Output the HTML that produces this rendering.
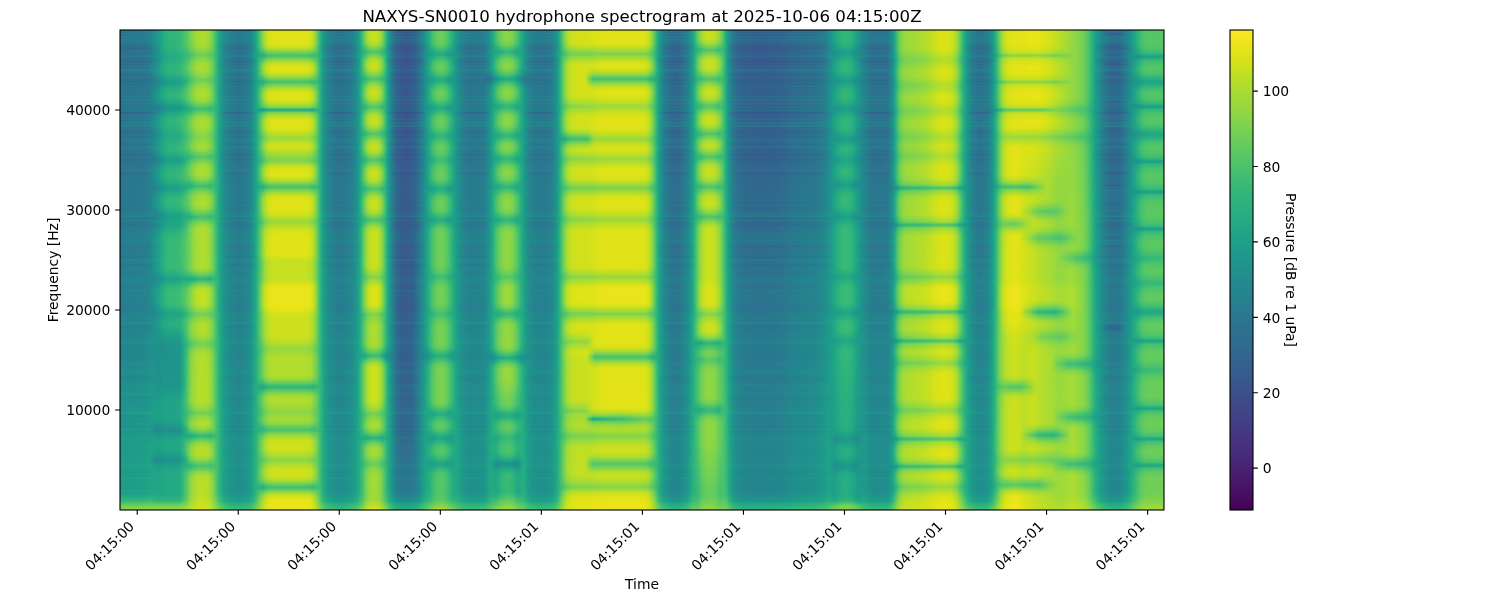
<!DOCTYPE html>
<html><head><meta charset="utf-8"><title>NAXYS-SN0010 hydrophone spectrogram</title>
<style>html,body{margin:0;padding:0;background:#fff}svg{display:block}text{font-family:"DejaVu Sans","Liberation Sans",sans-serif;font-size:13.889px;fill:#000}</style></head>
<body><svg width="1500" height="600" viewBox="0 0 1500 600">
<defs>
<filter id="vir" x="0" y="0" width="100%" height="100%" color-interpolation-filters="sRGB"><feComponentTransfer><feFuncR type="table" tableValues=".267 .269 .270 .271 .273 .274 .275 .276 .277 .278 .279 .280 .280 .281 .281 .282 .282 .283 .283 .283 .283 .283 .283 .283 .283 .283 .282 .282 .281 .281 .280 .280 .279 .278 .277 .276 .275 .274 .273 .272 .271 .269 .268 .267 .265 .264 .262 .261 .259 .257 .256 .254 .252 .250 .249 .247 .245 .243 .241 .239 .237 .236 .234 .232 .230 .228 .226 .224 .222 .220 .218 .216 .214 .212 .211 .209 .207 .205 .203 .201 .199 .198 .196 .194 .192 .191 .189 .187 .186 .184 .182 .181 .179 .177 .176 .174 .173 .171 .170 .168 .167 .165 .164 .162 .161 .159 .158 .156 .155 .153 .152 .150 .149 .148 .146 .145 .143 .142 .141 .139 .138 .136 .135 .134 .132 .131 .130 .129 .128 .126 .125 .124 .123 .123 .122 .121 .121 .120 .120 .120 .119 .119 .120 .120 .121 .121 .122 .123 .125 .126 .128 .130 .132 .135 .137 .140 .143 .147 .150 .154 .158 .162 .166 .171 .176 .181 .186 .191 .197 .202 .208 .214 .220 .226 .233 .239 .246 .253 .260 .267 .274 .281 .289 .296 .304 .312 .320 .328 .336 .344 .352 .361 .369 .378 .386 .395 .404 .413 .422 .431 .440 .449 .459 .468 .478 .487 .497 .506 .516 .526 .536 .546 .555 .565 .576 .586 .596 .606 .616 .627 .637 .647 .658 .668 .678 .689 .699 .710 .720 .731 .741 .752 .762 .773 .783 .794 .804 .815 .825 .835 .846 .856 .866 .876 .886 .896 .906 .916 .926 .936 .946 .955 .965 .974 .984 .993"/><feFuncG type="table" tableValues=".005 .010 .015 .020 .026 .031 .038 .044 .050 .056 .062 .068 .073 .079 .084 .090 .095 .100 .105 .111 .116 .121 .126 .131 .136 .141 .146 .151 .156 .161 .166 .171 .175 .180 .185 .190 .195 .200 .205 .209 .214 .219 .224 .228 .233 .238 .242 .247 .252 .256 .261 .265 .270 .274 .279 .283 .288 .292 .296 .301 .305 .310 .314 .318 .322 .327 .331 .335 .339 .343 .347 .352 .356 .360 .364 .368 .372 .376 .380 .384 .388 .392 .395 .399 .403 .407 .411 .415 .419 .422 .426 .430 .434 .438 .441 .445 .449 .453 .456 .460 .464 .467 .471 .475 .479 .482 .486 .490 .493 .497 .501 .504 .508 .512 .515 .519 .523 .526 .530 .534 .537 .541 .545 .549 .552 .556 .560 .563 .567 .571 .574 .578 .582 .585 .589 .593 .596 .600 .604 .607 .611 .615 .618 .622 .626 .629 .633 .637 .640 .644 .648 .651 .655 .659 .662 .666 .669 .673 .677 .680 .684 .687 .691 .694 .698 .701 .705 .708 .712 .715 .719 .722 .726 .729 .732 .736 .739 .742 .745 .749 .752 .755 .758 .762 .765 .768 .771 .774 .777 .780 .783 .786 .789 .792 .795 .797 .800 .803 .806 .808 .811 .814 .816 .819 .821 .824 .826 .829 .831 .833 .836 .838 .840 .842 .845 .847 .849 .851 .853 .855 .857 .858 .860 .862 .864 .865 .867 .869 .870 .872 .873 .875 .876 .878 .879 .881 .882 .883 .885 .886 .887 .889 .890 .891 .892 .894 .895 .896 .897 .899 .900 .901 .902 .904 .905 .906"/><feFuncB type="table" tableValues=".329 .335 .341 .347 .353 .359 .365 .370 .376 .381 .387 .392 .397 .402 .407 .412 .417 .422 .427 .432 .436 .441 .445 .449 .453 .458 .462 .465 .469 .473 .476 .480 .483 .487 .490 .493 .496 .499 .502 .504 .507 .510 .512 .514 .517 .519 .521 .523 .525 .527 .528 .530 .532 .533 .535 .536 .537 .539 .540 .541 .542 .543 .544 .545 .546 .547 .547 .548 .549 .549 .550 .551 .551 .552 .552 .553 .553 .554 .554 .554 .555 .555 .555 .556 .556 .556 .556 .557 .557 .557 .557 .557 .557 .558 .558 .558 .558 .558 .558 .558 .558 .558 .558 .558 .558 .558 .558 .558 .558 .558 .558 .557 .557 .557 .557 .557 .556 .556 .556 .555 .555 .554 .554 .554 .553 .552 .552 .551 .551 .550 .549 .548 .547 .547 .546 .545 .544 .543 .541 .540 .539 .538 .536 .535 .533 .532 .530 .529 .527 .525 .523 .522 .520 .518 .516 .513 .511 .509 .507 .504 .502 .499 .497 .494 .491 .488 .485 .482 .479 .476 .473 .470 .466 .463 .459 .456 .452 .448 .444 .441 .437 .433 .428 .424 .420 .416 .411 .407 .402 .397 .393 .388 .383 .378 .373 .368 .363 .357 .352 .346 .341 .335 .330 .324 .318 .312 .306 .300 .294 .288 .282 .276 .269 .263 .256 .250 .243 .237 .230 .223 .217 .210 .203 .196 .190 .183 .176 .169 .163 .156 .150 .143 .137 .131 .125 .120 .115 .110 .106 .103 .100 .097 .096 .095 .095 .096 .098 .101 .104 .108 .113 .118 .124 .130 .137 .144"/></feComponentTransfer></filter>
<filter id="vb" x="-5%" y="-5%" width="110%" height="110%" color-interpolation-filters="sRGB"><feGaussianBlur stdDeviation="0 0.9"/></filter>
<filter id="vw" x="-5%" y="-5%" width="110%" height="110%" color-interpolation-filters="sRGB"><feGaussianBlur stdDeviation="0 4"/></filter>
<clipPath id="cp"><rect x="120" y="30" width="1044" height="480"/></clipPath>
<linearGradient id="b" gradientUnits="userSpaceOnUse" x1="120" x2="1164" y1="0" y2="0"><stop offset="0" stop-color="#626262"/><stop offset="0.0029" stop-color="#636363"/><stop offset="0.0057" stop-color="#636363"/><stop offset="0.0086" stop-color="#646464"/><stop offset="0.0115" stop-color="#646464"/><stop offset="0.0144" stop-color="#656565"/><stop offset="0.0172" stop-color="#656565"/><stop offset="0.0201" stop-color="#666666"/><stop offset="0.023" stop-color="#676767"/><stop offset="0.0259" stop-color="#696969"/><stop offset="0.0287" stop-color="#6f6f6f"/><stop offset="0.0316" stop-color="#7a7a7a"/><stop offset="0.0345" stop-color="#858585"/><stop offset="0.0374" stop-color="#8f8f8f"/><stop offset="0.0402" stop-color="#999999"/><stop offset="0.0431" stop-color="#a1a1a1"/><stop offset="0.046" stop-color="#a6a6a6"/><stop offset="0.0489" stop-color="#a7a7a7"/><stop offset="0.0517" stop-color="#a7a7a7"/><stop offset="0.0546" stop-color="#a9a9a9"/><stop offset="0.0575" stop-color="#acacac"/><stop offset="0.0603" stop-color="#b2b2b2"/><stop offset="0.0632" stop-color="#bababa"/><stop offset="0.0661" stop-color="#c4c4c4"/><stop offset="0.069" stop-color="#d0d0d0"/><stop offset="0.0718" stop-color="#d8d8d8"/><stop offset="0.0747" stop-color="#dedede"/><stop offset="0.0776" stop-color="#e0e0e0"/><stop offset="0.0805" stop-color="#e0e0e0"/><stop offset="0.0833" stop-color="#dedede"/><stop offset="0.0862" stop-color="#d6d6d6"/><stop offset="0.0891" stop-color="#c6c6c6"/><stop offset="0.092" stop-color="#afafaf"/><stop offset="0.0948" stop-color="#989898"/><stop offset="0.0977" stop-color="#858585"/><stop offset="0.1006" stop-color="#787878"/><stop offset="0.1034" stop-color="#707070"/><stop offset="0.1063" stop-color="#6b6b6b"/><stop offset="0.1092" stop-color="#676767"/><stop offset="0.1121" stop-color="#646464"/><stop offset="0.1149" stop-color="#646464"/><stop offset="0.1178" stop-color="#676767"/><stop offset="0.1207" stop-color="#6a6a6a"/><stop offset="0.1236" stop-color="#707070"/><stop offset="0.1264" stop-color="#7b7b7b"/><stop offset="0.1293" stop-color="#8f8f8f"/><stop offset="0.1322" stop-color="#a9a9a9"/><stop offset="0.1351" stop-color="#c5c5c5"/><stop offset="0.1379" stop-color="#dcdcdc"/><stop offset="0.1408" stop-color="#ebebeb"/><stop offset="0.1437" stop-color="#f1f1f1"/><stop offset="0.1466" stop-color="#f3f3f3"/><stop offset="0.1494" stop-color="#f3f3f3"/><stop offset="0.1523" stop-color="#f4f4f4"/><stop offset="0.1552" stop-color="#f4f4f4"/><stop offset="0.158" stop-color="#f4f4f4"/><stop offset="0.1609" stop-color="#f4f4f4"/><stop offset="0.1638" stop-color="#f4f4f4"/><stop offset="0.1667" stop-color="#f4f4f4"/><stop offset="0.1695" stop-color="#f4f4f4"/><stop offset="0.1724" stop-color="#f4f4f4"/><stop offset="0.1753" stop-color="#f4f4f4"/><stop offset="0.1782" stop-color="#f3f3f3"/><stop offset="0.181" stop-color="#f1f1f1"/><stop offset="0.1839" stop-color="#ebebeb"/><stop offset="0.1868" stop-color="#d9d9d9"/><stop offset="0.1897" stop-color="#bdbdbd"/><stop offset="0.1925" stop-color="#9d9d9d"/><stop offset="0.1954" stop-color="#848484"/><stop offset="0.1983" stop-color="#767676"/><stop offset="0.2011" stop-color="#6e6e6e"/><stop offset="0.204" stop-color="#696969"/><stop offset="0.2069" stop-color="#646464"/><stop offset="0.2098" stop-color="#616161"/><stop offset="0.2126" stop-color="#616161"/><stop offset="0.2155" stop-color="#656565"/><stop offset="0.2184" stop-color="#696969"/><stop offset="0.2213" stop-color="#6d6d6d"/><stop offset="0.2241" stop-color="#747474"/><stop offset="0.227" stop-color="#818181"/><stop offset="0.2299" stop-color="#9a9a9a"/><stop offset="0.2328" stop-color="#b9b9b9"/><stop offset="0.2356" stop-color="#d4d4d4"/><stop offset="0.2385" stop-color="#e4e4e4"/><stop offset="0.2414" stop-color="#eaeaea"/><stop offset="0.2443" stop-color="#ebebeb"/><stop offset="0.2471" stop-color="#e7e7e7"/><stop offset="0.25" stop-color="#dadada"/><stop offset="0.2529" stop-color="#c1c1c1"/><stop offset="0.2557" stop-color="#9e9e9e"/><stop offset="0.2586" stop-color="#7c7c7c"/><stop offset="0.2615" stop-color="#646464"/><stop offset="0.2644" stop-color="#555555"/><stop offset="0.2672" stop-color="#4e4e4e"/><stop offset="0.2701" stop-color="#494949"/><stop offset="0.273" stop-color="#474747"/><stop offset="0.2759" stop-color="#484848"/><stop offset="0.2787" stop-color="#4b4b4b"/><stop offset="0.2816" stop-color="#4f4f4f"/><stop offset="0.2845" stop-color="#585858"/><stop offset="0.2874" stop-color="#646464"/><stop offset="0.2902" stop-color="#747474"/><stop offset="0.2931" stop-color="#898989"/><stop offset="0.296" stop-color="#9e9e9e"/><stop offset="0.2989" stop-color="#b0b0b0"/><stop offset="0.3017" stop-color="#bdbdbd"/><stop offset="0.3046" stop-color="#c4c4c4"/><stop offset="0.3075" stop-color="#c7c7c7"/><stop offset="0.3103" stop-color="#c3c3c3"/><stop offset="0.3132" stop-color="#bbbbbb"/><stop offset="0.3161" stop-color="#adadad"/><stop offset="0.319" stop-color="#9c9c9c"/><stop offset="0.3218" stop-color="#8a8a8a"/><stop offset="0.3247" stop-color="#7c7c7c"/><stop offset="0.3276" stop-color="#727272"/><stop offset="0.3305" stop-color="#6b6b6b"/><stop offset="0.3333" stop-color="#686868"/><stop offset="0.3362" stop-color="#666666"/><stop offset="0.3391" stop-color="#666666"/><stop offset="0.342" stop-color="#676767"/><stop offset="0.3448" stop-color="#686868"/><stop offset="0.3477" stop-color="#6a6a6a"/><stop offset="0.3506" stop-color="#707070"/><stop offset="0.3534" stop-color="#808080"/><stop offset="0.3563" stop-color="#959595"/><stop offset="0.3592" stop-color="#acacac"/><stop offset="0.3621" stop-color="#bebebe"/><stop offset="0.3649" stop-color="#cacaca"/><stop offset="0.3678" stop-color="#d1d1d1"/><stop offset="0.3707" stop-color="#d4d4d4"/><stop offset="0.3736" stop-color="#d2d2d2"/><stop offset="0.3764" stop-color="#cccccc"/><stop offset="0.3793" stop-color="#bfbfbf"/><stop offset="0.3822" stop-color="#aeaeae"/><stop offset="0.3851" stop-color="#9a9a9a"/><stop offset="0.3879" stop-color="#868686"/><stop offset="0.3908" stop-color="#787878"/><stop offset="0.3937" stop-color="#6f6f6f"/><stop offset="0.3966" stop-color="#6a6a6a"/><stop offset="0.3994" stop-color="#686868"/><stop offset="0.4023" stop-color="#666666"/><stop offset="0.4052" stop-color="#666666"/><stop offset="0.408" stop-color="#676767"/><stop offset="0.4109" stop-color="#6a6a6a"/><stop offset="0.4138" stop-color="#6f6f6f"/><stop offset="0.4167" stop-color="#7b7b7b"/><stop offset="0.4195" stop-color="#919191"/><stop offset="0.4224" stop-color="#b1b1b1"/><stop offset="0.4253" stop-color="#cfcfcf"/><stop offset="0.4282" stop-color="#e4e4e4"/><stop offset="0.431" stop-color="#eeeeee"/><stop offset="0.4339" stop-color="#f1f1f1"/><stop offset="0.4368" stop-color="#f3f3f3"/><stop offset="0.4397" stop-color="#f4f4f4"/><stop offset="0.4425" stop-color="#f4f4f4"/><stop offset="0.4454" stop-color="#f4f4f4"/><stop offset="0.4483" stop-color="#f4f4f4"/><stop offset="0.4511" stop-color="#f4f4f4"/><stop offset="0.454" stop-color="#f4f4f4"/><stop offset="0.4569" stop-color="#f4f4f4"/><stop offset="0.4598" stop-color="#f4f4f4"/><stop offset="0.4626" stop-color="#f4f4f4"/><stop offset="0.4655" stop-color="#f4f4f4"/><stop offset="0.4684" stop-color="#f4f4f4"/><stop offset="0.4713" stop-color="#f4f4f4"/><stop offset="0.4741" stop-color="#f4f4f4"/><stop offset="0.477" stop-color="#f4f4f4"/><stop offset="0.4799" stop-color="#f4f4f4"/><stop offset="0.4828" stop-color="#f4f4f4"/><stop offset="0.4856" stop-color="#f4f4f4"/><stop offset="0.4885" stop-color="#f4f4f4"/><stop offset="0.4914" stop-color="#f4f4f4"/><stop offset="0.4943" stop-color="#f4f4f4"/><stop offset="0.4971" stop-color="#f4f4f4"/><stop offset="0.5" stop-color="#f3f3f3"/><stop offset="0.5029" stop-color="#f2f2f2"/><stop offset="0.5057" stop-color="#ececec"/><stop offset="0.5086" stop-color="#dddddd"/><stop offset="0.5115" stop-color="#c4c4c4"/><stop offset="0.5144" stop-color="#a4a4a4"/><stop offset="0.5172" stop-color="#878787"/><stop offset="0.5201" stop-color="#747474"/><stop offset="0.523" stop-color="#686868"/><stop offset="0.5259" stop-color="#606060"/><stop offset="0.5287" stop-color="#5a5a5a"/><stop offset="0.5316" stop-color="#585858"/><stop offset="0.5345" stop-color="#5a5a5a"/><stop offset="0.5374" stop-color="#5e5e5e"/><stop offset="0.5402" stop-color="#656565"/><stop offset="0.5431" stop-color="#6e6e6e"/><stop offset="0.546" stop-color="#7d7d7d"/><stop offset="0.5489" stop-color="#949494"/><stop offset="0.5517" stop-color="#b2b2b2"/><stop offset="0.5546" stop-color="#cecece"/><stop offset="0.5575" stop-color="#dedede"/><stop offset="0.5603" stop-color="#e7e7e7"/><stop offset="0.5632" stop-color="#ebebeb"/><stop offset="0.5661" stop-color="#ebebeb"/><stop offset="0.569" stop-color="#e8e8e8"/><stop offset="0.5718" stop-color="#e0e0e0"/><stop offset="0.5747" stop-color="#d2d2d2"/><stop offset="0.5776" stop-color="#bcbcbc"/><stop offset="0.5805" stop-color="#a0a0a0"/><stop offset="0.5833" stop-color="#878787"/><stop offset="0.5862" stop-color="#747474"/><stop offset="0.5891" stop-color="#676767"/><stop offset="0.592" stop-color="#606060"/><stop offset="0.5948" stop-color="#5b5b5b"/><stop offset="0.5977" stop-color="#595959"/><stop offset="0.6006" stop-color="#585858"/><stop offset="0.6034" stop-color="#585858"/><stop offset="0.6063" stop-color="#575757"/><stop offset="0.6092" stop-color="#565656"/><stop offset="0.6121" stop-color="#565656"/><stop offset="0.6149" stop-color="#565656"/><stop offset="0.6178" stop-color="#565656"/><stop offset="0.6207" stop-color="#575757"/><stop offset="0.6236" stop-color="#575757"/><stop offset="0.6264" stop-color="#575757"/><stop offset="0.6293" stop-color="#585858"/><stop offset="0.6322" stop-color="#595959"/><stop offset="0.6351" stop-color="#5b5b5b"/><stop offset="0.6379" stop-color="#5d5d5d"/><stop offset="0.6408" stop-color="#5f5f5f"/><stop offset="0.6437" stop-color="#616161"/><stop offset="0.6466" stop-color="#626262"/><stop offset="0.6494" stop-color="#636363"/><stop offset="0.6523" stop-color="#646464"/><stop offset="0.6552" stop-color="#656565"/><stop offset="0.658" stop-color="#666666"/><stop offset="0.6609" stop-color="#676767"/><stop offset="0.6638" stop-color="#686868"/><stop offset="0.6667" stop-color="#6a6a6a"/><stop offset="0.6695" stop-color="#6d6d6d"/><stop offset="0.6724" stop-color="#717171"/><stop offset="0.6753" stop-color="#757575"/><stop offset="0.6782" stop-color="#7d7d7d"/><stop offset="0.681" stop-color="#878787"/><stop offset="0.6839" stop-color="#929292"/><stop offset="0.6868" stop-color="#9c9c9c"/><stop offset="0.6897" stop-color="#a4a4a4"/><stop offset="0.6925" stop-color="#a8a8a8"/><stop offset="0.6954" stop-color="#aaaaaa"/><stop offset="0.6983" stop-color="#a8a8a8"/><stop offset="0.7011" stop-color="#a3a3a3"/><stop offset="0.704" stop-color="#999999"/><stop offset="0.7069" stop-color="#8c8c8c"/><stop offset="0.7098" stop-color="#7e7e7e"/><stop offset="0.7126" stop-color="#737373"/><stop offset="0.7155" stop-color="#6b6b6b"/><stop offset="0.7184" stop-color="#656565"/><stop offset="0.7213" stop-color="#626262"/><stop offset="0.7241" stop-color="#616161"/><stop offset="0.727" stop-color="#616161"/><stop offset="0.7299" stop-color="#616161"/><stop offset="0.7328" stop-color="#616161"/><stop offset="0.7356" stop-color="#666666"/><stop offset="0.7385" stop-color="#757575"/><stop offset="0.7414" stop-color="#919191"/><stop offset="0.7443" stop-color="#b5b5b5"/><stop offset="0.7471" stop-color="#cfcfcf"/><stop offset="0.75" stop-color="#dcdcdc"/><stop offset="0.7529" stop-color="#e1e1e1"/><stop offset="0.7557" stop-color="#e3e3e3"/><stop offset="0.7586" stop-color="#e4e4e4"/><stop offset="0.7615" stop-color="#e5e5e5"/><stop offset="0.7644" stop-color="#e6e6e6"/><stop offset="0.7672" stop-color="#e8e8e8"/><stop offset="0.7701" stop-color="#e9e9e9"/><stop offset="0.773" stop-color="#ebebeb"/><stop offset="0.7759" stop-color="#ececec"/><stop offset="0.7787" stop-color="#eeeeee"/><stop offset="0.7816" stop-color="#f0f0f0"/><stop offset="0.7845" stop-color="#f1f1f1"/><stop offset="0.7874" stop-color="#f2f2f2"/><stop offset="0.7902" stop-color="#f2f2f2"/><stop offset="0.7931" stop-color="#f1f1f1"/><stop offset="0.796" stop-color="#efefef"/><stop offset="0.7989" stop-color="#e8e8e8"/><stop offset="0.8017" stop-color="#dadada"/><stop offset="0.8046" stop-color="#c3c3c3"/><stop offset="0.8075" stop-color="#aaaaaa"/><stop offset="0.8103" stop-color="#919191"/><stop offset="0.8132" stop-color="#7e7e7e"/><stop offset="0.8161" stop-color="#717171"/><stop offset="0.819" stop-color="#696969"/><stop offset="0.8218" stop-color="#646464"/><stop offset="0.8247" stop-color="#626262"/><stop offset="0.8276" stop-color="#656565"/><stop offset="0.8305" stop-color="#6b6b6b"/><stop offset="0.8333" stop-color="#777777"/><stop offset="0.8362" stop-color="#8b8b8b"/><stop offset="0.8391" stop-color="#a5a5a5"/><stop offset="0.842" stop-color="#c3c3c3"/><stop offset="0.8448" stop-color="#dbdbdb"/><stop offset="0.8477" stop-color="#eaeaea"/><stop offset="0.8506" stop-color="#f1f1f1"/><stop offset="0.8534" stop-color="#f4f4f4"/><stop offset="0.8563" stop-color="#f5f5f5"/><stop offset="0.8592" stop-color="#f5f5f5"/><stop offset="0.8621" stop-color="#f5f5f5"/><stop offset="0.8649" stop-color="#f5f5f5"/><stop offset="0.8678" stop-color="#f5f5f5"/><stop offset="0.8707" stop-color="#f6f6f6"/><stop offset="0.8736" stop-color="#f6f6f6"/><stop offset="0.8764" stop-color="#f6f6f6"/><stop offset="0.8793" stop-color="#f6f6f6"/><stop offset="0.8822" stop-color="#f5f5f5"/><stop offset="0.8851" stop-color="#f3f3f3"/><stop offset="0.8879" stop-color="#f1f1f1"/><stop offset="0.8908" stop-color="#efefef"/><stop offset="0.8937" stop-color="#ececec"/><stop offset="0.8966" stop-color="#e9e9e9"/><stop offset="0.8994" stop-color="#e6e6e6"/><stop offset="0.9023" stop-color="#e3e3e3"/><stop offset="0.9052" stop-color="#dfdfdf"/><stop offset="0.908" stop-color="#dcdcdc"/><stop offset="0.9109" stop-color="#d9d9d9"/><stop offset="0.9138" stop-color="#d6d6d6"/><stop offset="0.9167" stop-color="#d2d2d2"/><stop offset="0.9195" stop-color="#cecece"/><stop offset="0.9224" stop-color="#cacaca"/><stop offset="0.9253" stop-color="#c1c1c1"/><stop offset="0.9282" stop-color="#b5b5b5"/><stop offset="0.931" stop-color="#a5a5a5"/><stop offset="0.9339" stop-color="#939393"/><stop offset="0.9368" stop-color="#838383"/><stop offset="0.9397" stop-color="#767676"/><stop offset="0.9425" stop-color="#6b6b6b"/><stop offset="0.9454" stop-color="#636363"/><stop offset="0.9483" stop-color="#5d5d5d"/><stop offset="0.9511" stop-color="#5a5a5a"/><stop offset="0.954" stop-color="#5a5a5a"/><stop offset="0.9569" stop-color="#5c5c5c"/><stop offset="0.9598" stop-color="#616161"/><stop offset="0.9626" stop-color="#6a6a6a"/><stop offset="0.9655" stop-color="#767676"/><stop offset="0.9684" stop-color="#858585"/><stop offset="0.9713" stop-color="#949494"/><stop offset="0.9741" stop-color="#a2a2a2"/><stop offset="0.977" stop-color="#aeaeae"/><stop offset="0.9799" stop-color="#b7b7b7"/><stop offset="0.9828" stop-color="#bbbbbb"/><stop offset="0.9856" stop-color="#bcbcbc"/><stop offset="0.9885" stop-color="#bcbcbc"/><stop offset="0.9914" stop-color="#bcbcbc"/><stop offset="0.9943" stop-color="#bcbcbc"/><stop offset="0.9971" stop-color="#bdbdbd"/><stop offset="1" stop-color="#bdbdbd"/></linearGradient>
<linearGradient id="mx0" gradientUnits="userSpaceOnUse" x1="120" x2="1164" y1="0" y2="0"><stop offset="0.5785" stop-color="#fff" stop-opacity="0"/><stop offset="0.5862" stop-color="#fff" stop-opacity="1"/><stop offset="0.6743" stop-color="#fff" stop-opacity="1"/><stop offset="0.682" stop-color="#fff" stop-opacity="0"/></linearGradient>
<mask id="m0" maskUnits="userSpaceOnUse" x="120" y="30" width="1044" height="480"><rect x="120" y="30" width="1044" height="480" fill="url(#mx0)"/></mask>
<linearGradient id="vy0" gradientUnits="userSpaceOnUse" x1="0" x2="0" y1="30" y2="510"><stop offset="0" stop-color="#000" stop-opacity="0.09"/><stop offset="0.1875" stop-color="#000" stop-opacity="0.06"/><stop offset="0.3542" stop-color="#000" stop-opacity="0.03"/><stop offset="0.5625" stop-color="#000" stop-opacity="0"/></linearGradient>
<linearGradient id="mx1" gradientUnits="userSpaceOnUse" x1="120" x2="1164" y1="0" y2="0"><stop offset="0" stop-color="#fff" stop-opacity="1"/><stop offset="1" stop-color="#fff" stop-opacity="1"/></linearGradient>
<mask id="m1" maskUnits="userSpaceOnUse" x="120" y="30" width="1044" height="480"><rect x="120" y="30" width="1044" height="480" fill="url(#mx1)"/></mask>
<linearGradient id="vy1" gradientUnits="userSpaceOnUse" x1="0" x2="0" y1="30" y2="510"><stop offset="0.25" stop-color="#fff" stop-opacity="0"/><stop offset="0.5" stop-color="#fff" stop-opacity="0.06"/><stop offset="0.6667" stop-color="#fff" stop-opacity="0.11"/><stop offset="0.875" stop-color="#fff" stop-opacity="0.17"/><stop offset="0.9667" stop-color="#fff" stop-opacity="0.19"/><stop offset="0.9812" stop-color="#fff" stop-opacity="0.3"/><stop offset="0.9917" stop-color="#fff" stop-opacity="0.42"/><stop offset="1" stop-color="#fff" stop-opacity="0.5"/></linearGradient>
<linearGradient id="mx2" gradientUnits="userSpaceOnUse" x1="120" x2="1164" y1="0" y2="0"><stop offset="0" stop-color="#fff" stop-opacity="1"/><stop offset="0.0287" stop-color="#fff" stop-opacity="1"/><stop offset="0.0383" stop-color="#fff" stop-opacity="0.5"/><stop offset="0.0498" stop-color="#fff" stop-opacity="0"/></linearGradient>
<mask id="m2" maskUnits="userSpaceOnUse" x="120" y="30" width="1044" height="480"><rect x="120" y="30" width="1044" height="480" fill="url(#mx2)"/></mask>
<linearGradient id="vy2" gradientUnits="userSpaceOnUse" x1="0" x2="0" y1="30" y2="510"><stop offset="0.625" stop-color="#fff" stop-opacity="0"/><stop offset="0.8125" stop-color="#fff" stop-opacity="0.1"/><stop offset="0.9688" stop-color="#fff" stop-opacity="0.14"/><stop offset="0.9854" stop-color="#fff" stop-opacity="0.3"/><stop offset="1" stop-color="#fff" stop-opacity="0.5"/></linearGradient>
<linearGradient id="mx3" gradientUnits="userSpaceOnUse" x1="120" x2="1164" y1="0" y2="0"><stop offset="0.0287" stop-color="#fff" stop-opacity="0"/><stop offset="0.0383" stop-color="#fff" stop-opacity="0.8"/><stop offset="0.046" stop-color="#fff" stop-opacity="1"/><stop offset="0.0575" stop-color="#fff" stop-opacity="1"/><stop offset="0.067" stop-color="#fff" stop-opacity="0"/></linearGradient>
<mask id="m3" maskUnits="userSpaceOnUse" x="120" y="30" width="1044" height="480"><rect x="120" y="30" width="1044" height="480" fill="url(#mx3)"/></mask>
<linearGradient id="vy3" gradientUnits="userSpaceOnUse" x1="0" x2="0" y1="30" y2="510"><stop offset="0.5938" stop-color="#000" stop-opacity="0"/><stop offset="0.6562" stop-color="#000" stop-opacity="0.25"/><stop offset="0.7396" stop-color="#000" stop-opacity="0.25"/><stop offset="0.7708" stop-color="#000" stop-opacity="0.17"/><stop offset="0.9792" stop-color="#000" stop-opacity="0.15"/><stop offset="0.9917" stop-color="#000" stop-opacity="0"/></linearGradient>
<linearGradient id="mx4" gradientUnits="userSpaceOnUse" x1="120" x2="1164" y1="0" y2="0"><stop offset="0" stop-color="#fff" stop-opacity="0"/><stop offset="0.0057" stop-color="#fff" stop-opacity="0"/><stop offset="0.0115" stop-color="#fff" stop-opacity="0"/><stop offset="0.0172" stop-color="#fff" stop-opacity="0"/><stop offset="0.023" stop-color="#fff" stop-opacity="0"/><stop offset="0.0287" stop-color="#fff" stop-opacity="0"/><stop offset="0.0345" stop-color="#fff" stop-opacity="0"/><stop offset="0.0402" stop-color="#fff" stop-opacity="0"/><stop offset="0.046" stop-color="#fff" stop-opacity="0"/><stop offset="0.0517" stop-color="#fff" stop-opacity="0"/><stop offset="0.0575" stop-color="#fff" stop-opacity="0"/><stop offset="0.0632" stop-color="#fff" stop-opacity="0"/><stop offset="0.069" stop-color="#fff" stop-opacity="0.21"/><stop offset="0.0747" stop-color="#fff" stop-opacity="0.57"/><stop offset="0.0805" stop-color="#fff" stop-opacity="0.62"/><stop offset="0.0862" stop-color="#fff" stop-opacity="0.37"/><stop offset="0.092" stop-color="#fff" stop-opacity="0"/><stop offset="0.0977" stop-color="#fff" stop-opacity="0"/><stop offset="0.1034" stop-color="#fff" stop-opacity="0"/><stop offset="0.1092" stop-color="#fff" stop-opacity="0"/><stop offset="0.1149" stop-color="#fff" stop-opacity="0"/><stop offset="0.1207" stop-color="#fff" stop-opacity="0"/><stop offset="0.1264" stop-color="#fff" stop-opacity="0"/><stop offset="0.1322" stop-color="#fff" stop-opacity="0"/><stop offset="0.1379" stop-color="#fff" stop-opacity="0.52"/><stop offset="0.1437" stop-color="#fff" stop-opacity="1"/><stop offset="0.1494" stop-color="#fff" stop-opacity="1"/><stop offset="0.1552" stop-color="#fff" stop-opacity="1"/><stop offset="0.1609" stop-color="#fff" stop-opacity="1"/><stop offset="0.1667" stop-color="#fff" stop-opacity="1"/><stop offset="0.1724" stop-color="#fff" stop-opacity="1"/><stop offset="0.1782" stop-color="#fff" stop-opacity="1"/><stop offset="0.1839" stop-color="#fff" stop-opacity="0.88"/><stop offset="0.1897" stop-color="#fff" stop-opacity="0"/><stop offset="0.1954" stop-color="#fff" stop-opacity="0"/><stop offset="0.2011" stop-color="#fff" stop-opacity="0"/><stop offset="0.2069" stop-color="#fff" stop-opacity="0"/><stop offset="0.2126" stop-color="#fff" stop-opacity="0"/><stop offset="0.2184" stop-color="#fff" stop-opacity="0"/><stop offset="0.2241" stop-color="#fff" stop-opacity="0"/><stop offset="0.2299" stop-color="#fff" stop-opacity="0"/><stop offset="0.2356" stop-color="#fff" stop-opacity="0.32"/><stop offset="0.2414" stop-color="#fff" stop-opacity="0.87"/><stop offset="0.2471" stop-color="#fff" stop-opacity="0.78"/><stop offset="0.2529" stop-color="#fff" stop-opacity="0"/><stop offset="0.2586" stop-color="#fff" stop-opacity="0"/><stop offset="0.2644" stop-color="#fff" stop-opacity="0"/><stop offset="0.2701" stop-color="#fff" stop-opacity="0"/><stop offset="0.2759" stop-color="#fff" stop-opacity="0"/><stop offset="0.2816" stop-color="#fff" stop-opacity="0"/><stop offset="0.2874" stop-color="#fff" stop-opacity="0"/><stop offset="0.2931" stop-color="#fff" stop-opacity="0"/><stop offset="0.2989" stop-color="#fff" stop-opacity="0"/><stop offset="0.3046" stop-color="#fff" stop-opacity="0"/><stop offset="0.3103" stop-color="#fff" stop-opacity="0"/><stop offset="0.3161" stop-color="#fff" stop-opacity="0"/><stop offset="0.3218" stop-color="#fff" stop-opacity="0"/><stop offset="0.3276" stop-color="#fff" stop-opacity="0"/><stop offset="0.3333" stop-color="#fff" stop-opacity="0"/><stop offset="0.3391" stop-color="#fff" stop-opacity="0"/><stop offset="0.3448" stop-color="#fff" stop-opacity="0"/><stop offset="0.3506" stop-color="#fff" stop-opacity="0"/><stop offset="0.3563" stop-color="#fff" stop-opacity="0"/><stop offset="0.3621" stop-color="#fff" stop-opacity="0"/><stop offset="0.3678" stop-color="#fff" stop-opacity="0.25"/><stop offset="0.3736" stop-color="#fff" stop-opacity="0.28"/><stop offset="0.3793" stop-color="#fff" stop-opacity="0"/><stop offset="0.3851" stop-color="#fff" stop-opacity="0"/><stop offset="0.3908" stop-color="#fff" stop-opacity="0"/><stop offset="0.3966" stop-color="#fff" stop-opacity="0"/><stop offset="0.4023" stop-color="#fff" stop-opacity="0"/><stop offset="0.408" stop-color="#fff" stop-opacity="0"/><stop offset="0.4138" stop-color="#fff" stop-opacity="0"/><stop offset="0.4195" stop-color="#fff" stop-opacity="0"/><stop offset="0.4253" stop-color="#fff" stop-opacity="0.21"/><stop offset="0.431" stop-color="#fff" stop-opacity="0.95"/><stop offset="0.4368" stop-color="#fff" stop-opacity="1"/><stop offset="0.4425" stop-color="#fff" stop-opacity="1"/><stop offset="0.4483" stop-color="#fff" stop-opacity="1"/><stop offset="0.454" stop-color="#fff" stop-opacity="1"/><stop offset="0.4598" stop-color="#fff" stop-opacity="1"/><stop offset="0.4655" stop-color="#fff" stop-opacity="1"/><stop offset="0.4713" stop-color="#fff" stop-opacity="1"/><stop offset="0.477" stop-color="#fff" stop-opacity="1"/><stop offset="0.4828" stop-color="#fff" stop-opacity="1"/><stop offset="0.4885" stop-color="#fff" stop-opacity="1"/><stop offset="0.4943" stop-color="#fff" stop-opacity="1"/><stop offset="0.5" stop-color="#fff" stop-opacity="1"/><stop offset="0.5057" stop-color="#fff" stop-opacity="0.9"/><stop offset="0.5115" stop-color="#fff" stop-opacity="0"/><stop offset="0.5172" stop-color="#fff" stop-opacity="0"/><stop offset="0.523" stop-color="#fff" stop-opacity="0"/><stop offset="0.5287" stop-color="#fff" stop-opacity="0"/><stop offset="0.5345" stop-color="#fff" stop-opacity="0"/><stop offset="0.5402" stop-color="#fff" stop-opacity="0"/><stop offset="0.546" stop-color="#fff" stop-opacity="0"/><stop offset="0.5517" stop-color="#fff" stop-opacity="0"/><stop offset="0.5575" stop-color="#fff" stop-opacity="0.58"/><stop offset="0.5632" stop-color="#fff" stop-opacity="0.88"/><stop offset="0.569" stop-color="#fff" stop-opacity="0.8"/><stop offset="0.5747" stop-color="#fff" stop-opacity="0.27"/><stop offset="0.5805" stop-color="#fff" stop-opacity="0"/><stop offset="0.5862" stop-color="#fff" stop-opacity="0"/><stop offset="0.592" stop-color="#fff" stop-opacity="0"/><stop offset="0.5977" stop-color="#fff" stop-opacity="0"/><stop offset="0.6034" stop-color="#fff" stop-opacity="0"/><stop offset="0.6092" stop-color="#fff" stop-opacity="0"/><stop offset="0.6149" stop-color="#fff" stop-opacity="0"/><stop offset="0.6207" stop-color="#fff" stop-opacity="0"/><stop offset="0.6264" stop-color="#fff" stop-opacity="0"/><stop offset="0.6322" stop-color="#fff" stop-opacity="0"/><stop offset="0.6379" stop-color="#fff" stop-opacity="0"/><stop offset="0.6437" stop-color="#fff" stop-opacity="0"/><stop offset="0.6494" stop-color="#fff" stop-opacity="0"/><stop offset="0.6552" stop-color="#fff" stop-opacity="0"/><stop offset="0.6609" stop-color="#fff" stop-opacity="0"/><stop offset="0.6667" stop-color="#fff" stop-opacity="0"/><stop offset="0.6724" stop-color="#fff" stop-opacity="0"/><stop offset="0.6782" stop-color="#fff" stop-opacity="0"/><stop offset="0.6839" stop-color="#fff" stop-opacity="0"/><stop offset="0.6897" stop-color="#fff" stop-opacity="0"/><stop offset="0.6954" stop-color="#fff" stop-opacity="0"/><stop offset="0.7011" stop-color="#fff" stop-opacity="0"/><stop offset="0.7069" stop-color="#fff" stop-opacity="0"/><stop offset="0.7126" stop-color="#fff" stop-opacity="0"/><stop offset="0.7184" stop-color="#fff" stop-opacity="0"/><stop offset="0.7241" stop-color="#fff" stop-opacity="0"/><stop offset="0.7299" stop-color="#fff" stop-opacity="0"/><stop offset="0.7356" stop-color="#fff" stop-opacity="0"/><stop offset="0.7414" stop-color="#fff" stop-opacity="0"/><stop offset="0.7471" stop-color="#fff" stop-opacity="0.19"/><stop offset="0.7529" stop-color="#fff" stop-opacity="0.65"/><stop offset="0.7586" stop-color="#fff" stop-opacity="0.71"/><stop offset="0.7644" stop-color="#fff" stop-opacity="0.77"/><stop offset="0.7701" stop-color="#fff" stop-opacity="0.84"/><stop offset="0.7759" stop-color="#fff" stop-opacity="0.92"/><stop offset="0.7816" stop-color="#fff" stop-opacity="1"/><stop offset="0.7874" stop-color="#fff" stop-opacity="1"/><stop offset="0.7931" stop-color="#fff" stop-opacity="1"/><stop offset="0.7989" stop-color="#fff" stop-opacity="0.82"/><stop offset="0.8046" stop-color="#fff" stop-opacity="0"/><stop offset="0.8103" stop-color="#fff" stop-opacity="0"/><stop offset="0.8161" stop-color="#fff" stop-opacity="0"/><stop offset="0.8218" stop-color="#fff" stop-opacity="0"/><stop offset="0.8276" stop-color="#fff" stop-opacity="0"/><stop offset="0.8333" stop-color="#fff" stop-opacity="0"/><stop offset="0.8391" stop-color="#fff" stop-opacity="0"/><stop offset="0.8448" stop-color="#fff" stop-opacity="0.49"/><stop offset="0.8506" stop-color="#fff" stop-opacity="1"/><stop offset="0.8563" stop-color="#fff" stop-opacity="1"/><stop offset="0.8621" stop-color="#fff" stop-opacity="1"/><stop offset="0.8678" stop-color="#fff" stop-opacity="1"/><stop offset="0.8736" stop-color="#fff" stop-opacity="1"/><stop offset="0.8793" stop-color="#fff" stop-opacity="1"/><stop offset="0.8851" stop-color="#fff" stop-opacity="1"/><stop offset="0.8908" stop-color="#fff" stop-opacity="0.97"/><stop offset="0.8966" stop-color="#fff" stop-opacity="0.83"/><stop offset="0.9023" stop-color="#fff" stop-opacity="0.68"/><stop offset="0.908" stop-color="#fff" stop-opacity="0.52"/><stop offset="0.9138" stop-color="#fff" stop-opacity="0.36"/><stop offset="0.9195" stop-color="#fff" stop-opacity="0.19"/><stop offset="0.9253" stop-color="#fff" stop-opacity="0"/><stop offset="0.931" stop-color="#fff" stop-opacity="0"/><stop offset="0.9368" stop-color="#fff" stop-opacity="0"/><stop offset="0.9425" stop-color="#fff" stop-opacity="0"/><stop offset="0.9483" stop-color="#fff" stop-opacity="0"/><stop offset="0.954" stop-color="#fff" stop-opacity="0"/><stop offset="0.9598" stop-color="#fff" stop-opacity="0"/><stop offset="0.9655" stop-color="#fff" stop-opacity="0"/><stop offset="0.9713" stop-color="#fff" stop-opacity="0"/><stop offset="0.977" stop-color="#fff" stop-opacity="0"/><stop offset="0.9828" stop-color="#fff" stop-opacity="0"/><stop offset="0.9885" stop-color="#fff" stop-opacity="0"/><stop offset="0.9943" stop-color="#fff" stop-opacity="0"/><stop offset="1" stop-color="#fff" stop-opacity="0"/></linearGradient>
<mask id="m4" maskUnits="userSpaceOnUse" x="120" y="30" width="1044" height="480"><rect x="120" y="30" width="1044" height="480" fill="url(#mx4)"/></mask>
<linearGradient id="vy4" gradientUnits="userSpaceOnUse" x1="0" x2="0" y1="30" y2="510"><stop offset="0.5208" stop-color="#fff" stop-opacity="0"/><stop offset="0.5375" stop-color="#fff" stop-opacity="0.4"/><stop offset="0.575" stop-color="#fff" stop-opacity="0.4"/><stop offset="0.5917" stop-color="#fff" stop-opacity="0"/><stop offset="0.425" stop-color="#fff" stop-opacity="0"/><stop offset="0.4375" stop-color="#fff" stop-opacity="0.25"/><stop offset="0.4625" stop-color="#fff" stop-opacity="0.25"/><stop offset="0.475" stop-color="#fff" stop-opacity="0"/></linearGradient>
<linearGradient id="mx5" gradientUnits="userSpaceOnUse" x1="120" x2="1164" y1="0" y2="0"><stop offset="0.1284" stop-color="#fff" stop-opacity="0"/><stop offset="0.136" stop-color="#fff" stop-opacity="1"/><stop offset="0.1858" stop-color="#fff" stop-opacity="1"/><stop offset="0.1935" stop-color="#fff" stop-opacity="0"/></linearGradient>
<mask id="m5" maskUnits="userSpaceOnUse" x="120" y="30" width="1044" height="480"><rect x="120" y="30" width="1044" height="480" fill="url(#mx5)"/></mask>
<linearGradient id="vy5" gradientUnits="userSpaceOnUse" x1="0" x2="0" y1="30" y2="510"><stop offset="0.2417" stop-color="#000" stop-opacity="0"/><stop offset="0.2521" stop-color="#000" stop-opacity="0.05"/><stop offset="0.275" stop-color="#000" stop-opacity="0.05"/><stop offset="0.2854" stop-color="#000" stop-opacity="0"/><stop offset="0.4688" stop-color="#000" stop-opacity="0"/><stop offset="0.4813" stop-color="#000" stop-opacity="0.04"/><stop offset="0.5188" stop-color="#000" stop-opacity="0.04"/><stop offset="0.5333" stop-color="#000" stop-opacity="0"/><stop offset="0.5813" stop-color="#000" stop-opacity="0"/><stop offset="0.5958" stop-color="#000" stop-opacity="0.03"/><stop offset="0.6542" stop-color="#000" stop-opacity="0.03"/><stop offset="0.6687" stop-color="#000" stop-opacity="0.07"/><stop offset="0.8292" stop-color="#000" stop-opacity="0.07"/><stop offset="0.8417" stop-color="#000" stop-opacity="0.03"/><stop offset="0.9479" stop-color="#000" stop-opacity="0.03"/><stop offset="0.9625" stop-color="#000" stop-opacity="0"/></linearGradient>
<linearGradient id="mx6" gradientUnits="userSpaceOnUse" x1="120" x2="1164" y1="0" y2="0"><stop offset="0.7433" stop-color="#fff" stop-opacity="0"/><stop offset="0.749" stop-color="#fff" stop-opacity="1"/><stop offset="0.7711" stop-color="#fff" stop-opacity="1"/><stop offset="0.7854" stop-color="#fff" stop-opacity="0"/></linearGradient>
<mask id="m6" maskUnits="userSpaceOnUse" x="120" y="30" width="1044" height="480"><rect x="120" y="30" width="1044" height="480" fill="url(#mx6)"/></mask>
<linearGradient id="vy6" gradientUnits="userSpaceOnUse" x1="0" x2="0" y1="30" y2="510"><stop offset="0" stop-color="#000" stop-opacity="0.03"/><stop offset="0.25" stop-color="#000" stop-opacity="0.03"/><stop offset="0.5208" stop-color="#000" stop-opacity="0.02"/><stop offset="1" stop-color="#000" stop-opacity="0.01"/></linearGradient>
<linearGradient id="mx7" gradientUnits="userSpaceOnUse" x1="120" x2="1164" y1="0" y2="0"><stop offset="0.8582" stop-color="#fff" stop-opacity="0"/><stop offset="0.8812" stop-color="#fff" stop-opacity="1"/><stop offset="0.8985" stop-color="#fff" stop-opacity="1"/><stop offset="0.9119" stop-color="#fff" stop-opacity="0"/></linearGradient>
<mask id="m7" maskUnits="userSpaceOnUse" x="120" y="30" width="1044" height="480"><rect x="120" y="30" width="1044" height="480" fill="url(#mx7)"/></mask>
<linearGradient id="vy7" gradientUnits="userSpaceOnUse" x1="0" x2="0" y1="30" y2="510"><stop offset="0.1875" stop-color="#000" stop-opacity="0"/><stop offset="0.3229" stop-color="#000" stop-opacity="0.07"/><stop offset="1" stop-color="#000" stop-opacity="0.07"/></linearGradient>
<linearGradient id="mx8" gradientUnits="userSpaceOnUse" x1="120" x2="1164" y1="0" y2="0"><stop offset="0.9004" stop-color="#fff" stop-opacity="0"/><stop offset="0.9119" stop-color="#fff" stop-opacity="1"/><stop offset="0.9272" stop-color="#fff" stop-opacity="1"/><stop offset="0.933" stop-color="#fff" stop-opacity="0"/></linearGradient>
<mask id="m8" maskUnits="userSpaceOnUse" x="120" y="30" width="1044" height="480"><rect x="120" y="30" width="1044" height="480" fill="url(#mx8)"/></mask>
<linearGradient id="vy8" gradientUnits="userSpaceOnUse" x1="0" x2="0" y1="30" y2="510"><stop offset="0.25" stop-color="#fff" stop-opacity="0"/><stop offset="0.4167" stop-color="#fff" stop-opacity="0.07"/><stop offset="1" stop-color="#fff" stop-opacity="0.07"/></linearGradient>
<linearGradient id="mx9" gradientUnits="userSpaceOnUse" x1="120" x2="1164" y1="0" y2="0"><stop offset="0.841" stop-color="#fff" stop-opacity="0"/><stop offset="0.8467" stop-color="#fff" stop-opacity="1"/><stop offset="0.8659" stop-color="#fff" stop-opacity="1"/><stop offset="0.8755" stop-color="#fff" stop-opacity="0"/></linearGradient>
<mask id="m9" maskUnits="userSpaceOnUse" x="120" y="30" width="1044" height="480"><rect x="120" y="30" width="1044" height="480" fill="url(#mx9)"/></mask>
<linearGradient id="vy9" gradientUnits="userSpaceOnUse" x1="0" x2="0" y1="30" y2="510"><stop offset="0.6042" stop-color="#000" stop-opacity="0"/><stop offset="0.6458" stop-color="#000" stop-opacity="0.04"/><stop offset="0.9375" stop-color="#000" stop-opacity="0.04"/><stop offset="0.9625" stop-color="#000" stop-opacity="0"/></linearGradient>
<linearGradient id="mx10" gradientUnits="userSpaceOnUse" x1="120" x2="1164" y1="0" y2="0"><stop offset="0.4176" stop-color="#fff" stop-opacity="0"/><stop offset="0.4243" stop-color="#fff" stop-opacity="1"/><stop offset="0.4483" stop-color="#fff" stop-opacity="1"/><stop offset="0.4636" stop-color="#fff" stop-opacity="0"/></linearGradient>
<mask id="m10" maskUnits="userSpaceOnUse" x="120" y="30" width="1044" height="480"><rect x="120" y="30" width="1044" height="480" fill="url(#mx10)"/></mask>
<linearGradient id="vy10" gradientUnits="userSpaceOnUse" x1="0" x2="0" y1="30" y2="510"><stop offset="0" stop-color="#000" stop-opacity="0.02"/><stop offset="0.6667" stop-color="#000" stop-opacity="0.02"/><stop offset="0.6875" stop-color="#000" stop-opacity="0.04"/><stop offset="0.8125" stop-color="#000" stop-opacity="0.04"/><stop offset="0.8333" stop-color="#000" stop-opacity="0.02"/><stop offset="1" stop-color="#000" stop-opacity="0.01"/></linearGradient>
<linearGradient id="mx11" gradientUnits="userSpaceOnUse" x1="120" x2="1164" y1="0" y2="0"><stop offset="0.4176" stop-color="#fff" stop-opacity="0"/><stop offset="0.4243" stop-color="#fff" stop-opacity="1"/><stop offset="0.5105" stop-color="#fff" stop-opacity="1"/><stop offset="0.5172" stop-color="#fff" stop-opacity="0"/></linearGradient>
<mask id="m11" maskUnits="userSpaceOnUse" x="120" y="30" width="1044" height="480"><rect x="120" y="30" width="1044" height="480" fill="url(#mx11)"/></mask>
<linearGradient id="vy11" gradientUnits="userSpaceOnUse" x1="0" x2="0" y1="30" y2="510"><stop offset="0.8" stop-color="#000" stop-opacity="0"/><stop offset="0.8146" stop-color="#000" stop-opacity="0.04"/><stop offset="0.9521" stop-color="#000" stop-opacity="0.04"/><stop offset="0.9646" stop-color="#000" stop-opacity="0"/></linearGradient>
<linearGradient id="mx12" gradientUnits="userSpaceOnUse" x1="120" x2="1164" y1="0" y2="0"><stop offset="0.5479" stop-color="#fff" stop-opacity="0"/><stop offset="0.5536" stop-color="#fff" stop-opacity="1"/><stop offset="0.5747" stop-color="#fff" stop-opacity="1"/><stop offset="0.5805" stop-color="#fff" stop-opacity="0"/></linearGradient>
<mask id="m12" maskUnits="userSpaceOnUse" x="120" y="30" width="1044" height="480"><rect x="120" y="30" width="1044" height="480" fill="url(#mx12)"/></mask>
<linearGradient id="vy12" gradientUnits="userSpaceOnUse" x1="0" x2="0" y1="30" y2="510"><stop offset="0.6417" stop-color="#000" stop-opacity="0"/><stop offset="0.6625" stop-color="#000" stop-opacity="0.1"/><stop offset="0.8542" stop-color="#000" stop-opacity="0.1"/><stop offset="0.9708" stop-color="#000" stop-opacity="0.18"/><stop offset="1" stop-color="#000" stop-opacity="0.12"/></linearGradient>
<linearGradient id="mx13" gradientUnits="userSpaceOnUse" x1="120" x2="1164" y1="0" y2="0"><stop offset="0.3544" stop-color="#fff" stop-opacity="0"/><stop offset="0.3602" stop-color="#fff" stop-opacity="1"/><stop offset="0.3812" stop-color="#fff" stop-opacity="1"/><stop offset="0.387" stop-color="#fff" stop-opacity="0"/></linearGradient>
<mask id="m13" maskUnits="userSpaceOnUse" x="120" y="30" width="1044" height="480"><rect x="120" y="30" width="1044" height="480" fill="url(#mx13)"/></mask>
<linearGradient id="vy13" gradientUnits="userSpaceOnUse" x1="0" x2="0" y1="30" y2="510"><stop offset="0.7292" stop-color="#000" stop-opacity="0"/><stop offset="0.7708" stop-color="#000" stop-opacity="0.07"/><stop offset="0.8333" stop-color="#000" stop-opacity="0.1"/><stop offset="0.9167" stop-color="#000" stop-opacity="0.2"/><stop offset="0.9625" stop-color="#000" stop-opacity="0.22"/><stop offset="0.9854" stop-color="#000" stop-opacity="0.1"/><stop offset="1" stop-color="#000" stop-opacity="0.05"/></linearGradient>
<linearGradient id="mx14" gradientUnits="userSpaceOnUse" x1="120" x2="1164" y1="0" y2="0"><stop offset="0.2912" stop-color="#fff" stop-opacity="0"/><stop offset="0.2969" stop-color="#fff" stop-opacity="1"/><stop offset="0.318" stop-color="#fff" stop-opacity="1"/><stop offset="0.3238" stop-color="#fff" stop-opacity="0"/></linearGradient>
<mask id="m14" maskUnits="userSpaceOnUse" x="120" y="30" width="1044" height="480"><rect x="120" y="30" width="1044" height="480" fill="url(#mx14)"/></mask>
<linearGradient id="vy14" gradientUnits="userSpaceOnUse" x1="0" x2="0" y1="30" y2="510"><stop offset="0.7708" stop-color="#000" stop-opacity="0"/><stop offset="0.8542" stop-color="#000" stop-opacity="0.08"/><stop offset="0.9792" stop-color="#000" stop-opacity="0.1"/><stop offset="0.9958" stop-color="#000" stop-opacity="0.03"/></linearGradient>
<linearGradient id="mx15" gradientUnits="userSpaceOnUse" x1="120" x2="1164" y1="0" y2="0"><stop offset="0.2605" stop-color="#fff" stop-opacity="0"/><stop offset="0.2672" stop-color="#fff" stop-opacity="1"/><stop offset="0.2807" stop-color="#fff" stop-opacity="1"/><stop offset="0.2874" stop-color="#fff" stop-opacity="0"/></linearGradient>
<mask id="m15" maskUnits="userSpaceOnUse" x="120" y="30" width="1044" height="480"><rect x="120" y="30" width="1044" height="480" fill="url(#mx15)"/></mask>
<linearGradient id="vy15" gradientUnits="userSpaceOnUse" x1="0" x2="0" y1="30" y2="510"><stop offset="0.3125" stop-color="#000" stop-opacity="0"/><stop offset="0.5625" stop-color="#000" stop-opacity="0.12"/><stop offset="0.8542" stop-color="#000" stop-opacity="0.12"/><stop offset="0.9625" stop-color="#000" stop-opacity="0"/></linearGradient>
<linearGradient id="mx16" gradientUnits="userSpaceOnUse" x1="120" x2="1164" y1="0" y2="0"><stop offset="0.9406" stop-color="#fff" stop-opacity="0"/><stop offset="0.9483" stop-color="#fff" stop-opacity="1"/><stop offset="0.9559" stop-color="#fff" stop-opacity="1"/><stop offset="0.9636" stop-color="#fff" stop-opacity="0"/></linearGradient>
<mask id="m16" maskUnits="userSpaceOnUse" x="120" y="30" width="1044" height="480"><rect x="120" y="30" width="1044" height="480" fill="url(#mx16)"/></mask>
<linearGradient id="vy16" gradientUnits="userSpaceOnUse" x1="0" x2="0" y1="30" y2="510"><stop offset="0.0042" stop-color="#000" stop-opacity="0"/><stop offset="0.0083" stop-color="#000" stop-opacity="0.17"/><stop offset="0.0125" stop-color="#000" stop-opacity="0"/><stop offset="0.0292" stop-color="#000" stop-opacity="0"/><stop offset="0.0333" stop-color="#000" stop-opacity="0.09"/><stop offset="0.0375" stop-color="#000" stop-opacity="0"/><stop offset="0.0479" stop-color="#000" stop-opacity="0"/><stop offset="0.0521" stop-color="#000" stop-opacity="0.07"/><stop offset="0.0563" stop-color="#000" stop-opacity="0"/><stop offset="0.0667" stop-color="#000" stop-opacity="0"/><stop offset="0.0708" stop-color="#000" stop-opacity="0.17"/><stop offset="0.075" stop-color="#000" stop-opacity="0"/><stop offset="0.0854" stop-color="#000" stop-opacity="0"/><stop offset="0.0896" stop-color="#000" stop-opacity="0.12"/><stop offset="0.0938" stop-color="#000" stop-opacity="0"/><stop offset="0.1042" stop-color="#000" stop-opacity="0"/><stop offset="0.1083" stop-color="#000" stop-opacity="0.07"/><stop offset="0.1125" stop-color="#000" stop-opacity="0"/><stop offset="0.1458" stop-color="#000" stop-opacity="0"/><stop offset="0.15" stop-color="#000" stop-opacity="0.09"/><stop offset="0.1542" stop-color="#000" stop-opacity="0"/><stop offset="0.1646" stop-color="#000" stop-opacity="0"/><stop offset="0.1688" stop-color="#000" stop-opacity="0.12"/><stop offset="0.1729" stop-color="#000" stop-opacity="0"/><stop offset="0.1833" stop-color="#000" stop-opacity="0"/><stop offset="0.1875" stop-color="#000" stop-opacity="0.09"/><stop offset="0.1917" stop-color="#000" stop-opacity="0"/><stop offset="0.2021" stop-color="#000" stop-opacity="0"/><stop offset="0.2062" stop-color="#000" stop-opacity="0.07"/><stop offset="0.2104" stop-color="#000" stop-opacity="0"/><stop offset="0.2271" stop-color="#000" stop-opacity="0"/><stop offset="0.2313" stop-color="#000" stop-opacity="0.07"/><stop offset="0.2354" stop-color="#000" stop-opacity="0"/><stop offset="0.2687" stop-color="#000" stop-opacity="0"/><stop offset="0.2729" stop-color="#000" stop-opacity="0.07"/><stop offset="0.2771" stop-color="#000" stop-opacity="0"/><stop offset="0.2938" stop-color="#000" stop-opacity="0"/><stop offset="0.2979" stop-color="#000" stop-opacity="0.07"/><stop offset="0.3021" stop-color="#000" stop-opacity="0"/><stop offset="0.3187" stop-color="#000" stop-opacity="0"/><stop offset="0.3229" stop-color="#000" stop-opacity="0.17"/><stop offset="0.3271" stop-color="#000" stop-opacity="0"/><stop offset="0.3604" stop-color="#000" stop-opacity="0"/><stop offset="0.3646" stop-color="#000" stop-opacity="0.12"/><stop offset="0.3688" stop-color="#000" stop-opacity="0"/><stop offset="0.3792" stop-color="#000" stop-opacity="0"/><stop offset="0.3833" stop-color="#000" stop-opacity="0.17"/><stop offset="0.3875" stop-color="#000" stop-opacity="0"/><stop offset="0.4042" stop-color="#000" stop-opacity="0"/><stop offset="0.4083" stop-color="#000" stop-opacity="0.07"/><stop offset="0.4125" stop-color="#000" stop-opacity="0"/><stop offset="0.4292" stop-color="#000" stop-opacity="0"/><stop offset="0.4333" stop-color="#000" stop-opacity="0.17"/><stop offset="0.4375" stop-color="#000" stop-opacity="0"/><stop offset="0.4479" stop-color="#000" stop-opacity="0"/><stop offset="0.4521" stop-color="#000" stop-opacity="0.07"/><stop offset="0.4562" stop-color="#000" stop-opacity="0"/><stop offset="0.6083" stop-color="#000" stop-opacity="0"/><stop offset="0.6208" stop-color="#000" stop-opacity="0.18"/><stop offset="0.6333" stop-color="#000" stop-opacity="0"/></linearGradient>
<linearGradient id="mx17" gradientUnits="userSpaceOnUse" x1="120" x2="1164" y1="0" y2="0"><stop offset="0.2261" stop-color="#fff" stop-opacity="0"/><stop offset="0.2328" stop-color="#fff" stop-opacity="1"/><stop offset="0.2529" stop-color="#fff" stop-opacity="1"/><stop offset="0.2596" stop-color="#fff" stop-opacity="0"/></linearGradient>
<mask id="m17" maskUnits="userSpaceOnUse" x="120" y="30" width="1044" height="480"><rect x="120" y="30" width="1044" height="480" fill="url(#mx17)"/></mask>
<linearGradient id="vy17" gradientUnits="userSpaceOnUse" x1="0" x2="0" y1="30" y2="510"><stop offset="0.5875" stop-color="#000" stop-opacity="0"/><stop offset="0.6042" stop-color="#000" stop-opacity="0.05"/><stop offset="0.6667" stop-color="#000" stop-opacity="0.05"/><stop offset="0.6813" stop-color="#000" stop-opacity="0"/><stop offset="0.7604" stop-color="#000" stop-opacity="0"/><stop offset="0.8125" stop-color="#000" stop-opacity="0.05"/><stop offset="0.9792" stop-color="#000" stop-opacity="0.08"/><stop offset="0.9958" stop-color="#000" stop-opacity="0.03"/></linearGradient>
<linearGradient id="mx18" gradientUnits="userSpaceOnUse" x1="120" x2="1164" y1="0" y2="0"><stop offset="0.6782" stop-color="#fff" stop-opacity="0"/><stop offset="0.6839" stop-color="#fff" stop-opacity="1"/><stop offset="0.7069" stop-color="#fff" stop-opacity="1"/><stop offset="0.7126" stop-color="#fff" stop-opacity="0"/></linearGradient>
<mask id="m18" maskUnits="userSpaceOnUse" x="120" y="30" width="1044" height="480"><rect x="120" y="30" width="1044" height="480" fill="url(#mx18)"/></mask>
<linearGradient id="vy18" gradientUnits="userSpaceOnUse" x1="0" x2="0" y1="30" y2="510"><stop offset="0.6042" stop-color="#000" stop-opacity="0"/><stop offset="0.7708" stop-color="#000" stop-opacity="0.1"/><stop offset="0.9792" stop-color="#000" stop-opacity="0.14"/><stop offset="0.9917" stop-color="#000" stop-opacity="0"/></linearGradient>
<linearGradient id="nx" gradientUnits="userSpaceOnUse" x1="120" x2="1164" y1="0" y2="0"><stop offset="0" stop-color="#fff" stop-opacity="1"/><stop offset="0.0057" stop-color="#fff" stop-opacity="1"/><stop offset="0.0115" stop-color="#fff" stop-opacity="1"/><stop offset="0.0172" stop-color="#fff" stop-opacity="1"/><stop offset="0.023" stop-color="#fff" stop-opacity="1"/><stop offset="0.0287" stop-color="#fff" stop-opacity="0.91"/><stop offset="0.0345" stop-color="#fff" stop-opacity="0.44"/><stop offset="0.0402" stop-color="#fff" stop-opacity="0"/><stop offset="0.046" stop-color="#fff" stop-opacity="0"/><stop offset="0.0517" stop-color="#fff" stop-opacity="0"/><stop offset="0.0575" stop-color="#fff" stop-opacity="0"/><stop offset="0.0632" stop-color="#fff" stop-opacity="0"/><stop offset="0.069" stop-color="#fff" stop-opacity="0"/><stop offset="0.0747" stop-color="#fff" stop-opacity="0"/><stop offset="0.0805" stop-color="#fff" stop-opacity="0"/><stop offset="0.0862" stop-color="#fff" stop-opacity="0"/><stop offset="0.092" stop-color="#fff" stop-opacity="0"/><stop offset="0.0977" stop-color="#fff" stop-opacity="0.43"/><stop offset="0.1034" stop-color="#fff" stop-opacity="0.89"/><stop offset="0.1092" stop-color="#fff" stop-opacity="1"/><stop offset="0.1149" stop-color="#fff" stop-opacity="1"/><stop offset="0.1207" stop-color="#fff" stop-opacity="1"/><stop offset="0.1264" stop-color="#fff" stop-opacity="0.65"/><stop offset="0.1322" stop-color="#fff" stop-opacity="0"/><stop offset="0.1379" stop-color="#fff" stop-opacity="0"/><stop offset="0.1437" stop-color="#fff" stop-opacity="0"/><stop offset="0.1494" stop-color="#fff" stop-opacity="0"/><stop offset="0.1552" stop-color="#fff" stop-opacity="0"/><stop offset="0.1609" stop-color="#fff" stop-opacity="0"/><stop offset="0.1667" stop-color="#fff" stop-opacity="0"/><stop offset="0.1724" stop-color="#fff" stop-opacity="0"/><stop offset="0.1782" stop-color="#fff" stop-opacity="0"/><stop offset="0.1839" stop-color="#fff" stop-opacity="0"/><stop offset="0.1897" stop-color="#fff" stop-opacity="0"/><stop offset="0.1954" stop-color="#fff" stop-opacity="0.46"/><stop offset="0.2011" stop-color="#fff" stop-opacity="0.94"/><stop offset="0.2069" stop-color="#fff" stop-opacity="1"/><stop offset="0.2126" stop-color="#fff" stop-opacity="1"/><stop offset="0.2184" stop-color="#fff" stop-opacity="1"/><stop offset="0.2241" stop-color="#fff" stop-opacity="0.81"/><stop offset="0.2299" stop-color="#fff" stop-opacity="0"/><stop offset="0.2356" stop-color="#fff" stop-opacity="0"/><stop offset="0.2414" stop-color="#fff" stop-opacity="0"/><stop offset="0.2471" stop-color="#fff" stop-opacity="0"/><stop offset="0.2529" stop-color="#fff" stop-opacity="0"/><stop offset="0.2586" stop-color="#fff" stop-opacity="0.64"/><stop offset="0.2644" stop-color="#fff" stop-opacity="1"/><stop offset="0.2701" stop-color="#fff" stop-opacity="1"/><stop offset="0.2759" stop-color="#fff" stop-opacity="1"/><stop offset="0.2816" stop-color="#fff" stop-opacity="1"/><stop offset="0.2874" stop-color="#fff" stop-opacity="1"/><stop offset="0.2931" stop-color="#fff" stop-opacity="0.34"/><stop offset="0.2989" stop-color="#fff" stop-opacity="0"/><stop offset="0.3046" stop-color="#fff" stop-opacity="0"/><stop offset="0.3103" stop-color="#fff" stop-opacity="0"/><stop offset="0.3161" stop-color="#fff" stop-opacity="0"/><stop offset="0.3218" stop-color="#fff" stop-opacity="0.32"/><stop offset="0.3276" stop-color="#fff" stop-opacity="0.86"/><stop offset="0.3333" stop-color="#fff" stop-opacity="1"/><stop offset="0.3391" stop-color="#fff" stop-opacity="1"/><stop offset="0.3448" stop-color="#fff" stop-opacity="1"/><stop offset="0.3506" stop-color="#fff" stop-opacity="0.88"/><stop offset="0.3563" stop-color="#fff" stop-opacity="0.09"/><stop offset="0.3621" stop-color="#fff" stop-opacity="0"/><stop offset="0.3678" stop-color="#fff" stop-opacity="0"/><stop offset="0.3736" stop-color="#fff" stop-opacity="0"/><stop offset="0.3793" stop-color="#fff" stop-opacity="0"/><stop offset="0.3851" stop-color="#fff" stop-opacity="0"/><stop offset="0.3908" stop-color="#fff" stop-opacity="0.72"/><stop offset="0.3966" stop-color="#fff" stop-opacity="1"/><stop offset="0.4023" stop-color="#fff" stop-opacity="1"/><stop offset="0.408" stop-color="#fff" stop-opacity="1"/><stop offset="0.4138" stop-color="#fff" stop-opacity="0.92"/><stop offset="0.4195" stop-color="#fff" stop-opacity="0.18"/><stop offset="0.4253" stop-color="#fff" stop-opacity="0"/><stop offset="0.431" stop-color="#fff" stop-opacity="0"/><stop offset="0.4368" stop-color="#fff" stop-opacity="0"/><stop offset="0.4425" stop-color="#fff" stop-opacity="0"/><stop offset="0.4483" stop-color="#fff" stop-opacity="0"/><stop offset="0.454" stop-color="#fff" stop-opacity="0"/><stop offset="0.4598" stop-color="#fff" stop-opacity="0"/><stop offset="0.4655" stop-color="#fff" stop-opacity="0"/><stop offset="0.4713" stop-color="#fff" stop-opacity="0"/><stop offset="0.477" stop-color="#fff" stop-opacity="0"/><stop offset="0.4828" stop-color="#fff" stop-opacity="0"/><stop offset="0.4885" stop-color="#fff" stop-opacity="0"/><stop offset="0.4943" stop-color="#fff" stop-opacity="0"/><stop offset="0.5" stop-color="#fff" stop-opacity="0"/><stop offset="0.5057" stop-color="#fff" stop-opacity="0"/><stop offset="0.5115" stop-color="#fff" stop-opacity="0"/><stop offset="0.5172" stop-color="#fff" stop-opacity="0.38"/><stop offset="0.523" stop-color="#fff" stop-opacity="1"/><stop offset="0.5287" stop-color="#fff" stop-opacity="1"/><stop offset="0.5345" stop-color="#fff" stop-opacity="1"/><stop offset="0.5402" stop-color="#fff" stop-opacity="1"/><stop offset="0.546" stop-color="#fff" stop-opacity="0.62"/><stop offset="0.5517" stop-color="#fff" stop-opacity="0"/><stop offset="0.5575" stop-color="#fff" stop-opacity="0"/><stop offset="0.5632" stop-color="#fff" stop-opacity="0"/><stop offset="0.569" stop-color="#fff" stop-opacity="0"/><stop offset="0.5747" stop-color="#fff" stop-opacity="0"/><stop offset="0.5805" stop-color="#fff" stop-opacity="0"/><stop offset="0.5862" stop-color="#fff" stop-opacity="0.82"/><stop offset="0.592" stop-color="#fff" stop-opacity="1"/><stop offset="0.5977" stop-color="#fff" stop-opacity="1"/><stop offset="0.6034" stop-color="#fff" stop-opacity="1"/><stop offset="0.6092" stop-color="#fff" stop-opacity="1"/><stop offset="0.6149" stop-color="#fff" stop-opacity="1"/><stop offset="0.6207" stop-color="#fff" stop-opacity="1"/><stop offset="0.6264" stop-color="#fff" stop-opacity="1"/><stop offset="0.6322" stop-color="#fff" stop-opacity="1"/><stop offset="0.6379" stop-color="#fff" stop-opacity="1"/><stop offset="0.6437" stop-color="#fff" stop-opacity="1"/><stop offset="0.6494" stop-color="#fff" stop-opacity="1"/><stop offset="0.6552" stop-color="#fff" stop-opacity="1"/><stop offset="0.6609" stop-color="#fff" stop-opacity="1"/><stop offset="0.6667" stop-color="#fff" stop-opacity="1"/><stop offset="0.6724" stop-color="#fff" stop-opacity="0.88"/><stop offset="0.6782" stop-color="#fff" stop-opacity="0.61"/><stop offset="0.6839" stop-color="#fff" stop-opacity="0.15"/><stop offset="0.6897" stop-color="#fff" stop-opacity="0"/><stop offset="0.6954" stop-color="#fff" stop-opacity="0"/><stop offset="0.7011" stop-color="#fff" stop-opacity="0"/><stop offset="0.7069" stop-color="#fff" stop-opacity="0.29"/><stop offset="0.7126" stop-color="#fff" stop-opacity="0.84"/><stop offset="0.7184" stop-color="#fff" stop-opacity="1"/><stop offset="0.7241" stop-color="#fff" stop-opacity="1"/><stop offset="0.7299" stop-color="#fff" stop-opacity="1"/><stop offset="0.7356" stop-color="#fff" stop-opacity="1"/><stop offset="0.7414" stop-color="#fff" stop-opacity="0.17"/><stop offset="0.7471" stop-color="#fff" stop-opacity="0"/><stop offset="0.7529" stop-color="#fff" stop-opacity="0"/><stop offset="0.7586" stop-color="#fff" stop-opacity="0"/><stop offset="0.7644" stop-color="#fff" stop-opacity="0"/><stop offset="0.7701" stop-color="#fff" stop-opacity="0"/><stop offset="0.7759" stop-color="#fff" stop-opacity="0"/><stop offset="0.7816" stop-color="#fff" stop-opacity="0"/><stop offset="0.7874" stop-color="#fff" stop-opacity="0"/><stop offset="0.7931" stop-color="#fff" stop-opacity="0"/><stop offset="0.7989" stop-color="#fff" stop-opacity="0"/><stop offset="0.8046" stop-color="#fff" stop-opacity="0"/><stop offset="0.8103" stop-color="#fff" stop-opacity="0.16"/><stop offset="0.8161" stop-color="#fff" stop-opacity="0.88"/><stop offset="0.8218" stop-color="#fff" stop-opacity="1"/><stop offset="0.8276" stop-color="#fff" stop-opacity="1"/><stop offset="0.8333" stop-color="#fff" stop-opacity="0.73"/><stop offset="0.8391" stop-color="#fff" stop-opacity="0"/><stop offset="0.8448" stop-color="#fff" stop-opacity="0"/><stop offset="0.8506" stop-color="#fff" stop-opacity="0"/><stop offset="0.8563" stop-color="#fff" stop-opacity="0"/><stop offset="0.8621" stop-color="#fff" stop-opacity="0"/><stop offset="0.8678" stop-color="#fff" stop-opacity="0"/><stop offset="0.8736" stop-color="#fff" stop-opacity="0"/><stop offset="0.8793" stop-color="#fff" stop-opacity="0"/><stop offset="0.8851" stop-color="#fff" stop-opacity="0"/><stop offset="0.8908" stop-color="#fff" stop-opacity="0"/><stop offset="0.8966" stop-color="#fff" stop-opacity="0"/><stop offset="0.9023" stop-color="#fff" stop-opacity="0"/><stop offset="0.908" stop-color="#fff" stop-opacity="0"/><stop offset="0.9138" stop-color="#fff" stop-opacity="0"/><stop offset="0.9195" stop-color="#fff" stop-opacity="0"/><stop offset="0.9253" stop-color="#fff" stop-opacity="0"/><stop offset="0.931" stop-color="#fff" stop-opacity="0"/><stop offset="0.9368" stop-color="#fff" stop-opacity="0.47"/><stop offset="0.9425" stop-color="#fff" stop-opacity="1"/><stop offset="0.9483" stop-color="#fff" stop-opacity="1"/><stop offset="0.954" stop-color="#fff" stop-opacity="1"/><stop offset="0.9598" stop-color="#fff" stop-opacity="1"/><stop offset="0.9655" stop-color="#fff" stop-opacity="0.77"/><stop offset="0.9713" stop-color="#fff" stop-opacity="0.11"/><stop offset="0.977" stop-color="#fff" stop-opacity="0"/><stop offset="0.9828" stop-color="#fff" stop-opacity="0"/><stop offset="0.9885" stop-color="#fff" stop-opacity="0"/><stop offset="0.9943" stop-color="#fff" stop-opacity="0"/><stop offset="1" stop-color="#fff" stop-opacity="0"/></linearGradient>
<mask id="nm" maskUnits="userSpaceOnUse" x="120" y="30" width="1044" height="480"><rect x="120" y="30" width="1044" height="480" fill="url(#nx)"/></mask>
<linearGradient id="w0" gradientUnits="userSpaceOnUse" x1="120" x2="1164" y1="0" y2="0"><stop offset="0.0594" stop-color="#000" stop-opacity="0"/><stop offset="0.067" stop-color="#000" stop-opacity="0.19"/><stop offset="0.0862" stop-color="#000" stop-opacity="0.19"/><stop offset="0.0939" stop-color="#000" stop-opacity="0"/></linearGradient>
<linearGradient id="w1" gradientUnits="userSpaceOnUse" x1="120" x2="1164" y1="0" y2="0"><stop offset="0.0594" stop-color="#000" stop-opacity="0"/><stop offset="0.067" stop-color="#000" stop-opacity="0.19"/><stop offset="0.0862" stop-color="#000" stop-opacity="0.19"/><stop offset="0.0939" stop-color="#000" stop-opacity="0"/></linearGradient>
<linearGradient id="w2" gradientUnits="userSpaceOnUse" x1="120" x2="1164" y1="0" y2="0"><stop offset="0.0594" stop-color="#000" stop-opacity="0"/><stop offset="0.067" stop-color="#000" stop-opacity="0.38"/><stop offset="0.0862" stop-color="#000" stop-opacity="0.38"/><stop offset="0.0939" stop-color="#000" stop-opacity="0"/></linearGradient>
<linearGradient id="w3" gradientUnits="userSpaceOnUse" x1="120" x2="1164" y1="0" y2="0"><stop offset="0.0594" stop-color="#000" stop-opacity="0"/><stop offset="0.067" stop-color="#000" stop-opacity="0.13"/><stop offset="0.0862" stop-color="#000" stop-opacity="0.13"/><stop offset="0.0939" stop-color="#000" stop-opacity="0"/></linearGradient>
<linearGradient id="w4" gradientUnits="userSpaceOnUse" x1="120" x2="1164" y1="0" y2="0"><stop offset="0.0594" stop-color="#000" stop-opacity="0"/><stop offset="0.067" stop-color="#000" stop-opacity="0.28"/><stop offset="0.0862" stop-color="#000" stop-opacity="0.28"/><stop offset="0.0939" stop-color="#000" stop-opacity="0"/></linearGradient>
<linearGradient id="w5" gradientUnits="userSpaceOnUse" x1="120" x2="1164" y1="0" y2="0"><stop offset="0.0594" stop-color="#000" stop-opacity="0"/><stop offset="0.067" stop-color="#000" stop-opacity="0.38"/><stop offset="0.0862" stop-color="#000" stop-opacity="0.38"/><stop offset="0.0939" stop-color="#000" stop-opacity="0"/></linearGradient>
<linearGradient id="w6" gradientUnits="userSpaceOnUse" x1="120" x2="1164" y1="0" y2="0"><stop offset="0.0594" stop-color="#000" stop-opacity="0"/><stop offset="0.067" stop-color="#000" stop-opacity="0.38"/><stop offset="0.0862" stop-color="#000" stop-opacity="0.38"/><stop offset="0.0939" stop-color="#000" stop-opacity="0"/></linearGradient>
<linearGradient id="w7" gradientUnits="userSpaceOnUse" x1="120" x2="1164" y1="0" y2="0"><stop offset="0.0594" stop-color="#000" stop-opacity="0"/><stop offset="0.067" stop-color="#000" stop-opacity="0.45"/><stop offset="0.0862" stop-color="#000" stop-opacity="0.45"/><stop offset="0.0939" stop-color="#000" stop-opacity="0"/></linearGradient>
<linearGradient id="w8" gradientUnits="userSpaceOnUse" x1="120" x2="1164" y1="0" y2="0"><stop offset="0.0594" stop-color="#000" stop-opacity="0"/><stop offset="0.067" stop-color="#000" stop-opacity="0.19"/><stop offset="0.0862" stop-color="#000" stop-opacity="0.19"/><stop offset="0.0939" stop-color="#000" stop-opacity="0"/></linearGradient>
<linearGradient id="w9" gradientUnits="userSpaceOnUse" x1="120" x2="1164" y1="0" y2="0"><stop offset="0.0594" stop-color="#000" stop-opacity="0"/><stop offset="0.067" stop-color="#000" stop-opacity="0.19"/><stop offset="0.0862" stop-color="#000" stop-opacity="0.19"/><stop offset="0.0939" stop-color="#000" stop-opacity="0"/></linearGradient>
<linearGradient id="w10" gradientUnits="userSpaceOnUse" x1="120" x2="1164" y1="0" y2="0"><stop offset="0.0594" stop-color="#000" stop-opacity="0"/><stop offset="0.067" stop-color="#000" stop-opacity="0.19"/><stop offset="0.0862" stop-color="#000" stop-opacity="0.19"/><stop offset="0.0939" stop-color="#000" stop-opacity="0"/></linearGradient>
<linearGradient id="w11" gradientUnits="userSpaceOnUse" x1="120" x2="1164" y1="0" y2="0"><stop offset="0.0594" stop-color="#000" stop-opacity="0"/><stop offset="0.067" stop-color="#000" stop-opacity="0.45"/><stop offset="0.0862" stop-color="#000" stop-opacity="0.45"/><stop offset="0.0939" stop-color="#000" stop-opacity="0"/></linearGradient>
<linearGradient id="w12" gradientUnits="userSpaceOnUse" x1="120" x2="1164" y1="0" y2="0"><stop offset="0.0594" stop-color="#000" stop-opacity="0"/><stop offset="0.067" stop-color="#000" stop-opacity="0.38"/><stop offset="0.0862" stop-color="#000" stop-opacity="0.38"/><stop offset="0.0939" stop-color="#000" stop-opacity="0"/></linearGradient>
<linearGradient id="w13" gradientUnits="userSpaceOnUse" x1="120" x2="1164" y1="0" y2="0"><stop offset="0.0268" stop-color="#000" stop-opacity="0"/><stop offset="0.0345" stop-color="#000" stop-opacity="0.13"/><stop offset="0.0594" stop-color="#000" stop-opacity="0.13"/><stop offset="0.067" stop-color="#000" stop-opacity="0"/></linearGradient>
<linearGradient id="w14" gradientUnits="userSpaceOnUse" x1="120" x2="1164" y1="0" y2="0"><stop offset="0.0268" stop-color="#000" stop-opacity="0"/><stop offset="0.0345" stop-color="#000" stop-opacity="0.28"/><stop offset="0.0594" stop-color="#000" stop-opacity="0.28"/><stop offset="0.067" stop-color="#000" stop-opacity="0"/></linearGradient>
<linearGradient id="w15" gradientUnits="userSpaceOnUse" x1="120" x2="1164" y1="0" y2="0"><stop offset="0.0268" stop-color="#000" stop-opacity="0"/><stop offset="0.0345" stop-color="#000" stop-opacity="0.38"/><stop offset="0.0594" stop-color="#000" stop-opacity="0.38"/><stop offset="0.067" stop-color="#000" stop-opacity="0"/></linearGradient>
<linearGradient id="w16" gradientUnits="userSpaceOnUse" x1="120" x2="1164" y1="0" y2="0"><stop offset="0.0268" stop-color="#000" stop-opacity="0"/><stop offset="0.0345" stop-color="#000" stop-opacity="0.13"/><stop offset="0.0594" stop-color="#000" stop-opacity="0.13"/><stop offset="0.067" stop-color="#000" stop-opacity="0"/></linearGradient>
<linearGradient id="w17" gradientUnits="userSpaceOnUse" x1="120" x2="1164" y1="0" y2="0"><stop offset="0.0268" stop-color="#000" stop-opacity="0"/><stop offset="0.0345" stop-color="#000" stop-opacity="0.28"/><stop offset="0.0594" stop-color="#000" stop-opacity="0.28"/><stop offset="0.067" stop-color="#000" stop-opacity="0"/></linearGradient>
<linearGradient id="w18" gradientUnits="userSpaceOnUse" x1="120" x2="1164" y1="0" y2="0"><stop offset="0.0268" stop-color="#000" stop-opacity="0"/><stop offset="0.0345" stop-color="#000" stop-opacity="0.28"/><stop offset="0.0594" stop-color="#000" stop-opacity="0.28"/><stop offset="0.067" stop-color="#000" stop-opacity="0"/></linearGradient>
<linearGradient id="w19" gradientUnits="userSpaceOnUse" x1="120" x2="1164" y1="0" y2="0"><stop offset="0.0268" stop-color="#000" stop-opacity="0"/><stop offset="0.0345" stop-color="#000" stop-opacity="0.28"/><stop offset="0.0594" stop-color="#000" stop-opacity="0.28"/><stop offset="0.067" stop-color="#000" stop-opacity="0"/></linearGradient>
<linearGradient id="w20" gradientUnits="userSpaceOnUse" x1="120" x2="1164" y1="0" y2="0"><stop offset="0.0268" stop-color="#000" stop-opacity="0"/><stop offset="0.0345" stop-color="#000" stop-opacity="0.19"/><stop offset="0.0594" stop-color="#000" stop-opacity="0.19"/><stop offset="0.067" stop-color="#000" stop-opacity="0"/></linearGradient>
<linearGradient id="w21" gradientUnits="userSpaceOnUse" x1="120" x2="1164" y1="0" y2="0"><stop offset="0.0268" stop-color="#000" stop-opacity="0"/><stop offset="0.0345" stop-color="#000" stop-opacity="0.28"/><stop offset="0.0594" stop-color="#000" stop-opacity="0.28"/><stop offset="0.067" stop-color="#000" stop-opacity="0"/></linearGradient>
<linearGradient id="w22" gradientUnits="userSpaceOnUse" x1="120" x2="1164" y1="0" y2="0"><stop offset="0.0268" stop-color="#000" stop-opacity="0"/><stop offset="0.0345" stop-color="#000" stop-opacity="0.28"/><stop offset="0.0594" stop-color="#000" stop-opacity="0.28"/><stop offset="0.067" stop-color="#000" stop-opacity="0"/></linearGradient>
<linearGradient id="w23" gradientUnits="userSpaceOnUse" x1="120" x2="1164" y1="0" y2="0"><stop offset="0.0268" stop-color="#000" stop-opacity="0"/><stop offset="0.0345" stop-color="#000" stop-opacity="0.28"/><stop offset="0.0594" stop-color="#000" stop-opacity="0.28"/><stop offset="0.067" stop-color="#000" stop-opacity="0"/></linearGradient>
<linearGradient id="w24" gradientUnits="userSpaceOnUse" x1="120" x2="1164" y1="0" y2="0"><stop offset="0.0268" stop-color="#000" stop-opacity="0"/><stop offset="0.0345" stop-color="#000" stop-opacity="0.28"/><stop offset="0.0594" stop-color="#000" stop-opacity="0.28"/><stop offset="0.067" stop-color="#000" stop-opacity="0"/></linearGradient>
<linearGradient id="w25" gradientUnits="userSpaceOnUse" x1="120" x2="1164" y1="0" y2="0"><stop offset="0.1293" stop-color="#000" stop-opacity="0"/><stop offset="0.137" stop-color="#000" stop-opacity="0.45"/><stop offset="0.1849" stop-color="#000" stop-opacity="0.45"/><stop offset="0.1925" stop-color="#000" stop-opacity="0"/></linearGradient>
<linearGradient id="w26" gradientUnits="userSpaceOnUse" x1="120" x2="1164" y1="0" y2="0"><stop offset="0.1293" stop-color="#000" stop-opacity="0"/><stop offset="0.137" stop-color="#000" stop-opacity="0.45"/><stop offset="0.1849" stop-color="#000" stop-opacity="0.45"/><stop offset="0.1925" stop-color="#000" stop-opacity="0"/></linearGradient>
<linearGradient id="w27" gradientUnits="userSpaceOnUse" x1="120" x2="1164" y1="0" y2="0"><stop offset="0.1293" stop-color="#000" stop-opacity="0"/><stop offset="0.137" stop-color="#000" stop-opacity="0.36"/><stop offset="0.1849" stop-color="#000" stop-opacity="0.36"/><stop offset="0.1925" stop-color="#000" stop-opacity="0"/></linearGradient>
<linearGradient id="w28" gradientUnits="userSpaceOnUse" x1="120" x2="1164" y1="0" y2="0"><stop offset="0.1293" stop-color="#000" stop-opacity="0"/><stop offset="0.137" stop-color="#000" stop-opacity="0.19"/><stop offset="0.1849" stop-color="#000" stop-opacity="0.19"/><stop offset="0.1925" stop-color="#000" stop-opacity="0"/></linearGradient>
<linearGradient id="w29" gradientUnits="userSpaceOnUse" x1="120" x2="1164" y1="0" y2="0"><stop offset="0.1293" stop-color="#000" stop-opacity="0"/><stop offset="0.137" stop-color="#000" stop-opacity="0.19"/><stop offset="0.1849" stop-color="#000" stop-opacity="0.19"/><stop offset="0.1925" stop-color="#000" stop-opacity="0"/></linearGradient>
<linearGradient id="w30" gradientUnits="userSpaceOnUse" x1="120" x2="1164" y1="0" y2="0"><stop offset="0.1293" stop-color="#000" stop-opacity="0"/><stop offset="0.137" stop-color="#000" stop-opacity="0.45"/><stop offset="0.1849" stop-color="#000" stop-opacity="0.45"/><stop offset="0.1925" stop-color="#000" stop-opacity="0"/></linearGradient>
<linearGradient id="w31" gradientUnits="userSpaceOnUse" x1="120" x2="1164" y1="0" y2="0"><stop offset="0.1293" stop-color="#000" stop-opacity="0"/><stop offset="0.137" stop-color="#000" stop-opacity="0.13"/><stop offset="0.1849" stop-color="#000" stop-opacity="0.13"/><stop offset="0.1925" stop-color="#000" stop-opacity="0"/></linearGradient>
<linearGradient id="w32" gradientUnits="userSpaceOnUse" x1="120" x2="1164" y1="0" y2="0"><stop offset="0.1293" stop-color="#000" stop-opacity="0"/><stop offset="0.137" stop-color="#000" stop-opacity="0.13"/><stop offset="0.1849" stop-color="#000" stop-opacity="0.13"/><stop offset="0.1925" stop-color="#000" stop-opacity="0"/></linearGradient>
<linearGradient id="w33" gradientUnits="userSpaceOnUse" x1="120" x2="1164" y1="0" y2="0"><stop offset="0.1293" stop-color="#000" stop-opacity="0"/><stop offset="0.137" stop-color="#000" stop-opacity="0.45"/><stop offset="0.1849" stop-color="#000" stop-opacity="0.45"/><stop offset="0.1925" stop-color="#000" stop-opacity="0"/></linearGradient>
<linearGradient id="w34" gradientUnits="userSpaceOnUse" x1="120" x2="1164" y1="0" y2="0"><stop offset="0.1293" stop-color="#000" stop-opacity="0"/><stop offset="0.137" stop-color="#000" stop-opacity="0.13"/><stop offset="0.1849" stop-color="#000" stop-opacity="0.13"/><stop offset="0.1925" stop-color="#000" stop-opacity="0"/></linearGradient>
<linearGradient id="w35" gradientUnits="userSpaceOnUse" x1="120" x2="1164" y1="0" y2="0"><stop offset="0.1293" stop-color="#000" stop-opacity="0"/><stop offset="0.137" stop-color="#000" stop-opacity="0.38"/><stop offset="0.1849" stop-color="#000" stop-opacity="0.38"/><stop offset="0.1925" stop-color="#000" stop-opacity="0"/></linearGradient>
<linearGradient id="w36" gradientUnits="userSpaceOnUse" x1="120" x2="1164" y1="0" y2="0"><stop offset="0.1293" stop-color="#000" stop-opacity="0"/><stop offset="0.137" stop-color="#000" stop-opacity="0.19"/><stop offset="0.1849" stop-color="#000" stop-opacity="0.19"/><stop offset="0.1925" stop-color="#000" stop-opacity="0"/></linearGradient>
<linearGradient id="w37" gradientUnits="userSpaceOnUse" x1="120" x2="1164" y1="0" y2="0"><stop offset="0.1293" stop-color="#000" stop-opacity="0"/><stop offset="0.137" stop-color="#000" stop-opacity="0.45"/><stop offset="0.1849" stop-color="#000" stop-opacity="0.45"/><stop offset="0.1925" stop-color="#000" stop-opacity="0"/></linearGradient>
<linearGradient id="w38" gradientUnits="userSpaceOnUse" x1="120" x2="1164" y1="0" y2="0"><stop offset="0.228" stop-color="#000" stop-opacity="0"/><stop offset="0.2356" stop-color="#000" stop-opacity="0.38"/><stop offset="0.25" stop-color="#000" stop-opacity="0.38"/><stop offset="0.2577" stop-color="#000" stop-opacity="0"/></linearGradient>
<linearGradient id="w39" gradientUnits="userSpaceOnUse" x1="120" x2="1164" y1="0" y2="0"><stop offset="0.228" stop-color="#000" stop-opacity="0"/><stop offset="0.2356" stop-color="#000" stop-opacity="0.38"/><stop offset="0.25" stop-color="#000" stop-opacity="0.38"/><stop offset="0.2577" stop-color="#000" stop-opacity="0"/></linearGradient>
<linearGradient id="w40" gradientUnits="userSpaceOnUse" x1="120" x2="1164" y1="0" y2="0"><stop offset="0.228" stop-color="#000" stop-opacity="0"/><stop offset="0.2356" stop-color="#000" stop-opacity="0.38"/><stop offset="0.25" stop-color="#000" stop-opacity="0.38"/><stop offset="0.2577" stop-color="#000" stop-opacity="0"/></linearGradient>
<linearGradient id="w41" gradientUnits="userSpaceOnUse" x1="120" x2="1164" y1="0" y2="0"><stop offset="0.228" stop-color="#000" stop-opacity="0"/><stop offset="0.2356" stop-color="#000" stop-opacity="0.38"/><stop offset="0.25" stop-color="#000" stop-opacity="0.38"/><stop offset="0.2577" stop-color="#000" stop-opacity="0"/></linearGradient>
<linearGradient id="w42" gradientUnits="userSpaceOnUse" x1="120" x2="1164" y1="0" y2="0"><stop offset="0.228" stop-color="#000" stop-opacity="0"/><stop offset="0.2356" stop-color="#000" stop-opacity="0.38"/><stop offset="0.25" stop-color="#000" stop-opacity="0.38"/><stop offset="0.2577" stop-color="#000" stop-opacity="0"/></linearGradient>
<linearGradient id="w43" gradientUnits="userSpaceOnUse" x1="120" x2="1164" y1="0" y2="0"><stop offset="0.228" stop-color="#000" stop-opacity="0"/><stop offset="0.2356" stop-color="#000" stop-opacity="0.38"/><stop offset="0.25" stop-color="#000" stop-opacity="0.38"/><stop offset="0.2577" stop-color="#000" stop-opacity="0"/></linearGradient>
<linearGradient id="w44" gradientUnits="userSpaceOnUse" x1="120" x2="1164" y1="0" y2="0"><stop offset="0.228" stop-color="#000" stop-opacity="0"/><stop offset="0.2356" stop-color="#000" stop-opacity="0.38"/><stop offset="0.25" stop-color="#000" stop-opacity="0.38"/><stop offset="0.2577" stop-color="#000" stop-opacity="0"/></linearGradient>
<linearGradient id="w45" gradientUnits="userSpaceOnUse" x1="120" x2="1164" y1="0" y2="0"><stop offset="0.228" stop-color="#000" stop-opacity="0"/><stop offset="0.2356" stop-color="#000" stop-opacity="0.19"/><stop offset="0.25" stop-color="#000" stop-opacity="0.19"/><stop offset="0.2577" stop-color="#000" stop-opacity="0"/></linearGradient>
<linearGradient id="w46" gradientUnits="userSpaceOnUse" x1="120" x2="1164" y1="0" y2="0"><stop offset="0.228" stop-color="#000" stop-opacity="0"/><stop offset="0.2356" stop-color="#000" stop-opacity="0.19"/><stop offset="0.25" stop-color="#000" stop-opacity="0.19"/><stop offset="0.2577" stop-color="#000" stop-opacity="0"/></linearGradient>
<linearGradient id="w47" gradientUnits="userSpaceOnUse" x1="120" x2="1164" y1="0" y2="0"><stop offset="0.228" stop-color="#000" stop-opacity="0"/><stop offset="0.2356" stop-color="#000" stop-opacity="0.19"/><stop offset="0.25" stop-color="#000" stop-opacity="0.19"/><stop offset="0.2577" stop-color="#000" stop-opacity="0"/></linearGradient>
<linearGradient id="w48" gradientUnits="userSpaceOnUse" x1="120" x2="1164" y1="0" y2="0"><stop offset="0.228" stop-color="#000" stop-opacity="0"/><stop offset="0.2356" stop-color="#000" stop-opacity="0.45"/><stop offset="0.25" stop-color="#000" stop-opacity="0.45"/><stop offset="0.2577" stop-color="#000" stop-opacity="0"/></linearGradient>
<linearGradient id="w49" gradientUnits="userSpaceOnUse" x1="120" x2="1164" y1="0" y2="0"><stop offset="0.228" stop-color="#000" stop-opacity="0"/><stop offset="0.2356" stop-color="#000" stop-opacity="0.19"/><stop offset="0.25" stop-color="#000" stop-opacity="0.19"/><stop offset="0.2577" stop-color="#000" stop-opacity="0"/></linearGradient>
<linearGradient id="w50" gradientUnits="userSpaceOnUse" x1="120" x2="1164" y1="0" y2="0"><stop offset="0.227" stop-color="#000" stop-opacity="0"/><stop offset="0.2347" stop-color="#000" stop-opacity="0.45"/><stop offset="0.2548" stop-color="#000" stop-opacity="0.45"/><stop offset="0.2625" stop-color="#000" stop-opacity="0"/></linearGradient>
<linearGradient id="w51" gradientUnits="userSpaceOnUse" x1="120" x2="1164" y1="0" y2="0"><stop offset="0.2874" stop-color="#000" stop-opacity="0"/><stop offset="0.295" stop-color="#000" stop-opacity="0.38"/><stop offset="0.317" stop-color="#000" stop-opacity="0.38"/><stop offset="0.3247" stop-color="#000" stop-opacity="0"/></linearGradient>
<linearGradient id="w52" gradientUnits="userSpaceOnUse" x1="120" x2="1164" y1="0" y2="0"><stop offset="0.2921" stop-color="#000" stop-opacity="0"/><stop offset="0.2998" stop-color="#000" stop-opacity="0.38"/><stop offset="0.3151" stop-color="#000" stop-opacity="0.38"/><stop offset="0.3228" stop-color="#000" stop-opacity="0"/></linearGradient>
<linearGradient id="w53" gradientUnits="userSpaceOnUse" x1="120" x2="1164" y1="0" y2="0"><stop offset="0.2921" stop-color="#000" stop-opacity="0"/><stop offset="0.2998" stop-color="#000" stop-opacity="0.38"/><stop offset="0.3151" stop-color="#000" stop-opacity="0.38"/><stop offset="0.3228" stop-color="#000" stop-opacity="0"/></linearGradient>
<linearGradient id="w54" gradientUnits="userSpaceOnUse" x1="120" x2="1164" y1="0" y2="0"><stop offset="0.2921" stop-color="#000" stop-opacity="0"/><stop offset="0.2998" stop-color="#000" stop-opacity="0.38"/><stop offset="0.3151" stop-color="#000" stop-opacity="0.38"/><stop offset="0.3228" stop-color="#000" stop-opacity="0"/></linearGradient>
<linearGradient id="w55" gradientUnits="userSpaceOnUse" x1="120" x2="1164" y1="0" y2="0"><stop offset="0.2921" stop-color="#000" stop-opacity="0"/><stop offset="0.2998" stop-color="#000" stop-opacity="0.28"/><stop offset="0.3151" stop-color="#000" stop-opacity="0.28"/><stop offset="0.3228" stop-color="#000" stop-opacity="0"/></linearGradient>
<linearGradient id="w56" gradientUnits="userSpaceOnUse" x1="120" x2="1164" y1="0" y2="0"><stop offset="0.2921" stop-color="#000" stop-opacity="0"/><stop offset="0.2998" stop-color="#000" stop-opacity="0.19"/><stop offset="0.3151" stop-color="#000" stop-opacity="0.19"/><stop offset="0.3228" stop-color="#000" stop-opacity="0"/></linearGradient>
<linearGradient id="w57" gradientUnits="userSpaceOnUse" x1="120" x2="1164" y1="0" y2="0"><stop offset="0.2921" stop-color="#000" stop-opacity="0"/><stop offset="0.2998" stop-color="#000" stop-opacity="0.38"/><stop offset="0.3151" stop-color="#000" stop-opacity="0.38"/><stop offset="0.3228" stop-color="#000" stop-opacity="0"/></linearGradient>
<linearGradient id="w58" gradientUnits="userSpaceOnUse" x1="120" x2="1164" y1="0" y2="0"><stop offset="0.2921" stop-color="#000" stop-opacity="0"/><stop offset="0.2998" stop-color="#000" stop-opacity="0.38"/><stop offset="0.3151" stop-color="#000" stop-opacity="0.38"/><stop offset="0.3228" stop-color="#000" stop-opacity="0"/></linearGradient>
<linearGradient id="w59" gradientUnits="userSpaceOnUse" x1="120" x2="1164" y1="0" y2="0"><stop offset="0.2921" stop-color="#000" stop-opacity="0"/><stop offset="0.2998" stop-color="#000" stop-opacity="0.19"/><stop offset="0.3151" stop-color="#000" stop-opacity="0.19"/><stop offset="0.3228" stop-color="#000" stop-opacity="0"/></linearGradient>
<linearGradient id="w60" gradientUnits="userSpaceOnUse" x1="120" x2="1164" y1="0" y2="0"><stop offset="0.2921" stop-color="#000" stop-opacity="0"/><stop offset="0.2998" stop-color="#000" stop-opacity="0.19"/><stop offset="0.3151" stop-color="#000" stop-opacity="0.19"/><stop offset="0.3228" stop-color="#000" stop-opacity="0"/></linearGradient>
<linearGradient id="w61" gradientUnits="userSpaceOnUse" x1="120" x2="1164" y1="0" y2="0"><stop offset="0.2921" stop-color="#000" stop-opacity="0"/><stop offset="0.2998" stop-color="#000" stop-opacity="0.38"/><stop offset="0.3151" stop-color="#000" stop-opacity="0.38"/><stop offset="0.3228" stop-color="#000" stop-opacity="0"/></linearGradient>
<linearGradient id="w62" gradientUnits="userSpaceOnUse" x1="120" x2="1164" y1="0" y2="0"><stop offset="0.2921" stop-color="#000" stop-opacity="0"/><stop offset="0.2998" stop-color="#000" stop-opacity="0.38"/><stop offset="0.3151" stop-color="#000" stop-opacity="0.38"/><stop offset="0.3228" stop-color="#000" stop-opacity="0"/></linearGradient>
<linearGradient id="w63" gradientUnits="userSpaceOnUse" x1="120" x2="1164" y1="0" y2="0"><stop offset="0.2921" stop-color="#000" stop-opacity="0"/><stop offset="0.2998" stop-color="#000" stop-opacity="0.38"/><stop offset="0.3151" stop-color="#000" stop-opacity="0.38"/><stop offset="0.3228" stop-color="#000" stop-opacity="0"/></linearGradient>
<linearGradient id="w64" gradientUnits="userSpaceOnUse" x1="120" x2="1164" y1="0" y2="0"><stop offset="0.3544" stop-color="#000" stop-opacity="0"/><stop offset="0.3621" stop-color="#000" stop-opacity="0.38"/><stop offset="0.3793" stop-color="#000" stop-opacity="0.38"/><stop offset="0.387" stop-color="#000" stop-opacity="0"/></linearGradient>
<linearGradient id="w65" gradientUnits="userSpaceOnUse" x1="120" x2="1164" y1="0" y2="0"><stop offset="0.3544" stop-color="#000" stop-opacity="0"/><stop offset="0.3621" stop-color="#000" stop-opacity="0.38"/><stop offset="0.3793" stop-color="#000" stop-opacity="0.38"/><stop offset="0.387" stop-color="#000" stop-opacity="0"/></linearGradient>
<linearGradient id="w66" gradientUnits="userSpaceOnUse" x1="120" x2="1164" y1="0" y2="0"><stop offset="0.3544" stop-color="#000" stop-opacity="0"/><stop offset="0.3621" stop-color="#000" stop-opacity="0.38"/><stop offset="0.3793" stop-color="#000" stop-opacity="0.38"/><stop offset="0.387" stop-color="#000" stop-opacity="0"/></linearGradient>
<linearGradient id="w67" gradientUnits="userSpaceOnUse" x1="120" x2="1164" y1="0" y2="0"><stop offset="0.3544" stop-color="#000" stop-opacity="0"/><stop offset="0.3621" stop-color="#000" stop-opacity="0.38"/><stop offset="0.3793" stop-color="#000" stop-opacity="0.38"/><stop offset="0.387" stop-color="#000" stop-opacity="0"/></linearGradient>
<linearGradient id="w68" gradientUnits="userSpaceOnUse" x1="120" x2="1164" y1="0" y2="0"><stop offset="0.3544" stop-color="#000" stop-opacity="0"/><stop offset="0.3621" stop-color="#000" stop-opacity="0.38"/><stop offset="0.3793" stop-color="#000" stop-opacity="0.38"/><stop offset="0.387" stop-color="#000" stop-opacity="0"/></linearGradient>
<linearGradient id="w69" gradientUnits="userSpaceOnUse" x1="120" x2="1164" y1="0" y2="0"><stop offset="0.3544" stop-color="#000" stop-opacity="0"/><stop offset="0.3621" stop-color="#000" stop-opacity="0.38"/><stop offset="0.3793" stop-color="#000" stop-opacity="0.38"/><stop offset="0.387" stop-color="#000" stop-opacity="0"/></linearGradient>
<linearGradient id="w70" gradientUnits="userSpaceOnUse" x1="120" x2="1164" y1="0" y2="0"><stop offset="0.3544" stop-color="#000" stop-opacity="0"/><stop offset="0.3621" stop-color="#000" stop-opacity="0.19"/><stop offset="0.3793" stop-color="#000" stop-opacity="0.19"/><stop offset="0.387" stop-color="#000" stop-opacity="0"/></linearGradient>
<linearGradient id="w71" gradientUnits="userSpaceOnUse" x1="120" x2="1164" y1="0" y2="0"><stop offset="0.3544" stop-color="#000" stop-opacity="0"/><stop offset="0.3621" stop-color="#000" stop-opacity="0.38"/><stop offset="0.3793" stop-color="#000" stop-opacity="0.38"/><stop offset="0.387" stop-color="#000" stop-opacity="0"/></linearGradient>
<linearGradient id="w72" gradientUnits="userSpaceOnUse" x1="120" x2="1164" y1="0" y2="0"><stop offset="0.3544" stop-color="#000" stop-opacity="0"/><stop offset="0.3621" stop-color="#000" stop-opacity="0.38"/><stop offset="0.3793" stop-color="#000" stop-opacity="0.38"/><stop offset="0.387" stop-color="#000" stop-opacity="0"/></linearGradient>
<linearGradient id="w73" gradientUnits="userSpaceOnUse" x1="120" x2="1164" y1="0" y2="0"><stop offset="0.3544" stop-color="#000" stop-opacity="0"/><stop offset="0.3621" stop-color="#000" stop-opacity="0.19"/><stop offset="0.3793" stop-color="#000" stop-opacity="0.19"/><stop offset="0.387" stop-color="#000" stop-opacity="0"/></linearGradient>
<linearGradient id="w74" gradientUnits="userSpaceOnUse" x1="120" x2="1164" y1="0" y2="0"><stop offset="0.3544" stop-color="#000" stop-opacity="0"/><stop offset="0.3621" stop-color="#000" stop-opacity="0.45"/><stop offset="0.3793" stop-color="#000" stop-opacity="0.45"/><stop offset="0.387" stop-color="#000" stop-opacity="0"/></linearGradient>
<linearGradient id="w75" gradientUnits="userSpaceOnUse" x1="120" x2="1164" y1="0" y2="0"><stop offset="0.3467" stop-color="#000" stop-opacity="0"/><stop offset="0.3544" stop-color="#000" stop-opacity="0.45"/><stop offset="0.387" stop-color="#000" stop-opacity="0.45"/><stop offset="0.3946" stop-color="#000" stop-opacity="0"/></linearGradient>
<linearGradient id="w76" gradientUnits="userSpaceOnUse" x1="120" x2="1164" y1="0" y2="0"><stop offset="0.3496" stop-color="#000" stop-opacity="0"/><stop offset="0.3573" stop-color="#000" stop-opacity="0.45"/><stop offset="0.3841" stop-color="#000" stop-opacity="0.45"/><stop offset="0.3918" stop-color="#000" stop-opacity="0"/></linearGradient>
<linearGradient id="w77" gradientUnits="userSpaceOnUse" x1="120" x2="1164" y1="0" y2="0"><stop offset="0.4195" stop-color="#000" stop-opacity="0"/><stop offset="0.4272" stop-color="#000" stop-opacity="0.28"/><stop offset="0.5086" stop-color="#000" stop-opacity="0.28"/><stop offset="0.5163" stop-color="#000" stop-opacity="0"/></linearGradient>
<linearGradient id="w78" gradientUnits="userSpaceOnUse" x1="120" x2="1164" y1="0" y2="0"><stop offset="0.4195" stop-color="#000" stop-opacity="0"/><stop offset="0.4272" stop-color="#000" stop-opacity="0.19"/><stop offset="0.5086" stop-color="#000" stop-opacity="0.19"/><stop offset="0.5163" stop-color="#000" stop-opacity="0"/></linearGradient>
<linearGradient id="w79" gradientUnits="userSpaceOnUse" x1="120" x2="1164" y1="0" y2="0"><stop offset="0.4195" stop-color="#000" stop-opacity="0"/><stop offset="0.4272" stop-color="#000" stop-opacity="0.19"/><stop offset="0.5086" stop-color="#000" stop-opacity="0.19"/><stop offset="0.5163" stop-color="#000" stop-opacity="0"/></linearGradient>
<linearGradient id="w80" gradientUnits="userSpaceOnUse" x1="120" x2="1164" y1="0" y2="0"><stop offset="0.4195" stop-color="#000" stop-opacity="0"/><stop offset="0.4272" stop-color="#000" stop-opacity="0.28"/><stop offset="0.5086" stop-color="#000" stop-opacity="0.28"/><stop offset="0.5163" stop-color="#000" stop-opacity="0"/></linearGradient>
<linearGradient id="w81" gradientUnits="userSpaceOnUse" x1="120" x2="1164" y1="0" y2="0"><stop offset="0.4195" stop-color="#000" stop-opacity="0"/><stop offset="0.4272" stop-color="#000" stop-opacity="0.13"/><stop offset="0.5086" stop-color="#000" stop-opacity="0.13"/><stop offset="0.5163" stop-color="#000" stop-opacity="0"/></linearGradient>
<linearGradient id="w82" gradientUnits="userSpaceOnUse" x1="120" x2="1164" y1="0" y2="0"><stop offset="0.4195" stop-color="#000" stop-opacity="0"/><stop offset="0.4272" stop-color="#000" stop-opacity="0.19"/><stop offset="0.5086" stop-color="#000" stop-opacity="0.19"/><stop offset="0.5163" stop-color="#000" stop-opacity="0"/></linearGradient>
<linearGradient id="w83" gradientUnits="userSpaceOnUse" x1="120" x2="1164" y1="0" y2="0"><stop offset="0.4195" stop-color="#000" stop-opacity="0"/><stop offset="0.4272" stop-color="#000" stop-opacity="0.28"/><stop offset="0.5086" stop-color="#000" stop-opacity="0.28"/><stop offset="0.5163" stop-color="#000" stop-opacity="0"/></linearGradient>
<linearGradient id="w84" gradientUnits="userSpaceOnUse" x1="120" x2="1164" y1="0" y2="0"><stop offset="0.4195" stop-color="#000" stop-opacity="0"/><stop offset="0.4272" stop-color="#000" stop-opacity="0.13"/><stop offset="0.5086" stop-color="#000" stop-opacity="0.13"/><stop offset="0.5163" stop-color="#000" stop-opacity="0"/></linearGradient>
<linearGradient id="w85" gradientUnits="userSpaceOnUse" x1="120" x2="1164" y1="0" y2="0"><stop offset="0.4195" stop-color="#000" stop-opacity="0"/><stop offset="0.4272" stop-color="#000" stop-opacity="0.13"/><stop offset="0.5086" stop-color="#000" stop-opacity="0.13"/><stop offset="0.5163" stop-color="#000" stop-opacity="0"/></linearGradient>
<linearGradient id="w86" gradientUnits="userSpaceOnUse" x1="120" x2="1164" y1="0" y2="0"><stop offset="0.4454" stop-color="#000" stop-opacity="0"/><stop offset="0.4531" stop-color="#000" stop-opacity="0.45"/><stop offset="0.5086" stop-color="#000" stop-opacity="0.45"/><stop offset="0.5163" stop-color="#000" stop-opacity="0"/></linearGradient>
<linearGradient id="w87" gradientUnits="userSpaceOnUse" x1="120" x2="1164" y1="0" y2="0"><stop offset="0.4186" stop-color="#000" stop-opacity="0"/><stop offset="0.4262" stop-color="#000" stop-opacity="0.45"/><stop offset="0.4473" stop-color="#000" stop-opacity="0.45"/><stop offset="0.455" stop-color="#000" stop-opacity="0"/></linearGradient>
<linearGradient id="w88" gradientUnits="userSpaceOnUse" x1="120" x2="1164" y1="0" y2="0"><stop offset="0.4473" stop-color="#000" stop-opacity="0"/><stop offset="0.455" stop-color="#000" stop-opacity="0.19"/><stop offset="0.5086" stop-color="#000" stop-opacity="0.19"/><stop offset="0.5163" stop-color="#000" stop-opacity="0"/></linearGradient>
<linearGradient id="w89" gradientUnits="userSpaceOnUse" x1="120" x2="1164" y1="0" y2="0"><stop offset="0.4205" stop-color="#000" stop-opacity="0"/><stop offset="0.4282" stop-color="#000" stop-opacity="0.19"/><stop offset="0.4473" stop-color="#000" stop-opacity="0.19"/><stop offset="0.455" stop-color="#000" stop-opacity="0"/></linearGradient>
<linearGradient id="w90" gradientUnits="userSpaceOnUse" x1="120" x2="1164" y1="0" y2="0"><stop offset="0.4473" stop-color="#000" stop-opacity="0"/><stop offset="0.455" stop-color="#000" stop-opacity="0.45"/><stop offset="0.5096" stop-color="#000" stop-opacity="0.45"/><stop offset="0.5172" stop-color="#000" stop-opacity="0"/></linearGradient>
<linearGradient id="w91" gradientUnits="userSpaceOnUse" x1="120" x2="1164" y1="0" y2="0"><stop offset="0.4205" stop-color="#000" stop-opacity="0"/><stop offset="0.4282" stop-color="#000" stop-opacity="0.19"/><stop offset="0.4454" stop-color="#000" stop-opacity="0.19"/><stop offset="0.4531" stop-color="#000" stop-opacity="0"/></linearGradient>
<linearGradient id="w92" gradientUnits="userSpaceOnUse" x1="120" x2="1164" y1="0" y2="0"><stop offset="0.4454" stop-color="#000" stop-opacity="0"/><stop offset="0.4531" stop-color="#000" stop-opacity="0.36"/><stop offset="0.4808" stop-color="#000" stop-opacity="0.45"/><stop offset="0.5077" stop-color="#000" stop-opacity="0.28"/><stop offset="0.5153" stop-color="#000" stop-opacity="0"/></linearGradient>
<linearGradient id="w93" gradientUnits="userSpaceOnUse" x1="120" x2="1164" y1="0" y2="0"><stop offset="0.4454" stop-color="#000" stop-opacity="0"/><stop offset="0.4531" stop-color="#000" stop-opacity="0.38"/><stop offset="0.5086" stop-color="#000" stop-opacity="0.38"/><stop offset="0.5163" stop-color="#000" stop-opacity="0"/></linearGradient>
<linearGradient id="w94" gradientUnits="userSpaceOnUse" x1="120" x2="1164" y1="0" y2="0"><stop offset="0.5479" stop-color="#000" stop-opacity="0"/><stop offset="0.5556" stop-color="#000" stop-opacity="0.38"/><stop offset="0.5728" stop-color="#000" stop-opacity="0.38"/><stop offset="0.5805" stop-color="#000" stop-opacity="0"/></linearGradient>
<linearGradient id="w95" gradientUnits="userSpaceOnUse" x1="120" x2="1164" y1="0" y2="0"><stop offset="0.5479" stop-color="#000" stop-opacity="0"/><stop offset="0.5556" stop-color="#000" stop-opacity="0.38"/><stop offset="0.5728" stop-color="#000" stop-opacity="0.38"/><stop offset="0.5805" stop-color="#000" stop-opacity="0"/></linearGradient>
<linearGradient id="w96" gradientUnits="userSpaceOnUse" x1="120" x2="1164" y1="0" y2="0"><stop offset="0.5479" stop-color="#000" stop-opacity="0"/><stop offset="0.5556" stop-color="#000" stop-opacity="0.38"/><stop offset="0.5728" stop-color="#000" stop-opacity="0.38"/><stop offset="0.5805" stop-color="#000" stop-opacity="0"/></linearGradient>
<linearGradient id="w97" gradientUnits="userSpaceOnUse" x1="120" x2="1164" y1="0" y2="0"><stop offset="0.5479" stop-color="#000" stop-opacity="0"/><stop offset="0.5556" stop-color="#000" stop-opacity="0.38"/><stop offset="0.5728" stop-color="#000" stop-opacity="0.38"/><stop offset="0.5805" stop-color="#000" stop-opacity="0"/></linearGradient>
<linearGradient id="w98" gradientUnits="userSpaceOnUse" x1="120" x2="1164" y1="0" y2="0"><stop offset="0.5479" stop-color="#000" stop-opacity="0"/><stop offset="0.5556" stop-color="#000" stop-opacity="0.38"/><stop offset="0.5728" stop-color="#000" stop-opacity="0.38"/><stop offset="0.5805" stop-color="#000" stop-opacity="0"/></linearGradient>
<linearGradient id="w99" gradientUnits="userSpaceOnUse" x1="120" x2="1164" y1="0" y2="0"><stop offset="0.5479" stop-color="#000" stop-opacity="0"/><stop offset="0.5556" stop-color="#000" stop-opacity="0.38"/><stop offset="0.5728" stop-color="#000" stop-opacity="0.38"/><stop offset="0.5805" stop-color="#000" stop-opacity="0"/></linearGradient>
<linearGradient id="w100" gradientUnits="userSpaceOnUse" x1="120" x2="1164" y1="0" y2="0"><stop offset="0.5479" stop-color="#000" stop-opacity="0"/><stop offset="0.5556" stop-color="#000" stop-opacity="0.38"/><stop offset="0.5728" stop-color="#000" stop-opacity="0.38"/><stop offset="0.5805" stop-color="#000" stop-opacity="0"/></linearGradient>
<linearGradient id="w101" gradientUnits="userSpaceOnUse" x1="120" x2="1164" y1="0" y2="0"><stop offset="0.5479" stop-color="#000" stop-opacity="0"/><stop offset="0.5556" stop-color="#000" stop-opacity="0.19"/><stop offset="0.5728" stop-color="#000" stop-opacity="0.19"/><stop offset="0.5805" stop-color="#000" stop-opacity="0"/></linearGradient>
<linearGradient id="w102" gradientUnits="userSpaceOnUse" x1="120" x2="1164" y1="0" y2="0"><stop offset="0.5479" stop-color="#000" stop-opacity="0"/><stop offset="0.5556" stop-color="#000" stop-opacity="0.45"/><stop offset="0.5728" stop-color="#000" stop-opacity="0.45"/><stop offset="0.5805" stop-color="#000" stop-opacity="0"/></linearGradient>
<linearGradient id="w103" gradientUnits="userSpaceOnUse" x1="120" x2="1164" y1="0" y2="0"><stop offset="0.5479" stop-color="#000" stop-opacity="0"/><stop offset="0.5556" stop-color="#000" stop-opacity="0.19"/><stop offset="0.5728" stop-color="#000" stop-opacity="0.19"/><stop offset="0.5805" stop-color="#000" stop-opacity="0"/></linearGradient>
<linearGradient id="w104" gradientUnits="userSpaceOnUse" x1="120" x2="1164" y1="0" y2="0"><stop offset="0.5479" stop-color="#000" stop-opacity="0"/><stop offset="0.5556" stop-color="#000" stop-opacity="0.38"/><stop offset="0.5728" stop-color="#000" stop-opacity="0.38"/><stop offset="0.5805" stop-color="#000" stop-opacity="0"/></linearGradient>
<linearGradient id="w105" gradientUnits="userSpaceOnUse" x1="120" x2="1164" y1="0" y2="0"><stop offset="0.6791" stop-color="#000" stop-opacity="0"/><stop offset="0.6868" stop-color="#000" stop-opacity="0.28"/><stop offset="0.704" stop-color="#000" stop-opacity="0.28"/><stop offset="0.7117" stop-color="#000" stop-opacity="0"/></linearGradient>
<linearGradient id="w106" gradientUnits="userSpaceOnUse" x1="120" x2="1164" y1="0" y2="0"><stop offset="0.6791" stop-color="#000" stop-opacity="0"/><stop offset="0.6868" stop-color="#000" stop-opacity="0.28"/><stop offset="0.704" stop-color="#000" stop-opacity="0.28"/><stop offset="0.7117" stop-color="#000" stop-opacity="0"/></linearGradient>
<linearGradient id="w107" gradientUnits="userSpaceOnUse" x1="120" x2="1164" y1="0" y2="0"><stop offset="0.6791" stop-color="#000" stop-opacity="0"/><stop offset="0.6868" stop-color="#000" stop-opacity="0.28"/><stop offset="0.704" stop-color="#000" stop-opacity="0.28"/><stop offset="0.7117" stop-color="#000" stop-opacity="0"/></linearGradient>
<linearGradient id="w108" gradientUnits="userSpaceOnUse" x1="120" x2="1164" y1="0" y2="0"><stop offset="0.6791" stop-color="#000" stop-opacity="0"/><stop offset="0.6868" stop-color="#000" stop-opacity="0.28"/><stop offset="0.704" stop-color="#000" stop-opacity="0.28"/><stop offset="0.7117" stop-color="#000" stop-opacity="0"/></linearGradient>
<linearGradient id="w109" gradientUnits="userSpaceOnUse" x1="120" x2="1164" y1="0" y2="0"><stop offset="0.6791" stop-color="#000" stop-opacity="0"/><stop offset="0.6868" stop-color="#000" stop-opacity="0.19"/><stop offset="0.704" stop-color="#000" stop-opacity="0.19"/><stop offset="0.7117" stop-color="#000" stop-opacity="0"/></linearGradient>
<linearGradient id="w110" gradientUnits="userSpaceOnUse" x1="120" x2="1164" y1="0" y2="0"><stop offset="0.6791" stop-color="#000" stop-opacity="0"/><stop offset="0.6868" stop-color="#000" stop-opacity="0.28"/><stop offset="0.704" stop-color="#000" stop-opacity="0.28"/><stop offset="0.7117" stop-color="#000" stop-opacity="0"/></linearGradient>
<linearGradient id="w111" gradientUnits="userSpaceOnUse" x1="120" x2="1164" y1="0" y2="0"><stop offset="0.6791" stop-color="#000" stop-opacity="0"/><stop offset="0.6868" stop-color="#000" stop-opacity="0.28"/><stop offset="0.704" stop-color="#000" stop-opacity="0.28"/><stop offset="0.7117" stop-color="#000" stop-opacity="0"/></linearGradient>
<linearGradient id="w112" gradientUnits="userSpaceOnUse" x1="120" x2="1164" y1="0" y2="0"><stop offset="0.6791" stop-color="#000" stop-opacity="0"/><stop offset="0.6868" stop-color="#000" stop-opacity="0.19"/><stop offset="0.704" stop-color="#000" stop-opacity="0.19"/><stop offset="0.7117" stop-color="#000" stop-opacity="0"/></linearGradient>
<linearGradient id="w113" gradientUnits="userSpaceOnUse" x1="120" x2="1164" y1="0" y2="0"><stop offset="0.6791" stop-color="#000" stop-opacity="0"/><stop offset="0.6868" stop-color="#000" stop-opacity="0.28"/><stop offset="0.704" stop-color="#000" stop-opacity="0.28"/><stop offset="0.7117" stop-color="#000" stop-opacity="0"/></linearGradient>
<linearGradient id="w114" gradientUnits="userSpaceOnUse" x1="120" x2="1164" y1="0" y2="0"><stop offset="0.6791" stop-color="#000" stop-opacity="0"/><stop offset="0.6868" stop-color="#000" stop-opacity="0.19"/><stop offset="0.704" stop-color="#000" stop-opacity="0.19"/><stop offset="0.7117" stop-color="#000" stop-opacity="0"/></linearGradient>
<linearGradient id="w115" gradientUnits="userSpaceOnUse" x1="120" x2="1164" y1="0" y2="0"><stop offset="0.6791" stop-color="#000" stop-opacity="0"/><stop offset="0.6868" stop-color="#000" stop-opacity="0.28"/><stop offset="0.704" stop-color="#000" stop-opacity="0.28"/><stop offset="0.7117" stop-color="#000" stop-opacity="0"/></linearGradient>
<linearGradient id="w116" gradientUnits="userSpaceOnUse" x1="120" x2="1164" y1="0" y2="0"><stop offset="0.6791" stop-color="#000" stop-opacity="0"/><stop offset="0.6868" stop-color="#000" stop-opacity="0.28"/><stop offset="0.704" stop-color="#000" stop-opacity="0.28"/><stop offset="0.7117" stop-color="#000" stop-opacity="0"/></linearGradient>
<linearGradient id="w117" gradientUnits="userSpaceOnUse" x1="120" x2="1164" y1="0" y2="0"><stop offset="0.7356" stop-color="#000" stop-opacity="0"/><stop offset="0.7433" stop-color="#000" stop-opacity="0.09"/><stop offset="0.8046" stop-color="#000" stop-opacity="0.09"/><stop offset="0.8123" stop-color="#000" stop-opacity="0"/></linearGradient>
<linearGradient id="w118" gradientUnits="userSpaceOnUse" x1="120" x2="1164" y1="0" y2="0"><stop offset="0.7356" stop-color="#000" stop-opacity="0"/><stop offset="0.7433" stop-color="#000" stop-opacity="0.09"/><stop offset="0.8046" stop-color="#000" stop-opacity="0.09"/><stop offset="0.8123" stop-color="#000" stop-opacity="0"/></linearGradient>
<linearGradient id="w119" gradientUnits="userSpaceOnUse" x1="120" x2="1164" y1="0" y2="0"><stop offset="0.7356" stop-color="#000" stop-opacity="0"/><stop offset="0.7433" stop-color="#000" stop-opacity="0.09"/><stop offset="0.8046" stop-color="#000" stop-opacity="0.09"/><stop offset="0.8123" stop-color="#000" stop-opacity="0"/></linearGradient>
<linearGradient id="w120" gradientUnits="userSpaceOnUse" x1="120" x2="1164" y1="0" y2="0"><stop offset="0.7356" stop-color="#000" stop-opacity="0"/><stop offset="0.7433" stop-color="#000" stop-opacity="0.09"/><stop offset="0.8046" stop-color="#000" stop-opacity="0.09"/><stop offset="0.8123" stop-color="#000" stop-opacity="0"/></linearGradient>
<linearGradient id="w121" gradientUnits="userSpaceOnUse" x1="120" x2="1164" y1="0" y2="0"><stop offset="0.7356" stop-color="#000" stop-opacity="0"/><stop offset="0.7433" stop-color="#000" stop-opacity="0.13"/><stop offset="0.8046" stop-color="#000" stop-opacity="0.13"/><stop offset="0.8123" stop-color="#000" stop-opacity="0"/></linearGradient>
<linearGradient id="w122" gradientUnits="userSpaceOnUse" x1="120" x2="1164" y1="0" y2="0"><stop offset="0.7356" stop-color="#000" stop-opacity="0"/><stop offset="0.7433" stop-color="#000" stop-opacity="0.26"/><stop offset="0.8046" stop-color="#000" stop-opacity="0.26"/><stop offset="0.8123" stop-color="#000" stop-opacity="0"/></linearGradient>
<linearGradient id="w123" gradientUnits="userSpaceOnUse" x1="120" x2="1164" y1="0" y2="0"><stop offset="0.7356" stop-color="#000" stop-opacity="0"/><stop offset="0.7433" stop-color="#000" stop-opacity="0.26"/><stop offset="0.8046" stop-color="#000" stop-opacity="0.26"/><stop offset="0.8123" stop-color="#000" stop-opacity="0"/></linearGradient>
<linearGradient id="w124" gradientUnits="userSpaceOnUse" x1="120" x2="1164" y1="0" y2="0"><stop offset="0.7356" stop-color="#000" stop-opacity="0"/><stop offset="0.7433" stop-color="#000" stop-opacity="0.19"/><stop offset="0.8046" stop-color="#000" stop-opacity="0.19"/><stop offset="0.8123" stop-color="#000" stop-opacity="0"/></linearGradient>
<linearGradient id="w125" gradientUnits="userSpaceOnUse" x1="120" x2="1164" y1="0" y2="0"><stop offset="0.7356" stop-color="#000" stop-opacity="0"/><stop offset="0.7433" stop-color="#000" stop-opacity="0.26"/><stop offset="0.8046" stop-color="#000" stop-opacity="0.26"/><stop offset="0.8123" stop-color="#000" stop-opacity="0"/></linearGradient>
<linearGradient id="w126" gradientUnits="userSpaceOnUse" x1="120" x2="1164" y1="0" y2="0"><stop offset="0.7356" stop-color="#000" stop-opacity="0"/><stop offset="0.7433" stop-color="#000" stop-opacity="0.26"/><stop offset="0.8046" stop-color="#000" stop-opacity="0.26"/><stop offset="0.8123" stop-color="#000" stop-opacity="0"/></linearGradient>
<linearGradient id="w127" gradientUnits="userSpaceOnUse" x1="120" x2="1164" y1="0" y2="0"><stop offset="0.7356" stop-color="#000" stop-opacity="0"/><stop offset="0.7433" stop-color="#000" stop-opacity="0.19"/><stop offset="0.8046" stop-color="#000" stop-opacity="0.19"/><stop offset="0.8123" stop-color="#000" stop-opacity="0"/></linearGradient>
<linearGradient id="w128" gradientUnits="userSpaceOnUse" x1="120" x2="1164" y1="0" y2="0"><stop offset="0.7356" stop-color="#000" stop-opacity="0"/><stop offset="0.7433" stop-color="#000" stop-opacity="0.19"/><stop offset="0.8046" stop-color="#000" stop-opacity="0.19"/><stop offset="0.8123" stop-color="#000" stop-opacity="0"/></linearGradient>
<linearGradient id="w129" gradientUnits="userSpaceOnUse" x1="120" x2="1164" y1="0" y2="0"><stop offset="0.7356" stop-color="#000" stop-opacity="0"/><stop offset="0.7433" stop-color="#000" stop-opacity="0.26"/><stop offset="0.8046" stop-color="#000" stop-opacity="0.26"/><stop offset="0.8123" stop-color="#000" stop-opacity="0"/></linearGradient>
<linearGradient id="w130" gradientUnits="userSpaceOnUse" x1="120" x2="1164" y1="0" y2="0"><stop offset="0.7356" stop-color="#000" stop-opacity="0"/><stop offset="0.7433" stop-color="#000" stop-opacity="0.26"/><stop offset="0.8046" stop-color="#000" stop-opacity="0.26"/><stop offset="0.8123" stop-color="#000" stop-opacity="0"/></linearGradient>
<linearGradient id="w131" gradientUnits="userSpaceOnUse" x1="120" x2="1164" y1="0" y2="0"><stop offset="0.7356" stop-color="#000" stop-opacity="0"/><stop offset="0.7433" stop-color="#000" stop-opacity="0.13"/><stop offset="0.8046" stop-color="#000" stop-opacity="0.13"/><stop offset="0.8123" stop-color="#000" stop-opacity="0"/></linearGradient>
<linearGradient id="w132" gradientUnits="userSpaceOnUse" x1="120" x2="1164" y1="0" y2="0"><stop offset="0.8295" stop-color="#000" stop-opacity="0"/><stop offset="0.8467" stop-color="#000" stop-opacity="0.11"/><stop offset="0.8975" stop-color="#000" stop-opacity="0.11"/><stop offset="0.9148" stop-color="#000" stop-opacity="0"/></linearGradient>
<linearGradient id="w133" gradientUnits="userSpaceOnUse" x1="120" x2="1164" y1="0" y2="0"><stop offset="0.8295" stop-color="#000" stop-opacity="0"/><stop offset="0.8467" stop-color="#000" stop-opacity="0.11"/><stop offset="0.8956" stop-color="#000" stop-opacity="0.11"/><stop offset="0.9128" stop-color="#000" stop-opacity="0"/></linearGradient>
<linearGradient id="w134" gradientUnits="userSpaceOnUse" x1="120" x2="1164" y1="0" y2="0"><stop offset="0.8266" stop-color="#000" stop-opacity="0"/><stop offset="0.8439" stop-color="#000" stop-opacity="0.13"/><stop offset="0.8822" stop-color="#000" stop-opacity="0.13"/><stop offset="0.8994" stop-color="#000" stop-opacity="0"/></linearGradient>
<linearGradient id="w135" gradientUnits="userSpaceOnUse" x1="120" x2="1164" y1="0" y2="0"><stop offset="0.8822" stop-color="#000" stop-opacity="0"/><stop offset="0.8994" stop-color="#000" stop-opacity="0.19"/><stop offset="0.9205" stop-color="#000" stop-opacity="0.19"/><stop offset="0.9377" stop-color="#000" stop-opacity="0"/></linearGradient>
<linearGradient id="w136" gradientUnits="userSpaceOnUse" x1="120" x2="1164" y1="0" y2="0"><stop offset="0.8352" stop-color="#000" stop-opacity="0"/><stop offset="0.8525" stop-color="#000" stop-opacity="0.19"/><stop offset="0.9205" stop-color="#000" stop-opacity="0.19"/><stop offset="0.9377" stop-color="#000" stop-opacity="0"/></linearGradient>
<linearGradient id="w137" gradientUnits="userSpaceOnUse" x1="120" x2="1164" y1="0" y2="0"><stop offset="0.8314" stop-color="#000" stop-opacity="0"/><stop offset="0.8487" stop-color="#000" stop-opacity="0.38"/><stop offset="0.8697" stop-color="#000" stop-opacity="0.38"/><stop offset="0.887" stop-color="#000" stop-opacity="0"/></linearGradient>
<linearGradient id="w138" gradientUnits="userSpaceOnUse" x1="120" x2="1164" y1="0" y2="0"><stop offset="0.8621" stop-color="#000" stop-opacity="0"/><stop offset="0.8793" stop-color="#000" stop-opacity="0.28"/><stop offset="0.8918" stop-color="#000" stop-opacity="0.28"/><stop offset="0.909" stop-color="#000" stop-opacity="0"/></linearGradient>
<linearGradient id="w139" gradientUnits="userSpaceOnUse" x1="120" x2="1164" y1="0" y2="0"><stop offset="0.8352" stop-color="#000" stop-opacity="0"/><stop offset="0.8525" stop-color="#000" stop-opacity="0.38"/><stop offset="0.8582" stop-color="#000" stop-opacity="0.38"/><stop offset="0.8755" stop-color="#000" stop-opacity="0"/></linearGradient>
<linearGradient id="w140" gradientUnits="userSpaceOnUse" x1="120" x2="1164" y1="0" y2="0"><stop offset="0.8621" stop-color="#000" stop-opacity="0"/><stop offset="0.8793" stop-color="#000" stop-opacity="0.19"/><stop offset="0.9023" stop-color="#000" stop-opacity="0.19"/><stop offset="0.9195" stop-color="#000" stop-opacity="0"/></linearGradient>
<linearGradient id="w141" gradientUnits="userSpaceOnUse" x1="120" x2="1164" y1="0" y2="0"><stop offset="0.8975" stop-color="#000" stop-opacity="0"/><stop offset="0.9148" stop-color="#000" stop-opacity="0.28"/><stop offset="0.9243" stop-color="#000" stop-opacity="0.28"/><stop offset="0.9416" stop-color="#000" stop-opacity="0"/></linearGradient>
<linearGradient id="w142" gradientUnits="userSpaceOnUse" x1="120" x2="1164" y1="0" y2="0"><stop offset="0.8621" stop-color="#000" stop-opacity="0"/><stop offset="0.8793" stop-color="#000" stop-opacity="0.45"/><stop offset="0.8956" stop-color="#000" stop-opacity="0.45"/><stop offset="0.9128" stop-color="#000" stop-opacity="0"/></linearGradient>
<linearGradient id="w143" gradientUnits="userSpaceOnUse" x1="120" x2="1164" y1="0" y2="0"><stop offset="0.8669" stop-color="#000" stop-opacity="0"/><stop offset="0.8841" stop-color="#000" stop-opacity="0.13"/><stop offset="0.9023" stop-color="#000" stop-opacity="0.13"/><stop offset="0.9195" stop-color="#000" stop-opacity="0"/></linearGradient>
<linearGradient id="w144" gradientUnits="userSpaceOnUse" x1="120" x2="1164" y1="0" y2="0"><stop offset="0.8918" stop-color="#000" stop-opacity="0"/><stop offset="0.909" stop-color="#000" stop-opacity="0.38"/><stop offset="0.9243" stop-color="#000" stop-opacity="0.38"/><stop offset="0.9416" stop-color="#000" stop-opacity="0"/></linearGradient>
<linearGradient id="w145" gradientUnits="userSpaceOnUse" x1="120" x2="1164" y1="0" y2="0"><stop offset="0.8352" stop-color="#000" stop-opacity="0"/><stop offset="0.8525" stop-color="#000" stop-opacity="0.38"/><stop offset="0.8621" stop-color="#000" stop-opacity="0.38"/><stop offset="0.8793" stop-color="#000" stop-opacity="0"/></linearGradient>
<linearGradient id="w146" gradientUnits="userSpaceOnUse" x1="120" x2="1164" y1="0" y2="0"><stop offset="0.8937" stop-color="#000" stop-opacity="0"/><stop offset="0.9109" stop-color="#000" stop-opacity="0.38"/><stop offset="0.9243" stop-color="#000" stop-opacity="0.38"/><stop offset="0.9416" stop-color="#000" stop-opacity="0"/></linearGradient>
<linearGradient id="w147" gradientUnits="userSpaceOnUse" x1="120" x2="1164" y1="0" y2="0"><stop offset="0.8621" stop-color="#000" stop-opacity="0"/><stop offset="0.8793" stop-color="#000" stop-opacity="0.45"/><stop offset="0.8937" stop-color="#000" stop-opacity="0.45"/><stop offset="0.9109" stop-color="#000" stop-opacity="0"/></linearGradient>
<linearGradient id="w148" gradientUnits="userSpaceOnUse" x1="120" x2="1164" y1="0" y2="0"><stop offset="0.8352" stop-color="#000" stop-opacity="0"/><stop offset="0.8525" stop-color="#000" stop-opacity="0.19"/><stop offset="0.8918" stop-color="#000" stop-opacity="0.19"/><stop offset="0.909" stop-color="#000" stop-opacity="0"/></linearGradient>
<linearGradient id="w149" gradientUnits="userSpaceOnUse" x1="120" x2="1164" y1="0" y2="0"><stop offset="0.8918" stop-color="#000" stop-opacity="0"/><stop offset="0.909" stop-color="#000" stop-opacity="0.38"/><stop offset="0.9243" stop-color="#000" stop-opacity="0.38"/><stop offset="0.9416" stop-color="#000" stop-opacity="0"/></linearGradient>
<linearGradient id="w150" gradientUnits="userSpaceOnUse" x1="120" x2="1164" y1="0" y2="0"><stop offset="0.8314" stop-color="#000" stop-opacity="0"/><stop offset="0.8487" stop-color="#000" stop-opacity="0.38"/><stop offset="0.8803" stop-color="#000" stop-opacity="0.38"/><stop offset="0.8975" stop-color="#000" stop-opacity="0"/></linearGradient>
<linearGradient id="w151" gradientUnits="userSpaceOnUse" x1="120" x2="1164" y1="0" y2="0"><stop offset="0.9674" stop-color="#000" stop-opacity="0"/><stop offset="0.9751" stop-color="#000" stop-opacity="0.24"/><stop offset="1.0019" stop-color="#000" stop-opacity="0.24"/><stop offset="1.0096" stop-color="#000" stop-opacity="0"/></linearGradient>
<linearGradient id="w152" gradientUnits="userSpaceOnUse" x1="120" x2="1164" y1="0" y2="0"><stop offset="0.9674" stop-color="#000" stop-opacity="0"/><stop offset="0.9751" stop-color="#000" stop-opacity="0.38"/><stop offset="1.0019" stop-color="#000" stop-opacity="0.38"/><stop offset="1.0096" stop-color="#000" stop-opacity="0"/></linearGradient>
<linearGradient id="w153" gradientUnits="userSpaceOnUse" x1="120" x2="1164" y1="0" y2="0"><stop offset="0.9674" stop-color="#000" stop-opacity="0"/><stop offset="0.9751" stop-color="#000" stop-opacity="0.24"/><stop offset="1.0019" stop-color="#000" stop-opacity="0.24"/><stop offset="1.0096" stop-color="#000" stop-opacity="0"/></linearGradient>
<linearGradient id="w154" gradientUnits="userSpaceOnUse" x1="120" x2="1164" y1="0" y2="0"><stop offset="0.9674" stop-color="#000" stop-opacity="0"/><stop offset="0.9751" stop-color="#000" stop-opacity="0.38"/><stop offset="1.0019" stop-color="#000" stop-opacity="0.38"/><stop offset="1.0096" stop-color="#000" stop-opacity="0"/></linearGradient>
<linearGradient id="w155" gradientUnits="userSpaceOnUse" x1="120" x2="1164" y1="0" y2="0"><stop offset="0.9674" stop-color="#000" stop-opacity="0"/><stop offset="0.9751" stop-color="#000" stop-opacity="0.24"/><stop offset="1.0019" stop-color="#000" stop-opacity="0.24"/><stop offset="1.0096" stop-color="#000" stop-opacity="0"/></linearGradient>
<linearGradient id="w156" gradientUnits="userSpaceOnUse" x1="120" x2="1164" y1="0" y2="0"><stop offset="0.9674" stop-color="#000" stop-opacity="0"/><stop offset="0.9751" stop-color="#000" stop-opacity="0.24"/><stop offset="1.0019" stop-color="#000" stop-opacity="0.24"/><stop offset="1.0096" stop-color="#000" stop-opacity="0"/></linearGradient>
<linearGradient id="w157" gradientUnits="userSpaceOnUse" x1="120" x2="1164" y1="0" y2="0"><stop offset="0.9674" stop-color="#000" stop-opacity="0"/><stop offset="0.9751" stop-color="#000" stop-opacity="0.24"/><stop offset="1.0019" stop-color="#000" stop-opacity="0.24"/><stop offset="1.0096" stop-color="#000" stop-opacity="0"/></linearGradient>
<linearGradient id="w158" gradientUnits="userSpaceOnUse" x1="120" x2="1164" y1="0" y2="0"><stop offset="0.9674" stop-color="#000" stop-opacity="0"/><stop offset="0.9751" stop-color="#000" stop-opacity="0.19"/><stop offset="1.0019" stop-color="#000" stop-opacity="0.19"/><stop offset="1.0096" stop-color="#000" stop-opacity="0"/></linearGradient>
<linearGradient id="w159" gradientUnits="userSpaceOnUse" x1="120" x2="1164" y1="0" y2="0"><stop offset="0.9674" stop-color="#000" stop-opacity="0"/><stop offset="0.9751" stop-color="#000" stop-opacity="0.19"/><stop offset="1.0019" stop-color="#000" stop-opacity="0.19"/><stop offset="1.0096" stop-color="#000" stop-opacity="0"/></linearGradient>
<linearGradient id="w160" gradientUnits="userSpaceOnUse" x1="120" x2="1164" y1="0" y2="0"><stop offset="0.9674" stop-color="#000" stop-opacity="0"/><stop offset="0.9751" stop-color="#000" stop-opacity="0.38"/><stop offset="1.0019" stop-color="#000" stop-opacity="0.38"/><stop offset="1.0096" stop-color="#000" stop-opacity="0"/></linearGradient>
<linearGradient id="w161" gradientUnits="userSpaceOnUse" x1="120" x2="1164" y1="0" y2="0"><stop offset="0.9674" stop-color="#000" stop-opacity="0"/><stop offset="0.9751" stop-color="#000" stop-opacity="0.24"/><stop offset="1.0019" stop-color="#000" stop-opacity="0.24"/><stop offset="1.0096" stop-color="#000" stop-opacity="0"/></linearGradient>
<linearGradient id="w162" gradientUnits="userSpaceOnUse" x1="120" x2="1164" y1="0" y2="0"><stop offset="0.9674" stop-color="#000" stop-opacity="0"/><stop offset="0.9751" stop-color="#000" stop-opacity="0.19"/><stop offset="1.0019" stop-color="#000" stop-opacity="0.19"/><stop offset="1.0096" stop-color="#000" stop-opacity="0"/></linearGradient>
<linearGradient id="w163" gradientUnits="userSpaceOnUse" x1="120" x2="1164" y1="0" y2="0"><stop offset="0.9674" stop-color="#000" stop-opacity="0"/><stop offset="0.9751" stop-color="#000" stop-opacity="0.24"/><stop offset="1.0019" stop-color="#000" stop-opacity="0.24"/><stop offset="1.0096" stop-color="#000" stop-opacity="0"/></linearGradient>
<linearGradient id="w164" gradientUnits="userSpaceOnUse" x1="120" x2="1164" y1="0" y2="0"><stop offset="0.9674" stop-color="#000" stop-opacity="0"/><stop offset="0.9751" stop-color="#000" stop-opacity="0.24"/><stop offset="1.0019" stop-color="#000" stop-opacity="0.24"/><stop offset="1.0096" stop-color="#000" stop-opacity="0"/></linearGradient>
<linearGradient id="w165" gradientUnits="userSpaceOnUse" x1="120" x2="1164" y1="0" y2="0"><stop offset="0.9674" stop-color="#000" stop-opacity="0"/><stop offset="0.9751" stop-color="#000" stop-opacity="0.24"/><stop offset="1.0019" stop-color="#000" stop-opacity="0.24"/><stop offset="1.0096" stop-color="#000" stop-opacity="0"/></linearGradient>
<linearGradient id="l0" gradientUnits="userSpaceOnUse" x1="120" x2="1164" y1="0" y2="0"><stop offset="0.0594" stop-color="#000" stop-opacity="0"/><stop offset="0.067" stop-color="#000" stop-opacity="0.03"/><stop offset="0.0862" stop-color="#000" stop-opacity="0.03"/><stop offset="0.0939" stop-color="#000" stop-opacity="0"/></linearGradient>
<linearGradient id="l1" gradientUnits="userSpaceOnUse" x1="120" x2="1164" y1="0" y2="0"><stop offset="0.0594" stop-color="#000" stop-opacity="0"/><stop offset="0.067" stop-color="#000" stop-opacity="0.03"/><stop offset="0.0862" stop-color="#000" stop-opacity="0.03"/><stop offset="0.0939" stop-color="#000" stop-opacity="0"/></linearGradient>
<linearGradient id="l2" gradientUnits="userSpaceOnUse" x1="120" x2="1164" y1="0" y2="0"><stop offset="0.0594" stop-color="#000" stop-opacity="0"/><stop offset="0.067" stop-color="#000" stop-opacity="0.05"/><stop offset="0.0862" stop-color="#000" stop-opacity="0.05"/><stop offset="0.0939" stop-color="#000" stop-opacity="0"/></linearGradient>
<linearGradient id="l3" gradientUnits="userSpaceOnUse" x1="120" x2="1164" y1="0" y2="0"><stop offset="0.0594" stop-color="#000" stop-opacity="0"/><stop offset="0.067" stop-color="#000" stop-opacity="0.04"/><stop offset="0.0862" stop-color="#000" stop-opacity="0.04"/><stop offset="0.0939" stop-color="#000" stop-opacity="0"/></linearGradient>
<linearGradient id="l4" gradientUnits="userSpaceOnUse" x1="120" x2="1164" y1="0" y2="0"><stop offset="0.0594" stop-color="#000" stop-opacity="0"/><stop offset="0.067" stop-color="#000" stop-opacity="0.05"/><stop offset="0.0862" stop-color="#000" stop-opacity="0.05"/><stop offset="0.0939" stop-color="#000" stop-opacity="0"/></linearGradient>
<linearGradient id="l5" gradientUnits="userSpaceOnUse" x1="120" x2="1164" y1="0" y2="0"><stop offset="0.0594" stop-color="#000" stop-opacity="0"/><stop offset="0.067" stop-color="#000" stop-opacity="0.05"/><stop offset="0.0862" stop-color="#000" stop-opacity="0.05"/><stop offset="0.0939" stop-color="#000" stop-opacity="0"/></linearGradient>
<linearGradient id="l6" gradientUnits="userSpaceOnUse" x1="120" x2="1164" y1="0" y2="0"><stop offset="0.0594" stop-color="#000" stop-opacity="0"/><stop offset="0.067" stop-color="#000" stop-opacity="0.13"/><stop offset="0.0862" stop-color="#000" stop-opacity="0.13"/><stop offset="0.0939" stop-color="#000" stop-opacity="0"/></linearGradient>
<linearGradient id="l7" gradientUnits="userSpaceOnUse" x1="120" x2="1164" y1="0" y2="0"><stop offset="0.0594" stop-color="#000" stop-opacity="0"/><stop offset="0.067" stop-color="#000" stop-opacity="0.03"/><stop offset="0.0862" stop-color="#000" stop-opacity="0.03"/><stop offset="0.0939" stop-color="#000" stop-opacity="0"/></linearGradient>
<linearGradient id="l8" gradientUnits="userSpaceOnUse" x1="120" x2="1164" y1="0" y2="0"><stop offset="0.0594" stop-color="#000" stop-opacity="0"/><stop offset="0.067" stop-color="#000" stop-opacity="0.03"/><stop offset="0.0862" stop-color="#000" stop-opacity="0.03"/><stop offset="0.0939" stop-color="#000" stop-opacity="0"/></linearGradient>
<linearGradient id="l9" gradientUnits="userSpaceOnUse" x1="120" x2="1164" y1="0" y2="0"><stop offset="0.0594" stop-color="#000" stop-opacity="0"/><stop offset="0.067" stop-color="#000" stop-opacity="0.03"/><stop offset="0.0862" stop-color="#000" stop-opacity="0.03"/><stop offset="0.0939" stop-color="#000" stop-opacity="0"/></linearGradient>
<linearGradient id="l10" gradientUnits="userSpaceOnUse" x1="120" x2="1164" y1="0" y2="0"><stop offset="0.0594" stop-color="#000" stop-opacity="0"/><stop offset="0.067" stop-color="#000" stop-opacity="0.11"/><stop offset="0.0862" stop-color="#000" stop-opacity="0.11"/><stop offset="0.0939" stop-color="#000" stop-opacity="0"/></linearGradient>
<linearGradient id="l11" gradientUnits="userSpaceOnUse" x1="120" x2="1164" y1="0" y2="0"><stop offset="0.0594" stop-color="#000" stop-opacity="0"/><stop offset="0.067" stop-color="#000" stop-opacity="0.05"/><stop offset="0.0862" stop-color="#000" stop-opacity="0.05"/><stop offset="0.0939" stop-color="#000" stop-opacity="0"/></linearGradient>
<linearGradient id="l12" gradientUnits="userSpaceOnUse" x1="120" x2="1164" y1="0" y2="0"><stop offset="0.0268" stop-color="#000" stop-opacity="0"/><stop offset="0.0345" stop-color="#000" stop-opacity="0.04"/><stop offset="0.0594" stop-color="#000" stop-opacity="0.04"/><stop offset="0.067" stop-color="#000" stop-opacity="0"/></linearGradient>
<linearGradient id="l13" gradientUnits="userSpaceOnUse" x1="120" x2="1164" y1="0" y2="0"><stop offset="0.0268" stop-color="#000" stop-opacity="0"/><stop offset="0.0345" stop-color="#000" stop-opacity="0.05"/><stop offset="0.0594" stop-color="#000" stop-opacity="0.05"/><stop offset="0.067" stop-color="#000" stop-opacity="0"/></linearGradient>
<linearGradient id="l14" gradientUnits="userSpaceOnUse" x1="120" x2="1164" y1="0" y2="0"><stop offset="0.0268" stop-color="#000" stop-opacity="0"/><stop offset="0.0345" stop-color="#000" stop-opacity="0.04"/><stop offset="0.0594" stop-color="#000" stop-opacity="0.04"/><stop offset="0.067" stop-color="#000" stop-opacity="0"/></linearGradient>
<linearGradient id="l15" gradientUnits="userSpaceOnUse" x1="120" x2="1164" y1="0" y2="0"><stop offset="0.0268" stop-color="#000" stop-opacity="0"/><stop offset="0.0345" stop-color="#000" stop-opacity="0.04"/><stop offset="0.0594" stop-color="#000" stop-opacity="0.04"/><stop offset="0.067" stop-color="#000" stop-opacity="0"/></linearGradient>
<linearGradient id="l16" gradientUnits="userSpaceOnUse" x1="120" x2="1164" y1="0" y2="0"><stop offset="0.0268" stop-color="#000" stop-opacity="0"/><stop offset="0.0345" stop-color="#000" stop-opacity="0.04"/><stop offset="0.0594" stop-color="#000" stop-opacity="0.04"/><stop offset="0.067" stop-color="#000" stop-opacity="0"/></linearGradient>
<linearGradient id="l17" gradientUnits="userSpaceOnUse" x1="120" x2="1164" y1="0" y2="0"><stop offset="0.0268" stop-color="#000" stop-opacity="0"/><stop offset="0.0345" stop-color="#000" stop-opacity="0.03"/><stop offset="0.0594" stop-color="#000" stop-opacity="0.03"/><stop offset="0.067" stop-color="#000" stop-opacity="0"/></linearGradient>
<linearGradient id="l18" gradientUnits="userSpaceOnUse" x1="120" x2="1164" y1="0" y2="0"><stop offset="0.0268" stop-color="#000" stop-opacity="0"/><stop offset="0.0345" stop-color="#000" stop-opacity="0.04"/><stop offset="0.0594" stop-color="#000" stop-opacity="0.04"/><stop offset="0.067" stop-color="#000" stop-opacity="0"/></linearGradient>
<linearGradient id="l19" gradientUnits="userSpaceOnUse" x1="120" x2="1164" y1="0" y2="0"><stop offset="0.0268" stop-color="#000" stop-opacity="0"/><stop offset="0.0345" stop-color="#000" stop-opacity="0.04"/><stop offset="0.0594" stop-color="#000" stop-opacity="0.04"/><stop offset="0.067" stop-color="#000" stop-opacity="0"/></linearGradient>
<linearGradient id="l20" gradientUnits="userSpaceOnUse" x1="120" x2="1164" y1="0" y2="0"><stop offset="0.0268" stop-color="#000" stop-opacity="0"/><stop offset="0.0345" stop-color="#000" stop-opacity="0.04"/><stop offset="0.0594" stop-color="#000" stop-opacity="0.04"/><stop offset="0.067" stop-color="#000" stop-opacity="0"/></linearGradient>
<linearGradient id="l21" gradientUnits="userSpaceOnUse" x1="120" x2="1164" y1="0" y2="0"><stop offset="0.0268" stop-color="#000" stop-opacity="0"/><stop offset="0.0345" stop-color="#000" stop-opacity="0.04"/><stop offset="0.0594" stop-color="#000" stop-opacity="0.04"/><stop offset="0.067" stop-color="#000" stop-opacity="0"/></linearGradient>
<linearGradient id="l22" gradientUnits="userSpaceOnUse" x1="120" x2="1164" y1="0" y2="0"><stop offset="0.1293" stop-color="#000" stop-opacity="0"/><stop offset="0.137" stop-color="#000" stop-opacity="0.11"/><stop offset="0.1849" stop-color="#000" stop-opacity="0.11"/><stop offset="0.1925" stop-color="#000" stop-opacity="0"/></linearGradient>
<linearGradient id="l23" gradientUnits="userSpaceOnUse" x1="120" x2="1164" y1="0" y2="0"><stop offset="0.1293" stop-color="#000" stop-opacity="0"/><stop offset="0.137" stop-color="#000" stop-opacity="0.11"/><stop offset="0.1849" stop-color="#000" stop-opacity="0.11"/><stop offset="0.1925" stop-color="#000" stop-opacity="0"/></linearGradient>
<linearGradient id="l24" gradientUnits="userSpaceOnUse" x1="120" x2="1164" y1="0" y2="0"><stop offset="0.1293" stop-color="#000" stop-opacity="0"/><stop offset="0.137" stop-color="#000" stop-opacity="0.42"/><stop offset="0.1849" stop-color="#000" stop-opacity="0.42"/><stop offset="0.1925" stop-color="#000" stop-opacity="0"/></linearGradient>
<linearGradient id="l25" gradientUnits="userSpaceOnUse" x1="120" x2="1164" y1="0" y2="0"><stop offset="0.1293" stop-color="#000" stop-opacity="0"/><stop offset="0.137" stop-color="#000" stop-opacity="0.03"/><stop offset="0.1849" stop-color="#000" stop-opacity="0.03"/><stop offset="0.1925" stop-color="#000" stop-opacity="0"/></linearGradient>
<linearGradient id="l26" gradientUnits="userSpaceOnUse" x1="120" x2="1164" y1="0" y2="0"><stop offset="0.1293" stop-color="#000" stop-opacity="0"/><stop offset="0.137" stop-color="#000" stop-opacity="0.03"/><stop offset="0.1849" stop-color="#000" stop-opacity="0.03"/><stop offset="0.1925" stop-color="#000" stop-opacity="0"/></linearGradient>
<linearGradient id="l27" gradientUnits="userSpaceOnUse" x1="120" x2="1164" y1="0" y2="0"><stop offset="0.1293" stop-color="#000" stop-opacity="0"/><stop offset="0.137" stop-color="#000" stop-opacity="0.11"/><stop offset="0.1849" stop-color="#000" stop-opacity="0.11"/><stop offset="0.1925" stop-color="#000" stop-opacity="0"/></linearGradient>
<linearGradient id="l28" gradientUnits="userSpaceOnUse" x1="120" x2="1164" y1="0" y2="0"><stop offset="0.1293" stop-color="#000" stop-opacity="0"/><stop offset="0.137" stop-color="#000" stop-opacity="0.02"/><stop offset="0.1849" stop-color="#000" stop-opacity="0.02"/><stop offset="0.1925" stop-color="#000" stop-opacity="0"/></linearGradient>
<linearGradient id="l29" gradientUnits="userSpaceOnUse" x1="120" x2="1164" y1="0" y2="0"><stop offset="0.1293" stop-color="#000" stop-opacity="0"/><stop offset="0.137" stop-color="#000" stop-opacity="0.13"/><stop offset="0.1849" stop-color="#000" stop-opacity="0.13"/><stop offset="0.1925" stop-color="#000" stop-opacity="0"/></linearGradient>
<linearGradient id="l30" gradientUnits="userSpaceOnUse" x1="120" x2="1164" y1="0" y2="0"><stop offset="0.1293" stop-color="#000" stop-opacity="0"/><stop offset="0.137" stop-color="#000" stop-opacity="0.05"/><stop offset="0.1849" stop-color="#000" stop-opacity="0.05"/><stop offset="0.1925" stop-color="#000" stop-opacity="0"/></linearGradient>
<linearGradient id="l31" gradientUnits="userSpaceOnUse" x1="120" x2="1164" y1="0" y2="0"><stop offset="0.1293" stop-color="#000" stop-opacity="0"/><stop offset="0.137" stop-color="#000" stop-opacity="0.03"/><stop offset="0.1849" stop-color="#000" stop-opacity="0.03"/><stop offset="0.1925" stop-color="#000" stop-opacity="0"/></linearGradient>
<linearGradient id="l32" gradientUnits="userSpaceOnUse" x1="120" x2="1164" y1="0" y2="0"><stop offset="0.1293" stop-color="#000" stop-opacity="0"/><stop offset="0.137" stop-color="#000" stop-opacity="0.11"/><stop offset="0.1849" stop-color="#000" stop-opacity="0.11"/><stop offset="0.1925" stop-color="#000" stop-opacity="0"/></linearGradient>
<linearGradient id="l33" gradientUnits="userSpaceOnUse" x1="120" x2="1164" y1="0" y2="0"><stop offset="0.228" stop-color="#000" stop-opacity="0"/><stop offset="0.2356" stop-color="#000" stop-opacity="0.05"/><stop offset="0.25" stop-color="#000" stop-opacity="0.05"/><stop offset="0.2577" stop-color="#000" stop-opacity="0"/></linearGradient>
<linearGradient id="l34" gradientUnits="userSpaceOnUse" x1="120" x2="1164" y1="0" y2="0"><stop offset="0.228" stop-color="#000" stop-opacity="0"/><stop offset="0.2356" stop-color="#000" stop-opacity="0.05"/><stop offset="0.25" stop-color="#000" stop-opacity="0.05"/><stop offset="0.2577" stop-color="#000" stop-opacity="0"/></linearGradient>
<linearGradient id="l35" gradientUnits="userSpaceOnUse" x1="120" x2="1164" y1="0" y2="0"><stop offset="0.228" stop-color="#000" stop-opacity="0"/><stop offset="0.2356" stop-color="#000" stop-opacity="0.05"/><stop offset="0.25" stop-color="#000" stop-opacity="0.05"/><stop offset="0.2577" stop-color="#000" stop-opacity="0"/></linearGradient>
<linearGradient id="l36" gradientUnits="userSpaceOnUse" x1="120" x2="1164" y1="0" y2="0"><stop offset="0.228" stop-color="#000" stop-opacity="0"/><stop offset="0.2356" stop-color="#000" stop-opacity="0.05"/><stop offset="0.25" stop-color="#000" stop-opacity="0.05"/><stop offset="0.2577" stop-color="#000" stop-opacity="0"/></linearGradient>
<linearGradient id="l37" gradientUnits="userSpaceOnUse" x1="120" x2="1164" y1="0" y2="0"><stop offset="0.228" stop-color="#000" stop-opacity="0"/><stop offset="0.2356" stop-color="#000" stop-opacity="0.05"/><stop offset="0.25" stop-color="#000" stop-opacity="0.05"/><stop offset="0.2577" stop-color="#000" stop-opacity="0"/></linearGradient>
<linearGradient id="l38" gradientUnits="userSpaceOnUse" x1="120" x2="1164" y1="0" y2="0"><stop offset="0.228" stop-color="#000" stop-opacity="0"/><stop offset="0.2356" stop-color="#000" stop-opacity="0.05"/><stop offset="0.25" stop-color="#000" stop-opacity="0.05"/><stop offset="0.2577" stop-color="#000" stop-opacity="0"/></linearGradient>
<linearGradient id="l39" gradientUnits="userSpaceOnUse" x1="120" x2="1164" y1="0" y2="0"><stop offset="0.228" stop-color="#000" stop-opacity="0"/><stop offset="0.2356" stop-color="#000" stop-opacity="0.05"/><stop offset="0.25" stop-color="#000" stop-opacity="0.05"/><stop offset="0.2577" stop-color="#000" stop-opacity="0"/></linearGradient>
<linearGradient id="l40" gradientUnits="userSpaceOnUse" x1="120" x2="1164" y1="0" y2="0"><stop offset="0.228" stop-color="#000" stop-opacity="0"/><stop offset="0.2356" stop-color="#000" stop-opacity="0.03"/><stop offset="0.25" stop-color="#000" stop-opacity="0.03"/><stop offset="0.2577" stop-color="#000" stop-opacity="0"/></linearGradient>
<linearGradient id="l41" gradientUnits="userSpaceOnUse" x1="120" x2="1164" y1="0" y2="0"><stop offset="0.228" stop-color="#000" stop-opacity="0"/><stop offset="0.2356" stop-color="#000" stop-opacity="0.03"/><stop offset="0.25" stop-color="#000" stop-opacity="0.03"/><stop offset="0.2577" stop-color="#000" stop-opacity="0"/></linearGradient>
<linearGradient id="l42" gradientUnits="userSpaceOnUse" x1="120" x2="1164" y1="0" y2="0"><stop offset="0.228" stop-color="#000" stop-opacity="0"/><stop offset="0.2356" stop-color="#000" stop-opacity="0.03"/><stop offset="0.25" stop-color="#000" stop-opacity="0.03"/><stop offset="0.2577" stop-color="#000" stop-opacity="0"/></linearGradient>
<linearGradient id="l43" gradientUnits="userSpaceOnUse" x1="120" x2="1164" y1="0" y2="0"><stop offset="0.228" stop-color="#000" stop-opacity="0"/><stop offset="0.2356" stop-color="#000" stop-opacity="0.13"/><stop offset="0.25" stop-color="#000" stop-opacity="0.13"/><stop offset="0.2577" stop-color="#000" stop-opacity="0"/></linearGradient>
<linearGradient id="l44" gradientUnits="userSpaceOnUse" x1="120" x2="1164" y1="0" y2="0"><stop offset="0.228" stop-color="#000" stop-opacity="0"/><stop offset="0.2356" stop-color="#000" stop-opacity="0.03"/><stop offset="0.25" stop-color="#000" stop-opacity="0.03"/><stop offset="0.2577" stop-color="#000" stop-opacity="0"/></linearGradient>
<linearGradient id="l45" gradientUnits="userSpaceOnUse" x1="120" x2="1164" y1="0" y2="0"><stop offset="0.227" stop-color="#000" stop-opacity="0"/><stop offset="0.2347" stop-color="#000" stop-opacity="0.13"/><stop offset="0.2548" stop-color="#000" stop-opacity="0.13"/><stop offset="0.2625" stop-color="#000" stop-opacity="0"/></linearGradient>
<linearGradient id="l46" gradientUnits="userSpaceOnUse" x1="120" x2="1164" y1="0" y2="0"><stop offset="0.2874" stop-color="#000" stop-opacity="0"/><stop offset="0.295" stop-color="#000" stop-opacity="0.06"/><stop offset="0.317" stop-color="#000" stop-opacity="0.06"/><stop offset="0.3247" stop-color="#000" stop-opacity="0"/></linearGradient>
<linearGradient id="l47" gradientUnits="userSpaceOnUse" x1="120" x2="1164" y1="0" y2="0"><stop offset="0.2921" stop-color="#000" stop-opacity="0"/><stop offset="0.2998" stop-color="#000" stop-opacity="0.05"/><stop offset="0.3151" stop-color="#000" stop-opacity="0.05"/><stop offset="0.3228" stop-color="#000" stop-opacity="0"/></linearGradient>
<linearGradient id="l48" gradientUnits="userSpaceOnUse" x1="120" x2="1164" y1="0" y2="0"><stop offset="0.2921" stop-color="#000" stop-opacity="0"/><stop offset="0.2998" stop-color="#000" stop-opacity="0.05"/><stop offset="0.3151" stop-color="#000" stop-opacity="0.05"/><stop offset="0.3228" stop-color="#000" stop-opacity="0"/></linearGradient>
<linearGradient id="l49" gradientUnits="userSpaceOnUse" x1="120" x2="1164" y1="0" y2="0"><stop offset="0.2921" stop-color="#000" stop-opacity="0"/><stop offset="0.2998" stop-color="#000" stop-opacity="0.05"/><stop offset="0.3151" stop-color="#000" stop-opacity="0.05"/><stop offset="0.3228" stop-color="#000" stop-opacity="0"/></linearGradient>
<linearGradient id="l50" gradientUnits="userSpaceOnUse" x1="120" x2="1164" y1="0" y2="0"><stop offset="0.2921" stop-color="#000" stop-opacity="0"/><stop offset="0.2998" stop-color="#000" stop-opacity="0.04"/><stop offset="0.3151" stop-color="#000" stop-opacity="0.04"/><stop offset="0.3228" stop-color="#000" stop-opacity="0"/></linearGradient>
<linearGradient id="l51" gradientUnits="userSpaceOnUse" x1="120" x2="1164" y1="0" y2="0"><stop offset="0.2921" stop-color="#000" stop-opacity="0"/><stop offset="0.2998" stop-color="#000" stop-opacity="0.03"/><stop offset="0.3151" stop-color="#000" stop-opacity="0.03"/><stop offset="0.3228" stop-color="#000" stop-opacity="0"/></linearGradient>
<linearGradient id="l52" gradientUnits="userSpaceOnUse" x1="120" x2="1164" y1="0" y2="0"><stop offset="0.2921" stop-color="#000" stop-opacity="0"/><stop offset="0.2998" stop-color="#000" stop-opacity="0.05"/><stop offset="0.3151" stop-color="#000" stop-opacity="0.05"/><stop offset="0.3228" stop-color="#000" stop-opacity="0"/></linearGradient>
<linearGradient id="l53" gradientUnits="userSpaceOnUse" x1="120" x2="1164" y1="0" y2="0"><stop offset="0.2921" stop-color="#000" stop-opacity="0"/><stop offset="0.2998" stop-color="#000" stop-opacity="0.05"/><stop offset="0.3151" stop-color="#000" stop-opacity="0.05"/><stop offset="0.3228" stop-color="#000" stop-opacity="0"/></linearGradient>
<linearGradient id="l54" gradientUnits="userSpaceOnUse" x1="120" x2="1164" y1="0" y2="0"><stop offset="0.2921" stop-color="#000" stop-opacity="0"/><stop offset="0.2998" stop-color="#000" stop-opacity="0.03"/><stop offset="0.3151" stop-color="#000" stop-opacity="0.03"/><stop offset="0.3228" stop-color="#000" stop-opacity="0"/></linearGradient>
<linearGradient id="l55" gradientUnits="userSpaceOnUse" x1="120" x2="1164" y1="0" y2="0"><stop offset="0.2921" stop-color="#000" stop-opacity="0"/><stop offset="0.2998" stop-color="#000" stop-opacity="0.03"/><stop offset="0.3151" stop-color="#000" stop-opacity="0.03"/><stop offset="0.3228" stop-color="#000" stop-opacity="0"/></linearGradient>
<linearGradient id="l56" gradientUnits="userSpaceOnUse" x1="120" x2="1164" y1="0" y2="0"><stop offset="0.2921" stop-color="#000" stop-opacity="0"/><stop offset="0.2998" stop-color="#000" stop-opacity="0.05"/><stop offset="0.3151" stop-color="#000" stop-opacity="0.05"/><stop offset="0.3228" stop-color="#000" stop-opacity="0"/></linearGradient>
<linearGradient id="l57" gradientUnits="userSpaceOnUse" x1="120" x2="1164" y1="0" y2="0"><stop offset="0.2921" stop-color="#000" stop-opacity="0"/><stop offset="0.2998" stop-color="#000" stop-opacity="0.05"/><stop offset="0.3151" stop-color="#000" stop-opacity="0.05"/><stop offset="0.3228" stop-color="#000" stop-opacity="0"/></linearGradient>
<linearGradient id="l58" gradientUnits="userSpaceOnUse" x1="120" x2="1164" y1="0" y2="0"><stop offset="0.2921" stop-color="#000" stop-opacity="0"/><stop offset="0.2998" stop-color="#000" stop-opacity="0.05"/><stop offset="0.3151" stop-color="#000" stop-opacity="0.05"/><stop offset="0.3228" stop-color="#000" stop-opacity="0"/></linearGradient>
<linearGradient id="l59" gradientUnits="userSpaceOnUse" x1="120" x2="1164" y1="0" y2="0"><stop offset="0.3544" stop-color="#000" stop-opacity="0"/><stop offset="0.3621" stop-color="#000" stop-opacity="0.05"/><stop offset="0.3793" stop-color="#000" stop-opacity="0.05"/><stop offset="0.387" stop-color="#000" stop-opacity="0"/></linearGradient>
<linearGradient id="l60" gradientUnits="userSpaceOnUse" x1="120" x2="1164" y1="0" y2="0"><stop offset="0.3544" stop-color="#000" stop-opacity="0"/><stop offset="0.3621" stop-color="#000" stop-opacity="0.05"/><stop offset="0.3793" stop-color="#000" stop-opacity="0.05"/><stop offset="0.387" stop-color="#000" stop-opacity="0"/></linearGradient>
<linearGradient id="l61" gradientUnits="userSpaceOnUse" x1="120" x2="1164" y1="0" y2="0"><stop offset="0.3544" stop-color="#000" stop-opacity="0"/><stop offset="0.3621" stop-color="#000" stop-opacity="0.05"/><stop offset="0.3793" stop-color="#000" stop-opacity="0.05"/><stop offset="0.387" stop-color="#000" stop-opacity="0"/></linearGradient>
<linearGradient id="l62" gradientUnits="userSpaceOnUse" x1="120" x2="1164" y1="0" y2="0"><stop offset="0.3544" stop-color="#000" stop-opacity="0"/><stop offset="0.3621" stop-color="#000" stop-opacity="0.05"/><stop offset="0.3793" stop-color="#000" stop-opacity="0.05"/><stop offset="0.387" stop-color="#000" stop-opacity="0"/></linearGradient>
<linearGradient id="l63" gradientUnits="userSpaceOnUse" x1="120" x2="1164" y1="0" y2="0"><stop offset="0.3544" stop-color="#000" stop-opacity="0"/><stop offset="0.3621" stop-color="#000" stop-opacity="0.05"/><stop offset="0.3793" stop-color="#000" stop-opacity="0.05"/><stop offset="0.387" stop-color="#000" stop-opacity="0"/></linearGradient>
<linearGradient id="l64" gradientUnits="userSpaceOnUse" x1="120" x2="1164" y1="0" y2="0"><stop offset="0.3544" stop-color="#000" stop-opacity="0"/><stop offset="0.3621" stop-color="#000" stop-opacity="0.05"/><stop offset="0.3793" stop-color="#000" stop-opacity="0.05"/><stop offset="0.387" stop-color="#000" stop-opacity="0"/></linearGradient>
<linearGradient id="l65" gradientUnits="userSpaceOnUse" x1="120" x2="1164" y1="0" y2="0"><stop offset="0.3544" stop-color="#000" stop-opacity="0"/><stop offset="0.3621" stop-color="#000" stop-opacity="0.03"/><stop offset="0.3793" stop-color="#000" stop-opacity="0.03"/><stop offset="0.387" stop-color="#000" stop-opacity="0"/></linearGradient>
<linearGradient id="l66" gradientUnits="userSpaceOnUse" x1="120" x2="1164" y1="0" y2="0"><stop offset="0.3544" stop-color="#000" stop-opacity="0"/><stop offset="0.3621" stop-color="#000" stop-opacity="0.05"/><stop offset="0.3793" stop-color="#000" stop-opacity="0.05"/><stop offset="0.387" stop-color="#000" stop-opacity="0"/></linearGradient>
<linearGradient id="l67" gradientUnits="userSpaceOnUse" x1="120" x2="1164" y1="0" y2="0"><stop offset="0.3544" stop-color="#000" stop-opacity="0"/><stop offset="0.3621" stop-color="#000" stop-opacity="0.05"/><stop offset="0.3793" stop-color="#000" stop-opacity="0.05"/><stop offset="0.387" stop-color="#000" stop-opacity="0"/></linearGradient>
<linearGradient id="l68" gradientUnits="userSpaceOnUse" x1="120" x2="1164" y1="0" y2="0"><stop offset="0.3544" stop-color="#000" stop-opacity="0"/><stop offset="0.3621" stop-color="#000" stop-opacity="0.03"/><stop offset="0.3793" stop-color="#000" stop-opacity="0.03"/><stop offset="0.387" stop-color="#000" stop-opacity="0"/></linearGradient>
<linearGradient id="l69" gradientUnits="userSpaceOnUse" x1="120" x2="1164" y1="0" y2="0"><stop offset="0.3544" stop-color="#000" stop-opacity="0"/><stop offset="0.3621" stop-color="#000" stop-opacity="0.11"/><stop offset="0.3793" stop-color="#000" stop-opacity="0.11"/><stop offset="0.387" stop-color="#000" stop-opacity="0"/></linearGradient>
<linearGradient id="l70" gradientUnits="userSpaceOnUse" x1="120" x2="1164" y1="0" y2="0"><stop offset="0.3467" stop-color="#000" stop-opacity="0"/><stop offset="0.3544" stop-color="#000" stop-opacity="0.11"/><stop offset="0.387" stop-color="#000" stop-opacity="0.11"/><stop offset="0.3946" stop-color="#000" stop-opacity="0"/></linearGradient>
<linearGradient id="l71" gradientUnits="userSpaceOnUse" x1="120" x2="1164" y1="0" y2="0"><stop offset="0.3496" stop-color="#000" stop-opacity="0"/><stop offset="0.3573" stop-color="#000" stop-opacity="0.13"/><stop offset="0.3841" stop-color="#000" stop-opacity="0.13"/><stop offset="0.3918" stop-color="#000" stop-opacity="0"/></linearGradient>
<linearGradient id="l72" gradientUnits="userSpaceOnUse" x1="120" x2="1164" y1="0" y2="0"><stop offset="0.4195" stop-color="#000" stop-opacity="0"/><stop offset="0.4272" stop-color="#000" stop-opacity="0.04"/><stop offset="0.5086" stop-color="#000" stop-opacity="0.04"/><stop offset="0.5163" stop-color="#000" stop-opacity="0"/></linearGradient>
<linearGradient id="l73" gradientUnits="userSpaceOnUse" x1="120" x2="1164" y1="0" y2="0"><stop offset="0.4195" stop-color="#000" stop-opacity="0"/><stop offset="0.4272" stop-color="#000" stop-opacity="0.03"/><stop offset="0.5086" stop-color="#000" stop-opacity="0.03"/><stop offset="0.5163" stop-color="#000" stop-opacity="0"/></linearGradient>
<linearGradient id="l74" gradientUnits="userSpaceOnUse" x1="120" x2="1164" y1="0" y2="0"><stop offset="0.4195" stop-color="#000" stop-opacity="0"/><stop offset="0.4272" stop-color="#000" stop-opacity="0.03"/><stop offset="0.5086" stop-color="#000" stop-opacity="0.03"/><stop offset="0.5163" stop-color="#000" stop-opacity="0"/></linearGradient>
<linearGradient id="l75" gradientUnits="userSpaceOnUse" x1="120" x2="1164" y1="0" y2="0"><stop offset="0.4195" stop-color="#000" stop-opacity="0"/><stop offset="0.4272" stop-color="#000" stop-opacity="0.04"/><stop offset="0.5086" stop-color="#000" stop-opacity="0.04"/><stop offset="0.5163" stop-color="#000" stop-opacity="0"/></linearGradient>
<linearGradient id="l76" gradientUnits="userSpaceOnUse" x1="120" x2="1164" y1="0" y2="0"><stop offset="0.4195" stop-color="#000" stop-opacity="0"/><stop offset="0.4272" stop-color="#000" stop-opacity="0.02"/><stop offset="0.5086" stop-color="#000" stop-opacity="0.02"/><stop offset="0.5163" stop-color="#000" stop-opacity="0"/></linearGradient>
<linearGradient id="l77" gradientUnits="userSpaceOnUse" x1="120" x2="1164" y1="0" y2="0"><stop offset="0.4195" stop-color="#000" stop-opacity="0"/><stop offset="0.4272" stop-color="#000" stop-opacity="0.03"/><stop offset="0.5086" stop-color="#000" stop-opacity="0.03"/><stop offset="0.5163" stop-color="#000" stop-opacity="0"/></linearGradient>
<linearGradient id="l78" gradientUnits="userSpaceOnUse" x1="120" x2="1164" y1="0" y2="0"><stop offset="0.4195" stop-color="#000" stop-opacity="0"/><stop offset="0.4272" stop-color="#000" stop-opacity="0.04"/><stop offset="0.5086" stop-color="#000" stop-opacity="0.04"/><stop offset="0.5163" stop-color="#000" stop-opacity="0"/></linearGradient>
<linearGradient id="l79" gradientUnits="userSpaceOnUse" x1="120" x2="1164" y1="0" y2="0"><stop offset="0.4195" stop-color="#000" stop-opacity="0"/><stop offset="0.4272" stop-color="#000" stop-opacity="0.02"/><stop offset="0.5086" stop-color="#000" stop-opacity="0.02"/><stop offset="0.5163" stop-color="#000" stop-opacity="0"/></linearGradient>
<linearGradient id="l80" gradientUnits="userSpaceOnUse" x1="120" x2="1164" y1="0" y2="0"><stop offset="0.4195" stop-color="#000" stop-opacity="0"/><stop offset="0.4272" stop-color="#000" stop-opacity="0.02"/><stop offset="0.5086" stop-color="#000" stop-opacity="0.02"/><stop offset="0.5163" stop-color="#000" stop-opacity="0"/></linearGradient>
<linearGradient id="l81" gradientUnits="userSpaceOnUse" x1="120" x2="1164" y1="0" y2="0"><stop offset="0.4454" stop-color="#000" stop-opacity="0"/><stop offset="0.4531" stop-color="#000" stop-opacity="0.11"/><stop offset="0.5086" stop-color="#000" stop-opacity="0.11"/><stop offset="0.5163" stop-color="#000" stop-opacity="0"/></linearGradient>
<linearGradient id="l82" gradientUnits="userSpaceOnUse" x1="120" x2="1164" y1="0" y2="0"><stop offset="0.4186" stop-color="#000" stop-opacity="0"/><stop offset="0.4262" stop-color="#000" stop-opacity="0.11"/><stop offset="0.4473" stop-color="#000" stop-opacity="0.11"/><stop offset="0.455" stop-color="#000" stop-opacity="0"/></linearGradient>
<linearGradient id="l83" gradientUnits="userSpaceOnUse" x1="120" x2="1164" y1="0" y2="0"><stop offset="0.4473" stop-color="#000" stop-opacity="0"/><stop offset="0.455" stop-color="#000" stop-opacity="0.03"/><stop offset="0.5086" stop-color="#000" stop-opacity="0.03"/><stop offset="0.5163" stop-color="#000" stop-opacity="0"/></linearGradient>
<linearGradient id="l84" gradientUnits="userSpaceOnUse" x1="120" x2="1164" y1="0" y2="0"><stop offset="0.4205" stop-color="#000" stop-opacity="0"/><stop offset="0.4282" stop-color="#000" stop-opacity="0.03"/><stop offset="0.4473" stop-color="#000" stop-opacity="0.03"/><stop offset="0.455" stop-color="#000" stop-opacity="0"/></linearGradient>
<linearGradient id="l85" gradientUnits="userSpaceOnUse" x1="120" x2="1164" y1="0" y2="0"><stop offset="0.4473" stop-color="#000" stop-opacity="0"/><stop offset="0.455" stop-color="#000" stop-opacity="0.13"/><stop offset="0.5096" stop-color="#000" stop-opacity="0.13"/><stop offset="0.5172" stop-color="#000" stop-opacity="0"/></linearGradient>
<linearGradient id="l86" gradientUnits="userSpaceOnUse" x1="120" x2="1164" y1="0" y2="0"><stop offset="0.4205" stop-color="#000" stop-opacity="0"/><stop offset="0.4282" stop-color="#000" stop-opacity="0.03"/><stop offset="0.4454" stop-color="#000" stop-opacity="0.03"/><stop offset="0.4531" stop-color="#000" stop-opacity="0"/></linearGradient>
<linearGradient id="l87" gradientUnits="userSpaceOnUse" x1="120" x2="1164" y1="0" y2="0"><stop offset="0.4454" stop-color="#000" stop-opacity="0"/><stop offset="0.4531" stop-color="#000" stop-opacity="0.42"/><stop offset="0.4808" stop-color="#000" stop-opacity="0.13"/><stop offset="0.5077" stop-color="#000" stop-opacity="0.05"/><stop offset="0.5153" stop-color="#000" stop-opacity="0"/></linearGradient>
<linearGradient id="l88" gradientUnits="userSpaceOnUse" x1="120" x2="1164" y1="0" y2="0"><stop offset="0.4454" stop-color="#000" stop-opacity="0"/><stop offset="0.4531" stop-color="#000" stop-opacity="0.05"/><stop offset="0.5086" stop-color="#000" stop-opacity="0.05"/><stop offset="0.5163" stop-color="#000" stop-opacity="0"/></linearGradient>
<linearGradient id="l89" gradientUnits="userSpaceOnUse" x1="120" x2="1164" y1="0" y2="0"><stop offset="0.5479" stop-color="#000" stop-opacity="0"/><stop offset="0.5556" stop-color="#000" stop-opacity="0.05"/><stop offset="0.5728" stop-color="#000" stop-opacity="0.05"/><stop offset="0.5805" stop-color="#000" stop-opacity="0"/></linearGradient>
<linearGradient id="l90" gradientUnits="userSpaceOnUse" x1="120" x2="1164" y1="0" y2="0"><stop offset="0.5479" stop-color="#000" stop-opacity="0"/><stop offset="0.5556" stop-color="#000" stop-opacity="0.05"/><stop offset="0.5728" stop-color="#000" stop-opacity="0.05"/><stop offset="0.5805" stop-color="#000" stop-opacity="0"/></linearGradient>
<linearGradient id="l91" gradientUnits="userSpaceOnUse" x1="120" x2="1164" y1="0" y2="0"><stop offset="0.5479" stop-color="#000" stop-opacity="0"/><stop offset="0.5556" stop-color="#000" stop-opacity="0.05"/><stop offset="0.5728" stop-color="#000" stop-opacity="0.05"/><stop offset="0.5805" stop-color="#000" stop-opacity="0"/></linearGradient>
<linearGradient id="l92" gradientUnits="userSpaceOnUse" x1="120" x2="1164" y1="0" y2="0"><stop offset="0.5479" stop-color="#000" stop-opacity="0"/><stop offset="0.5556" stop-color="#000" stop-opacity="0.05"/><stop offset="0.5728" stop-color="#000" stop-opacity="0.05"/><stop offset="0.5805" stop-color="#000" stop-opacity="0"/></linearGradient>
<linearGradient id="l93" gradientUnits="userSpaceOnUse" x1="120" x2="1164" y1="0" y2="0"><stop offset="0.5479" stop-color="#000" stop-opacity="0"/><stop offset="0.5556" stop-color="#000" stop-opacity="0.05"/><stop offset="0.5728" stop-color="#000" stop-opacity="0.05"/><stop offset="0.5805" stop-color="#000" stop-opacity="0"/></linearGradient>
<linearGradient id="l94" gradientUnits="userSpaceOnUse" x1="120" x2="1164" y1="0" y2="0"><stop offset="0.5479" stop-color="#000" stop-opacity="0"/><stop offset="0.5556" stop-color="#000" stop-opacity="0.05"/><stop offset="0.5728" stop-color="#000" stop-opacity="0.05"/><stop offset="0.5805" stop-color="#000" stop-opacity="0"/></linearGradient>
<linearGradient id="l95" gradientUnits="userSpaceOnUse" x1="120" x2="1164" y1="0" y2="0"><stop offset="0.5479" stop-color="#000" stop-opacity="0"/><stop offset="0.5556" stop-color="#000" stop-opacity="0.05"/><stop offset="0.5728" stop-color="#000" stop-opacity="0.05"/><stop offset="0.5805" stop-color="#000" stop-opacity="0"/></linearGradient>
<linearGradient id="l96" gradientUnits="userSpaceOnUse" x1="120" x2="1164" y1="0" y2="0"><stop offset="0.5479" stop-color="#000" stop-opacity="0"/><stop offset="0.5556" stop-color="#000" stop-opacity="0.03"/><stop offset="0.5728" stop-color="#000" stop-opacity="0.03"/><stop offset="0.5805" stop-color="#000" stop-opacity="0"/></linearGradient>
<linearGradient id="l97" gradientUnits="userSpaceOnUse" x1="120" x2="1164" y1="0" y2="0"><stop offset="0.5479" stop-color="#000" stop-opacity="0"/><stop offset="0.5556" stop-color="#000" stop-opacity="0.11"/><stop offset="0.5728" stop-color="#000" stop-opacity="0.11"/><stop offset="0.5805" stop-color="#000" stop-opacity="0"/></linearGradient>
<linearGradient id="l98" gradientUnits="userSpaceOnUse" x1="120" x2="1164" y1="0" y2="0"><stop offset="0.5479" stop-color="#000" stop-opacity="0"/><stop offset="0.5556" stop-color="#000" stop-opacity="0.03"/><stop offset="0.5728" stop-color="#000" stop-opacity="0.03"/><stop offset="0.5805" stop-color="#000" stop-opacity="0"/></linearGradient>
<linearGradient id="l99" gradientUnits="userSpaceOnUse" x1="120" x2="1164" y1="0" y2="0"><stop offset="0.5479" stop-color="#000" stop-opacity="0"/><stop offset="0.5556" stop-color="#000" stop-opacity="0.05"/><stop offset="0.5728" stop-color="#000" stop-opacity="0.05"/><stop offset="0.5805" stop-color="#000" stop-opacity="0"/></linearGradient>
<linearGradient id="l100" gradientUnits="userSpaceOnUse" x1="120" x2="1164" y1="0" y2="0"><stop offset="0.6791" stop-color="#000" stop-opacity="0"/><stop offset="0.6868" stop-color="#000" stop-opacity="0.04"/><stop offset="0.704" stop-color="#000" stop-opacity="0.04"/><stop offset="0.7117" stop-color="#000" stop-opacity="0"/></linearGradient>
<linearGradient id="l101" gradientUnits="userSpaceOnUse" x1="120" x2="1164" y1="0" y2="0"><stop offset="0.6791" stop-color="#000" stop-opacity="0"/><stop offset="0.6868" stop-color="#000" stop-opacity="0.04"/><stop offset="0.704" stop-color="#000" stop-opacity="0.04"/><stop offset="0.7117" stop-color="#000" stop-opacity="0"/></linearGradient>
<linearGradient id="l102" gradientUnits="userSpaceOnUse" x1="120" x2="1164" y1="0" y2="0"><stop offset="0.6791" stop-color="#000" stop-opacity="0"/><stop offset="0.6868" stop-color="#000" stop-opacity="0.04"/><stop offset="0.704" stop-color="#000" stop-opacity="0.04"/><stop offset="0.7117" stop-color="#000" stop-opacity="0"/></linearGradient>
<linearGradient id="l103" gradientUnits="userSpaceOnUse" x1="120" x2="1164" y1="0" y2="0"><stop offset="0.6791" stop-color="#000" stop-opacity="0"/><stop offset="0.6868" stop-color="#000" stop-opacity="0.04"/><stop offset="0.704" stop-color="#000" stop-opacity="0.04"/><stop offset="0.7117" stop-color="#000" stop-opacity="0"/></linearGradient>
<linearGradient id="l104" gradientUnits="userSpaceOnUse" x1="120" x2="1164" y1="0" y2="0"><stop offset="0.6791" stop-color="#000" stop-opacity="0"/><stop offset="0.6868" stop-color="#000" stop-opacity="0.03"/><stop offset="0.704" stop-color="#000" stop-opacity="0.03"/><stop offset="0.7117" stop-color="#000" stop-opacity="0"/></linearGradient>
<linearGradient id="l105" gradientUnits="userSpaceOnUse" x1="120" x2="1164" y1="0" y2="0"><stop offset="0.6791" stop-color="#000" stop-opacity="0"/><stop offset="0.6868" stop-color="#000" stop-opacity="0.04"/><stop offset="0.704" stop-color="#000" stop-opacity="0.04"/><stop offset="0.7117" stop-color="#000" stop-opacity="0"/></linearGradient>
<linearGradient id="l106" gradientUnits="userSpaceOnUse" x1="120" x2="1164" y1="0" y2="0"><stop offset="0.6791" stop-color="#000" stop-opacity="0"/><stop offset="0.6868" stop-color="#000" stop-opacity="0.04"/><stop offset="0.704" stop-color="#000" stop-opacity="0.04"/><stop offset="0.7117" stop-color="#000" stop-opacity="0"/></linearGradient>
<linearGradient id="l107" gradientUnits="userSpaceOnUse" x1="120" x2="1164" y1="0" y2="0"><stop offset="0.6791" stop-color="#000" stop-opacity="0"/><stop offset="0.6868" stop-color="#000" stop-opacity="0.03"/><stop offset="0.704" stop-color="#000" stop-opacity="0.03"/><stop offset="0.7117" stop-color="#000" stop-opacity="0"/></linearGradient>
<linearGradient id="l108" gradientUnits="userSpaceOnUse" x1="120" x2="1164" y1="0" y2="0"><stop offset="0.6791" stop-color="#000" stop-opacity="0"/><stop offset="0.6868" stop-color="#000" stop-opacity="0.04"/><stop offset="0.704" stop-color="#000" stop-opacity="0.04"/><stop offset="0.7117" stop-color="#000" stop-opacity="0"/></linearGradient>
<linearGradient id="l109" gradientUnits="userSpaceOnUse" x1="120" x2="1164" y1="0" y2="0"><stop offset="0.6791" stop-color="#000" stop-opacity="0"/><stop offset="0.6868" stop-color="#000" stop-opacity="0.03"/><stop offset="0.704" stop-color="#000" stop-opacity="0.03"/><stop offset="0.7117" stop-color="#000" stop-opacity="0"/></linearGradient>
<linearGradient id="l110" gradientUnits="userSpaceOnUse" x1="120" x2="1164" y1="0" y2="0"><stop offset="0.6791" stop-color="#000" stop-opacity="0"/><stop offset="0.6868" stop-color="#000" stop-opacity="0.04"/><stop offset="0.704" stop-color="#000" stop-opacity="0.04"/><stop offset="0.7117" stop-color="#000" stop-opacity="0"/></linearGradient>
<linearGradient id="l111" gradientUnits="userSpaceOnUse" x1="120" x2="1164" y1="0" y2="0"><stop offset="0.6791" stop-color="#000" stop-opacity="0"/><stop offset="0.6868" stop-color="#000" stop-opacity="0.04"/><stop offset="0.704" stop-color="#000" stop-opacity="0.04"/><stop offset="0.7117" stop-color="#000" stop-opacity="0"/></linearGradient>
<linearGradient id="l112" gradientUnits="userSpaceOnUse" x1="120" x2="1164" y1="0" y2="0"><stop offset="0.7356" stop-color="#000" stop-opacity="0"/><stop offset="0.7433" stop-color="#000" stop-opacity="0.26"/><stop offset="0.8046" stop-color="#000" stop-opacity="0.26"/><stop offset="0.8123" stop-color="#000" stop-opacity="0"/></linearGradient>
<linearGradient id="l113" gradientUnits="userSpaceOnUse" x1="120" x2="1164" y1="0" y2="0"><stop offset="0.7356" stop-color="#000" stop-opacity="0"/><stop offset="0.7433" stop-color="#000" stop-opacity="0.26"/><stop offset="0.8046" stop-color="#000" stop-opacity="0.26"/><stop offset="0.8123" stop-color="#000" stop-opacity="0"/></linearGradient>
<linearGradient id="l114" gradientUnits="userSpaceOnUse" x1="120" x2="1164" y1="0" y2="0"><stop offset="0.7356" stop-color="#000" stop-opacity="0"/><stop offset="0.7433" stop-color="#000" stop-opacity="0.03"/><stop offset="0.8046" stop-color="#000" stop-opacity="0.03"/><stop offset="0.8123" stop-color="#000" stop-opacity="0"/></linearGradient>
<linearGradient id="l115" gradientUnits="userSpaceOnUse" x1="120" x2="1164" y1="0" y2="0"><stop offset="0.7356" stop-color="#000" stop-opacity="0"/><stop offset="0.7433" stop-color="#000" stop-opacity="0.26"/><stop offset="0.8046" stop-color="#000" stop-opacity="0.26"/><stop offset="0.8123" stop-color="#000" stop-opacity="0"/></linearGradient>
<linearGradient id="l116" gradientUnits="userSpaceOnUse" x1="120" x2="1164" y1="0" y2="0"><stop offset="0.7356" stop-color="#000" stop-opacity="0"/><stop offset="0.7433" stop-color="#000" stop-opacity="0.26"/><stop offset="0.8046" stop-color="#000" stop-opacity="0.26"/><stop offset="0.8123" stop-color="#000" stop-opacity="0"/></linearGradient>
<linearGradient id="l117" gradientUnits="userSpaceOnUse" x1="120" x2="1164" y1="0" y2="0"><stop offset="0.7356" stop-color="#000" stop-opacity="0"/><stop offset="0.7433" stop-color="#000" stop-opacity="0.03"/><stop offset="0.8046" stop-color="#000" stop-opacity="0.03"/><stop offset="0.8123" stop-color="#000" stop-opacity="0"/></linearGradient>
<linearGradient id="l118" gradientUnits="userSpaceOnUse" x1="120" x2="1164" y1="0" y2="0"><stop offset="0.7356" stop-color="#000" stop-opacity="0"/><stop offset="0.7433" stop-color="#000" stop-opacity="0.03"/><stop offset="0.8046" stop-color="#000" stop-opacity="0.03"/><stop offset="0.8123" stop-color="#000" stop-opacity="0"/></linearGradient>
<linearGradient id="l119" gradientUnits="userSpaceOnUse" x1="120" x2="1164" y1="0" y2="0"><stop offset="0.7356" stop-color="#000" stop-opacity="0"/><stop offset="0.7433" stop-color="#000" stop-opacity="0.26"/><stop offset="0.8046" stop-color="#000" stop-opacity="0.26"/><stop offset="0.8123" stop-color="#000" stop-opacity="0"/></linearGradient>
<linearGradient id="l120" gradientUnits="userSpaceOnUse" x1="120" x2="1164" y1="0" y2="0"><stop offset="0.7356" stop-color="#000" stop-opacity="0"/><stop offset="0.7433" stop-color="#000" stop-opacity="0.22"/><stop offset="0.8046" stop-color="#000" stop-opacity="0.22"/><stop offset="0.8123" stop-color="#000" stop-opacity="0"/></linearGradient>
<linearGradient id="l121" gradientUnits="userSpaceOnUse" x1="120" x2="1164" y1="0" y2="0"><stop offset="0.7356" stop-color="#000" stop-opacity="0"/><stop offset="0.7433" stop-color="#000" stop-opacity="0.02"/><stop offset="0.8046" stop-color="#000" stop-opacity="0.02"/><stop offset="0.8123" stop-color="#000" stop-opacity="0"/></linearGradient>
<linearGradient id="l122" gradientUnits="userSpaceOnUse" x1="120" x2="1164" y1="0" y2="0"><stop offset="0.8295" stop-color="#000" stop-opacity="0"/><stop offset="0.8467" stop-color="#000" stop-opacity="0.2"/><stop offset="0.8975" stop-color="#000" stop-opacity="0.2"/><stop offset="0.9148" stop-color="#000" stop-opacity="0"/></linearGradient>
<linearGradient id="l123" gradientUnits="userSpaceOnUse" x1="120" x2="1164" y1="0" y2="0"><stop offset="0.8295" stop-color="#000" stop-opacity="0"/><stop offset="0.8467" stop-color="#000" stop-opacity="0.2"/><stop offset="0.8956" stop-color="#000" stop-opacity="0.2"/><stop offset="0.9128" stop-color="#000" stop-opacity="0"/></linearGradient>
<linearGradient id="l124" gradientUnits="userSpaceOnUse" x1="120" x2="1164" y1="0" y2="0"><stop offset="0.8266" stop-color="#000" stop-opacity="0"/><stop offset="0.8439" stop-color="#000" stop-opacity="0.36"/><stop offset="0.8822" stop-color="#000" stop-opacity="0.36"/><stop offset="0.8994" stop-color="#000" stop-opacity="0"/></linearGradient>
<linearGradient id="l125" gradientUnits="userSpaceOnUse" x1="120" x2="1164" y1="0" y2="0"><stop offset="0.8822" stop-color="#000" stop-opacity="0"/><stop offset="0.8994" stop-color="#000" stop-opacity="0.03"/><stop offset="0.9205" stop-color="#000" stop-opacity="0.03"/><stop offset="0.9377" stop-color="#000" stop-opacity="0"/></linearGradient>
<linearGradient id="l126" gradientUnits="userSpaceOnUse" x1="120" x2="1164" y1="0" y2="0"><stop offset="0.8352" stop-color="#000" stop-opacity="0"/><stop offset="0.8525" stop-color="#000" stop-opacity="0.03"/><stop offset="0.9205" stop-color="#000" stop-opacity="0.03"/><stop offset="0.9377" stop-color="#000" stop-opacity="0"/></linearGradient>
<linearGradient id="l127" gradientUnits="userSpaceOnUse" x1="120" x2="1164" y1="0" y2="0"><stop offset="0.8314" stop-color="#000" stop-opacity="0"/><stop offset="0.8487" stop-color="#000" stop-opacity="0.16"/><stop offset="0.8697" stop-color="#000" stop-opacity="0.16"/><stop offset="0.887" stop-color="#000" stop-opacity="0"/></linearGradient>
<linearGradient id="l128" gradientUnits="userSpaceOnUse" x1="120" x2="1164" y1="0" y2="0"><stop offset="0.8621" stop-color="#000" stop-opacity="0"/><stop offset="0.8793" stop-color="#000" stop-opacity="0.04"/><stop offset="0.8918" stop-color="#000" stop-opacity="0.04"/><stop offset="0.909" stop-color="#000" stop-opacity="0"/></linearGradient>
<linearGradient id="l129" gradientUnits="userSpaceOnUse" x1="120" x2="1164" y1="0" y2="0"><stop offset="0.8352" stop-color="#000" stop-opacity="0"/><stop offset="0.8525" stop-color="#000" stop-opacity="0.05"/><stop offset="0.8582" stop-color="#000" stop-opacity="0.05"/><stop offset="0.8755" stop-color="#000" stop-opacity="0"/></linearGradient>
<linearGradient id="l130" gradientUnits="userSpaceOnUse" x1="120" x2="1164" y1="0" y2="0"><stop offset="0.8621" stop-color="#000" stop-opacity="0"/><stop offset="0.8793" stop-color="#000" stop-opacity="0.03"/><stop offset="0.9023" stop-color="#000" stop-opacity="0.03"/><stop offset="0.9195" stop-color="#000" stop-opacity="0"/></linearGradient>
<linearGradient id="l131" gradientUnits="userSpaceOnUse" x1="120" x2="1164" y1="0" y2="0"><stop offset="0.8975" stop-color="#000" stop-opacity="0"/><stop offset="0.9148" stop-color="#000" stop-opacity="0.04"/><stop offset="0.9243" stop-color="#000" stop-opacity="0.04"/><stop offset="0.9416" stop-color="#000" stop-opacity="0"/></linearGradient>
<linearGradient id="l132" gradientUnits="userSpaceOnUse" x1="120" x2="1164" y1="0" y2="0"><stop offset="0.8621" stop-color="#000" stop-opacity="0"/><stop offset="0.8793" stop-color="#000" stop-opacity="0.11"/><stop offset="0.8956" stop-color="#000" stop-opacity="0.11"/><stop offset="0.9128" stop-color="#000" stop-opacity="0"/></linearGradient>
<linearGradient id="l133" gradientUnits="userSpaceOnUse" x1="120" x2="1164" y1="0" y2="0"><stop offset="0.8669" stop-color="#000" stop-opacity="0"/><stop offset="0.8841" stop-color="#000" stop-opacity="0.02"/><stop offset="0.9023" stop-color="#000" stop-opacity="0.02"/><stop offset="0.9195" stop-color="#000" stop-opacity="0"/></linearGradient>
<linearGradient id="l134" gradientUnits="userSpaceOnUse" x1="120" x2="1164" y1="0" y2="0"><stop offset="0.8918" stop-color="#000" stop-opacity="0"/><stop offset="0.909" stop-color="#000" stop-opacity="0.05"/><stop offset="0.9243" stop-color="#000" stop-opacity="0.05"/><stop offset="0.9416" stop-color="#000" stop-opacity="0"/></linearGradient>
<linearGradient id="l135" gradientUnits="userSpaceOnUse" x1="120" x2="1164" y1="0" y2="0"><stop offset="0.8352" stop-color="#000" stop-opacity="0"/><stop offset="0.8525" stop-color="#000" stop-opacity="0.05"/><stop offset="0.8621" stop-color="#000" stop-opacity="0.05"/><stop offset="0.8793" stop-color="#000" stop-opacity="0"/></linearGradient>
<linearGradient id="l136" gradientUnits="userSpaceOnUse" x1="120" x2="1164" y1="0" y2="0"><stop offset="0.8937" stop-color="#000" stop-opacity="0"/><stop offset="0.9109" stop-color="#000" stop-opacity="0.05"/><stop offset="0.9243" stop-color="#000" stop-opacity="0.05"/><stop offset="0.9416" stop-color="#000" stop-opacity="0"/></linearGradient>
<linearGradient id="l137" gradientUnits="userSpaceOnUse" x1="120" x2="1164" y1="0" y2="0"><stop offset="0.8621" stop-color="#000" stop-opacity="0"/><stop offset="0.8793" stop-color="#000" stop-opacity="0.11"/><stop offset="0.8937" stop-color="#000" stop-opacity="0.11"/><stop offset="0.9109" stop-color="#000" stop-opacity="0"/></linearGradient>
<linearGradient id="l138" gradientUnits="userSpaceOnUse" x1="120" x2="1164" y1="0" y2="0"><stop offset="0.8352" stop-color="#000" stop-opacity="0"/><stop offset="0.8525" stop-color="#000" stop-opacity="0.03"/><stop offset="0.8918" stop-color="#000" stop-opacity="0.03"/><stop offset="0.909" stop-color="#000" stop-opacity="0"/></linearGradient>
<linearGradient id="l139" gradientUnits="userSpaceOnUse" x1="120" x2="1164" y1="0" y2="0"><stop offset="0.8918" stop-color="#000" stop-opacity="0"/><stop offset="0.909" stop-color="#000" stop-opacity="0.05"/><stop offset="0.9243" stop-color="#000" stop-opacity="0.05"/><stop offset="0.9416" stop-color="#000" stop-opacity="0"/></linearGradient>
<linearGradient id="l140" gradientUnits="userSpaceOnUse" x1="120" x2="1164" y1="0" y2="0"><stop offset="0.8314" stop-color="#000" stop-opacity="0"/><stop offset="0.8487" stop-color="#000" stop-opacity="0.05"/><stop offset="0.8803" stop-color="#000" stop-opacity="0.05"/><stop offset="0.8975" stop-color="#000" stop-opacity="0"/></linearGradient>
<linearGradient id="l141" gradientUnits="userSpaceOnUse" x1="120" x2="1164" y1="0" y2="0"><stop offset="0.9674" stop-color="#000" stop-opacity="0"/><stop offset="0.9751" stop-color="#000" stop-opacity="0.27"/><stop offset="1.0019" stop-color="#000" stop-opacity="0.27"/><stop offset="1.0096" stop-color="#000" stop-opacity="0"/></linearGradient>
<linearGradient id="l142" gradientUnits="userSpaceOnUse" x1="120" x2="1164" y1="0" y2="0"><stop offset="0.9674" stop-color="#000" stop-opacity="0"/><stop offset="0.9751" stop-color="#000" stop-opacity="0.05"/><stop offset="1.0019" stop-color="#000" stop-opacity="0.05"/><stop offset="1.0096" stop-color="#000" stop-opacity="0"/></linearGradient>
<linearGradient id="l143" gradientUnits="userSpaceOnUse" x1="120" x2="1164" y1="0" y2="0"><stop offset="0.9674" stop-color="#000" stop-opacity="0"/><stop offset="0.9751" stop-color="#000" stop-opacity="0.27"/><stop offset="1.0019" stop-color="#000" stop-opacity="0.27"/><stop offset="1.0096" stop-color="#000" stop-opacity="0"/></linearGradient>
<linearGradient id="l144" gradientUnits="userSpaceOnUse" x1="120" x2="1164" y1="0" y2="0"><stop offset="0.9674" stop-color="#000" stop-opacity="0"/><stop offset="0.9751" stop-color="#000" stop-opacity="0.05"/><stop offset="1.0019" stop-color="#000" stop-opacity="0.05"/><stop offset="1.0096" stop-color="#000" stop-opacity="0"/></linearGradient>
<linearGradient id="l145" gradientUnits="userSpaceOnUse" x1="120" x2="1164" y1="0" y2="0"><stop offset="0.9674" stop-color="#000" stop-opacity="0"/><stop offset="0.9751" stop-color="#000" stop-opacity="0.27"/><stop offset="1.0019" stop-color="#000" stop-opacity="0.27"/><stop offset="1.0096" stop-color="#000" stop-opacity="0"/></linearGradient>
<linearGradient id="l146" gradientUnits="userSpaceOnUse" x1="120" x2="1164" y1="0" y2="0"><stop offset="0.9674" stop-color="#000" stop-opacity="0"/><stop offset="0.9751" stop-color="#000" stop-opacity="0.27"/><stop offset="1.0019" stop-color="#000" stop-opacity="0.27"/><stop offset="1.0096" stop-color="#000" stop-opacity="0"/></linearGradient>
<linearGradient id="l147" gradientUnits="userSpaceOnUse" x1="120" x2="1164" y1="0" y2="0"><stop offset="0.9674" stop-color="#000" stop-opacity="0"/><stop offset="0.9751" stop-color="#000" stop-opacity="0.27"/><stop offset="1.0019" stop-color="#000" stop-opacity="0.27"/><stop offset="1.0096" stop-color="#000" stop-opacity="0"/></linearGradient>
<linearGradient id="l148" gradientUnits="userSpaceOnUse" x1="120" x2="1164" y1="0" y2="0"><stop offset="0.9674" stop-color="#000" stop-opacity="0"/><stop offset="0.9751" stop-color="#000" stop-opacity="0.03"/><stop offset="1.0019" stop-color="#000" stop-opacity="0.03"/><stop offset="1.0096" stop-color="#000" stop-opacity="0"/></linearGradient>
<linearGradient id="l149" gradientUnits="userSpaceOnUse" x1="120" x2="1164" y1="0" y2="0"><stop offset="0.9674" stop-color="#000" stop-opacity="0"/><stop offset="0.9751" stop-color="#000" stop-opacity="0.03"/><stop offset="1.0019" stop-color="#000" stop-opacity="0.03"/><stop offset="1.0096" stop-color="#000" stop-opacity="0"/></linearGradient>
<linearGradient id="l150" gradientUnits="userSpaceOnUse" x1="120" x2="1164" y1="0" y2="0"><stop offset="0.9674" stop-color="#000" stop-opacity="0"/><stop offset="0.9751" stop-color="#000" stop-opacity="0.05"/><stop offset="1.0019" stop-color="#000" stop-opacity="0.05"/><stop offset="1.0096" stop-color="#000" stop-opacity="0"/></linearGradient>
<linearGradient id="l151" gradientUnits="userSpaceOnUse" x1="120" x2="1164" y1="0" y2="0"><stop offset="0.9674" stop-color="#000" stop-opacity="0"/><stop offset="0.9751" stop-color="#000" stop-opacity="0.27"/><stop offset="1.0019" stop-color="#000" stop-opacity="0.27"/><stop offset="1.0096" stop-color="#000" stop-opacity="0"/></linearGradient>
<linearGradient id="l152" gradientUnits="userSpaceOnUse" x1="120" x2="1164" y1="0" y2="0"><stop offset="0.9674" stop-color="#000" stop-opacity="0"/><stop offset="0.9751" stop-color="#000" stop-opacity="0.03"/><stop offset="1.0019" stop-color="#000" stop-opacity="0.03"/><stop offset="1.0096" stop-color="#000" stop-opacity="0"/></linearGradient>
<linearGradient id="l153" gradientUnits="userSpaceOnUse" x1="120" x2="1164" y1="0" y2="0"><stop offset="0.9674" stop-color="#000" stop-opacity="0"/><stop offset="0.9751" stop-color="#000" stop-opacity="0.27"/><stop offset="1.0019" stop-color="#000" stop-opacity="0.27"/><stop offset="1.0096" stop-color="#000" stop-opacity="0"/></linearGradient>
<linearGradient id="l154" gradientUnits="userSpaceOnUse" x1="120" x2="1164" y1="0" y2="0"><stop offset="0.9674" stop-color="#000" stop-opacity="0"/><stop offset="0.9751" stop-color="#000" stop-opacity="0.27"/><stop offset="1.0019" stop-color="#000" stop-opacity="0.27"/><stop offset="1.0096" stop-color="#000" stop-opacity="0"/></linearGradient>
<linearGradient id="l155" gradientUnits="userSpaceOnUse" x1="120" x2="1164" y1="0" y2="0"><stop offset="0.9674" stop-color="#000" stop-opacity="0"/><stop offset="0.9751" stop-color="#000" stop-opacity="0.27"/><stop offset="1.0019" stop-color="#000" stop-opacity="0.27"/><stop offset="1.0096" stop-color="#000" stop-opacity="0"/></linearGradient>
<linearGradient id="cb" x1="0" x2="0" y1="0" y2="1"><stop offset="0" stop-color="#fde725"/><stop offset="0.03" stop-color="#ece51b"/><stop offset="0.06" stop-color="#d8e219"/><stop offset="0.09" stop-color="#c2df23"/><stop offset="0.12" stop-color="#addc30"/><stop offset="0.16" stop-color="#98d83e"/><stop offset="0.19" stop-color="#84d44b"/><stop offset="0.22" stop-color="#70cf57"/><stop offset="0.25" stop-color="#5ec962"/><stop offset="0.28" stop-color="#4ec36b"/><stop offset="0.31" stop-color="#3fbc73"/><stop offset="0.34" stop-color="#32b67a"/><stop offset="0.38" stop-color="#28ae80"/><stop offset="0.41" stop-color="#22a785"/><stop offset="0.44" stop-color="#1fa088"/><stop offset="0.47" stop-color="#1f988b"/><stop offset="0.5" stop-color="#21918c"/><stop offset="0.53" stop-color="#23898e"/><stop offset="0.56" stop-color="#26828e"/><stop offset="0.59" stop-color="#297a8e"/><stop offset="0.62" stop-color="#2c728e"/><stop offset="0.66" stop-color="#2f6b8e"/><stop offset="0.69" stop-color="#33638d"/><stop offset="0.72" stop-color="#375b8d"/><stop offset="0.75" stop-color="#3b528b"/><stop offset="0.78" stop-color="#3e4989"/><stop offset="0.81" stop-color="#424086"/><stop offset="0.84" stop-color="#453781"/><stop offset="0.88" stop-color="#472d7b"/><stop offset="0.91" stop-color="#482374"/><stop offset="0.94" stop-color="#48186a"/><stop offset="0.97" stop-color="#470d60"/><stop offset="1" stop-color="#440154"/></linearGradient>
</defs>
<rect width="1500" height="600" fill="#fff"/>
<g clip-path="url(#cp)"><g filter="url(#vir)"><rect x="120" y="30" width="1044" height="480" fill="url(#b)"/><rect x="724" y="30" width="108" height="270" fill="url(#vy0)" mask="url(#m0)"/><rect x="120" y="150" width="1044" height="360" fill="url(#vy1)" mask="url(#m1)"/><rect x="120" y="330" width="52" height="180" fill="url(#vy2)" mask="url(#m2)"/><rect x="150" y="315" width="40" height="191" fill="url(#vy3)" mask="url(#m3)"/><rect x="120" y="234" width="1044" height="80" fill="url(#vy4)" mask="url(#m4)"/><rect x="254" y="146" width="68" height="346" fill="url(#vy5)" mask="url(#m5)"/><rect x="896" y="30" width="44" height="480" fill="url(#vy6)" mask="url(#m6)"/><rect x="1016" y="120" width="56" height="390" fill="url(#vy7)" mask="url(#m7)"/><rect x="1060" y="150" width="34" height="360" fill="url(#vy8)" mask="url(#m8)"/><rect x="998" y="320" width="36" height="172" fill="url(#vy9)" mask="url(#m9)"/><rect x="556" y="30" width="48" height="480" fill="url(#vy10)" mask="url(#m10)"/><rect x="556" y="414" width="104" height="79" fill="url(#vy11)" mask="url(#m11)"/><rect x="692" y="338" width="34" height="172" fill="url(#vy12)" mask="url(#m12)"/><rect x="490" y="380" width="34" height="130" fill="url(#vy13)" mask="url(#m13)"/><rect x="424" y="400" width="34" height="108" fill="url(#vy14)" mask="url(#m14)"/><rect x="392" y="180" width="28" height="312" fill="url(#vy15)" mask="url(#m15)"/><rect x="1102" y="32" width="24" height="302" fill="url(#vy16)" mask="url(#m16)"/><rect x="356" y="312" width="35" height="196" fill="url(#vy17)" mask="url(#m17)"/><rect x="828" y="320" width="36" height="186" fill="url(#vy18)" mask="url(#m18)"/><g mask="url(#nm)"><path d="M120 31.5h1044" stroke="#fff" stroke-opacity="0.05"/><path d="M120 33.5h1044" stroke="#fff" stroke-opacity="0.04"/><path d="M120 36.5h1044" stroke="#fff" stroke-opacity="0.08"/><path d="M120 37.5h1044" stroke="#fff" stroke-opacity="0.04"/><path d="M120 38.5h1044" stroke="#fff" stroke-opacity="0.02"/><path d="M120 39.5h1044" stroke="#fff" stroke-opacity="0.04"/><path d="M120 40.5h1044" stroke="#fff" stroke-opacity="0.07"/><path d="M120 41.5h1044" stroke="#fff" stroke-opacity="0.03"/><path d="M120 42.5h1044" stroke="#fff" stroke-opacity="0.04"/><path d="M120 43.5h1044" stroke="#000" stroke-opacity="0.02"/><path d="M120 44.5h1044" stroke="#000" stroke-opacity="0.03"/><path d="M120 45.5h1044" stroke="#000" stroke-opacity="0.03"/><path d="M120 46.5h1044" stroke="#000" stroke-opacity="0.07"/><path d="M120 47.5h1044" stroke="#000" stroke-opacity="0.1"/><path d="M120 48.5h1044" stroke="#000" stroke-opacity="0.12"/><path d="M120 49.5h1044" stroke="#000" stroke-opacity="0.07"/><path d="M120 50.5h1044" stroke="#000" stroke-opacity="0.04"/><path d="M120 51.5h1044" stroke="#000" stroke-opacity="0.03"/><path d="M120 53.5h1044" stroke="#000" stroke-opacity="0.06"/><path d="M120 54.5h1044" stroke="#000" stroke-opacity="0.03"/><path d="M120 56.5h1044" stroke="#fff" stroke-opacity="0.03"/><path d="M120 57.5h1044" stroke="#000" stroke-opacity="0.02"/><path d="M120 58.5h1044" stroke="#000" stroke-opacity="0.03"/><path d="M120 59.5h1044" stroke="#000" stroke-opacity="0.09"/><path d="M120 60.5h1044" stroke="#000" stroke-opacity="0.07"/><path d="M120 61.5h1044" stroke="#000" stroke-opacity="0.12"/><path d="M120 62.5h1044" stroke="#000" stroke-opacity="0.12"/><path d="M120 64.5h1044" stroke="#000" stroke-opacity="0.1"/><path d="M120 65.5h1044" stroke="#000" stroke-opacity="0.02"/><path d="M120 69.5h1044" stroke="#fff" stroke-opacity="0.03"/><path d="M120 70.5h1044" stroke="#fff" stroke-opacity="0.06"/><path d="M120 71.5h1044" stroke="#fff" stroke-opacity="0.02"/><path d="M120 73.5h1044" stroke="#000" stroke-opacity="0.03"/><path d="M120 74.5h1044" stroke="#000" stroke-opacity="0.05"/><path d="M120 75.5h1044" stroke="#000" stroke-opacity="0.03"/><path d="M120 76.5h1044" stroke="#000" stroke-opacity="0.05"/><path d="M120 77.5h1044" stroke="#fff" stroke-opacity="0.02"/><path d="M120 78.5h1044" stroke="#000" stroke-opacity="0.06"/><path d="M120 79.5h1044" stroke="#000" stroke-opacity="0.07"/><path d="M120 80.5h1044" stroke="#000" stroke-opacity="0.07"/><path d="M120 81.5h1044" stroke="#000" stroke-opacity="0.12"/><path d="M120 83.5h1044" stroke="#000" stroke-opacity="0.09"/><path d="M120 84.5h1044" stroke="#000" stroke-opacity="0.05"/><path d="M120 85.5h1044" stroke="#000" stroke-opacity="0.05"/><path d="M120 86.5h1044" stroke="#fff" stroke-opacity="0.04"/><path d="M120 87.5h1044" stroke="#000" stroke-opacity="0.06"/><path d="M120 89.5h1044" stroke="#000" stroke-opacity="0.02"/><path d="M120 90.5h1044" stroke="#000" stroke-opacity="0.02"/><path d="M120 91.5h1044" stroke="#000" stroke-opacity="0.03"/><path d="M120 93.5h1044" stroke="#000" stroke-opacity="0.04"/><path d="M120 94.5h1044" stroke="#000" stroke-opacity="0.02"/><path d="M120 96.5h1044" stroke="#fff" stroke-opacity="0.07"/><path d="M120 97.5h1044" stroke="#000" stroke-opacity="0.06"/><path d="M120 98.5h1044" stroke="#fff" stroke-opacity="0.03"/><path d="M120 99.5h1044" stroke="#fff" stroke-opacity="0.05"/><path d="M120 101.5h1044" stroke="#fff" stroke-opacity="0.02"/><path d="M120 103.5h1044" stroke="#fff" stroke-opacity="0.06"/><path d="M120 104.5h1044" stroke="#fff" stroke-opacity="0.04"/><path d="M120 109.5h1044" stroke="#000" stroke-opacity="0.04"/><path d="M120 110.5h1044" stroke="#fff" stroke-opacity="0.06"/><path d="M120 111.5h1044" stroke="#000" stroke-opacity="0.04"/><path d="M120 112.5h1044" stroke="#000" stroke-opacity="0.16"/><path d="M120 113.5h1044" stroke="#000" stroke-opacity="0.08"/><path d="M120 114.5h1044" stroke="#000" stroke-opacity="0.05"/><path d="M120 119.5h1044" stroke="#fff" stroke-opacity="0.04"/><path d="M120 122.5h1044" stroke="#fff" stroke-opacity="0.07"/><path d="M120 123.5h1044" stroke="#fff" stroke-opacity="0.05"/><path d="M120 125.5h1044" stroke="#fff" stroke-opacity="0.08"/><path d="M120 126.5h1044" stroke="#fff" stroke-opacity="0.07"/><path d="M120 128.5h1044" stroke="#000" stroke-opacity="0.04"/><path d="M120 130.5h1044" stroke="#000" stroke-opacity="0.03"/><path d="M120 131.5h1044" stroke="#000" stroke-opacity="0.06"/><path d="M120 132.5h1044" stroke="#000" stroke-opacity="0.07"/><path d="M120 133.5h1044" stroke="#000" stroke-opacity="0.06"/><path d="M120 136.5h1044" stroke="#000" stroke-opacity="0.06"/><path d="M120 139.5h1044" stroke="#fff" stroke-opacity="0.03"/><path d="M120 140.5h1044" stroke="#fff" stroke-opacity="0.06"/><path d="M120 141.5h1044" stroke="#fff" stroke-opacity="0.02"/><path d="M120 144.5h1044" stroke="#000" stroke-opacity="0.04"/><path d="M120 146.5h1044" stroke="#fff" stroke-opacity="0.05"/><path d="M120 147.5h1044" stroke="#fff" stroke-opacity="0.03"/><path d="M120 150.5h1044" stroke="#000" stroke-opacity="0.03"/><path d="M120 151.5h1044" stroke="#000" stroke-opacity="0.04"/><path d="M120 152.5h1044" stroke="#000" stroke-opacity="0.04"/><path d="M120 153.5h1044" stroke="#000" stroke-opacity="0.05"/><path d="M120 154.5h1044" stroke="#000" stroke-opacity="0.04"/><path d="M120 155.5h1044" stroke="#000" stroke-opacity="0.07"/><path d="M120 156.5h1044" stroke="#000" stroke-opacity="0.02"/><path d="M120 158.5h1044" stroke="#000" stroke-opacity="0.05"/><path d="M120 159.5h1044" stroke="#000" stroke-opacity="0.1"/><path d="M120 160.5h1044" stroke="#000" stroke-opacity="0.05"/><path d="M120 162.5h1044" stroke="#000" stroke-opacity="0.02"/><path d="M120 163.5h1044" stroke="#000" stroke-opacity="0.03"/><path d="M120 164.5h1044" stroke="#000" stroke-opacity="0.03"/><path d="M120 166.5h1044" stroke="#000" stroke-opacity="0.03"/><path d="M120 167.5h1044" stroke="#fff" stroke-opacity="0.02"/><path d="M120 169.5h1044" stroke="#fff" stroke-opacity="0.03"/><path d="M120 170.5h1044" stroke="#fff" stroke-opacity="0.02"/><path d="M120 172.5h1044" stroke="#000" stroke-opacity="0.05"/><path d="M120 173.5h1044" stroke="#000" stroke-opacity="0.05"/><path d="M120 174.5h1044" stroke="#000" stroke-opacity="0.03"/><path d="M120 177.5h1044" stroke="#000" stroke-opacity="0.02"/><path d="M120 179.5h1044" stroke="#fff" stroke-opacity="0.04"/><path d="M120 182.5h1044" stroke="#000" stroke-opacity="0.02"/><path d="M120 183.5h1044" stroke="#fff" stroke-opacity="0.02"/><path d="M120 184.5h1044" stroke="#fff" stroke-opacity="0.03"/><path d="M120 185.5h1044" stroke="#000" stroke-opacity="0.02"/><path d="M120 188.5h1044" stroke="#000" stroke-opacity="0.03"/><path d="M120 189.5h1044" stroke="#fff" stroke-opacity="0.02"/><path d="M120 190.5h1044" stroke="#fff" stroke-opacity="0.04"/><path d="M120 193.5h1044" stroke="#fff" stroke-opacity="0.02"/><path d="M120 196.5h1044" stroke="#fff" stroke-opacity="0.02"/><path d="M120 197.5h1044" stroke="#000" stroke-opacity="0.05"/><path d="M120 199.5h1044" stroke="#fff" stroke-opacity="0.02"/><path d="M120 200.5h1044" stroke="#fff" stroke-opacity="0.02"/><path d="M120 201.5h1044" stroke="#000" stroke-opacity="0.03"/><path d="M120 203.5h1044" stroke="#000" stroke-opacity="0.03"/><path d="M120 205.5h1044" stroke="#fff" stroke-opacity="0.02"/><path d="M120 206.5h1044" stroke="#fff" stroke-opacity="0.02"/><path d="M120 207.5h1044" stroke="#000" stroke-opacity="0.02"/><path d="M120 208.5h1044" stroke="#000" stroke-opacity="0.03"/><path d="M120 210.5h1044" stroke="#000" stroke-opacity="0.02"/><path d="M120 212.5h1044" stroke="#fff" stroke-opacity="0.02"/><path d="M120 214.5h1044" stroke="#fff" stroke-opacity="0.08"/><path d="M120 215.5h1044" stroke="#fff" stroke-opacity="0.04"/><path d="M120 216.5h1044" stroke="#fff" stroke-opacity="0.09"/><path d="M120 217.5h1044" stroke="#000" stroke-opacity="0.02"/><path d="M120 218.5h1044" stroke="#000" stroke-opacity="0.08"/><path d="M120 220.5h1044" stroke="#fff" stroke-opacity="0.02"/><path d="M120 223.5h1044" stroke="#000" stroke-opacity="0.06"/><path d="M120 224.5h1044" stroke="#000" stroke-opacity="0.05"/><path d="M120 225.5h1044" stroke="#000" stroke-opacity="0.06"/><path d="M120 226.5h1044" stroke="#000" stroke-opacity="0.04"/><path d="M120 231.5h1044" stroke="#000" stroke-opacity="0.02"/><path d="M120 234.5h1044" stroke="#fff" stroke-opacity="0.03"/><path d="M120 236.5h1044" stroke="#fff" stroke-opacity="0.05"/><path d="M120 238.5h1044" stroke="#fff" stroke-opacity="0.03"/><path d="M120 240.5h1044" stroke="#fff" stroke-opacity="0.05"/><path d="M120 241.5h1044" stroke="#fff" stroke-opacity="0.03"/><path d="M120 242.5h1044" stroke="#fff" stroke-opacity="0.03"/><path d="M120 243.5h1044" stroke="#fff" stroke-opacity="0.03"/><path d="M120 245.5h1044" stroke="#000" stroke-opacity="0.03"/><path d="M120 246.5h1044" stroke="#000" stroke-opacity="0.08"/><path d="M120 248.5h1044" stroke="#000" stroke-opacity="0.02"/><path d="M120 249.5h1044" stroke="#000" stroke-opacity="0.03"/><path d="M120 251.5h1044" stroke="#fff" stroke-opacity="0.05"/><path d="M120 252.5h1044" stroke="#000" stroke-opacity="0.03"/><path d="M120 256.5h1044" stroke="#000" stroke-opacity="0.05"/><path d="M120 257.5h1044" stroke="#000" stroke-opacity="0.04"/><path d="M120 259.5h1044" stroke="#fff" stroke-opacity="0.05"/><path d="M120 260.5h1044" stroke="#fff" stroke-opacity="0.07"/><path d="M120 264.5h1044" stroke="#000" stroke-opacity="0.04"/><path d="M120 265.5h1044" stroke="#000" stroke-opacity="0.06"/><path d="M120 269.5h1044" stroke="#fff" stroke-opacity="0.03"/><path d="M120 278.5h1044" stroke="#fff" stroke-opacity="0.06"/><path d="M120 279.5h1044" stroke="#fff" stroke-opacity="0.02"/><path d="M120 280.5h1044" stroke="#fff" stroke-opacity="0.04"/><path d="M120 281.5h1044" stroke="#fff" stroke-opacity="0.04"/><path d="M120 283.5h1044" stroke="#fff" stroke-opacity="0.03"/><path d="M120 285.5h1044" stroke="#fff" stroke-opacity="0.03"/><path d="M120 287.5h1044" stroke="#000" stroke-opacity="0.02"/><path d="M120 289.5h1044" stroke="#fff" stroke-opacity="0.02"/><path d="M120 290.5h1044" stroke="#fff" stroke-opacity="0.04"/><path d="M120 291.5h1044" stroke="#fff" stroke-opacity="0.04"/><path d="M120 292.5h1044" stroke="#fff" stroke-opacity="0.02"/><path d="M120 293.5h1044" stroke="#000" stroke-opacity="0.02"/><path d="M120 296.5h1044" stroke="#000" stroke-opacity="0.02"/><path d="M120 297.5h1044" stroke="#fff" stroke-opacity="0.02"/><path d="M120 299.5h1044" stroke="#000" stroke-opacity="0.02"/><path d="M120 301.5h1044" stroke="#000" stroke-opacity="0.03"/><path d="M120 302.5h1044" stroke="#000" stroke-opacity="0.04"/><path d="M120 304.5h1044" stroke="#000" stroke-opacity="0.05"/><path d="M120 305.5h1044" stroke="#000" stroke-opacity="0.02"/><path d="M120 306.5h1044" stroke="#000" stroke-opacity="0.05"/><path d="M120 308.5h1044" stroke="#000" stroke-opacity="0.02"/><path d="M120 310.5h1044" stroke="#000" stroke-opacity="0.04"/><path d="M120 311.5h1044" stroke="#000" stroke-opacity="0.03"/><path d="M120 313.5h1044" stroke="#fff" stroke-opacity="0.02"/><path d="M120 314.5h1044" stroke="#000" stroke-opacity="0.04"/><path d="M120 316.5h1044" stroke="#fff" stroke-opacity="0.03"/><path d="M120 318.5h1044" stroke="#fff" stroke-opacity="0.04"/><path d="M120 321.5h1044" stroke="#fff" stroke-opacity="0.03"/><path d="M120 322.5h1044" stroke="#fff" stroke-opacity="0.05"/><path d="M120 323.5h1044" stroke="#fff" stroke-opacity="0.06"/><path d="M120 325.5h1044" stroke="#000" stroke-opacity="0.04"/><path d="M120 327.5h1044" stroke="#000" stroke-opacity="0.04"/><path d="M120 328.5h1044" stroke="#000" stroke-opacity="0.02"/><path d="M120 329.5h1044" stroke="#000" stroke-opacity="0.04"/><path d="M120 331.5h1044" stroke="#fff" stroke-opacity="0.02"/><path d="M120 332.5h1044" stroke="#fff" stroke-opacity="0.02"/><path d="M120 338.5h1044" stroke="#fff" stroke-opacity="0.02"/><path d="M120 340.5h1044" stroke="#fff" stroke-opacity="0.05"/><path d="M120 341.5h1044" stroke="#fff" stroke-opacity="0.03"/><path d="M120 342.5h1044" stroke="#fff" stroke-opacity="0.05"/><path d="M120 343.5h1044" stroke="#fff" stroke-opacity="0.06"/><path d="M120 345.5h1044" stroke="#000" stroke-opacity="0.04"/><path d="M120 351.5h1044" stroke="#000" stroke-opacity="0.03"/><path d="M120 352.5h1044" stroke="#000" stroke-opacity="0.02"/><path d="M120 353.5h1044" stroke="#000" stroke-opacity="0.02"/><path d="M120 355.5h1044" stroke="#000" stroke-opacity="0.06"/><path d="M120 358.5h1044" stroke="#000" stroke-opacity="0.04"/><path d="M120 359.5h1044" stroke="#000" stroke-opacity="0.04"/><path d="M120 360.5h1044" stroke="#000" stroke-opacity="0.02"/><path d="M120 363.5h1044" stroke="#fff" stroke-opacity="0.03"/><path d="M120 364.5h1044" stroke="#fff" stroke-opacity="0.02"/><path d="M120 366.5h1044" stroke="#000" stroke-opacity="0.02"/><path d="M120 370.5h1044" stroke="#fff" stroke-opacity="0.03"/><path d="M120 371.5h1044" stroke="#fff" stroke-opacity="0.03"/><path d="M120 372.5h1044" stroke="#fff" stroke-opacity="0.04"/><path d="M120 376.5h1044" stroke="#000" stroke-opacity="0.02"/><path d="M120 377.5h1044" stroke="#000" stroke-opacity="0.04"/><path d="M120 378.5h1044" stroke="#000" stroke-opacity="0.03"/><path d="M120 379.5h1044" stroke="#000" stroke-opacity="0.04"/><path d="M120 380.5h1044" stroke="#000" stroke-opacity="0.05"/><path d="M120 381.5h1044" stroke="#000" stroke-opacity="0.02"/><path d="M120 384.5h1044" stroke="#fff" stroke-opacity="0.03"/><path d="M120 385.5h1044" stroke="#fff" stroke-opacity="0.03"/><path d="M120 386.5h1044" stroke="#fff" stroke-opacity="0.04"/><path d="M120 388.5h1044" stroke="#000" stroke-opacity="0.03"/><path d="M120 391.5h1044" stroke="#fff" stroke-opacity="0.02"/><path d="M120 392.5h1044" stroke="#fff" stroke-opacity="0.02"/><path d="M120 393.5h1044" stroke="#fff" stroke-opacity="0.04"/><path d="M120 395.5h1044" stroke="#fff" stroke-opacity="0.02"/><path d="M120 397.5h1044" stroke="#000" stroke-opacity="0.05"/><path d="M120 398.5h1044" stroke="#000" stroke-opacity="0.04"/><path d="M120 400.5h1044" stroke="#000" stroke-opacity="0.03"/><path d="M120 406.5h1044" stroke="#000" stroke-opacity="0.02"/><path d="M120 409.5h1044" stroke="#fff" stroke-opacity="0.02"/><path d="M120 411.5h1044" stroke="#fff" stroke-opacity="0.03"/><path d="M120 412.5h1044" stroke="#fff" stroke-opacity="0.05"/><path d="M120 413.5h1044" stroke="#fff" stroke-opacity="0.08"/><path d="M120 416.5h1044" stroke="#000" stroke-opacity="0.03"/><path d="M120 419.5h1044" stroke="#000" stroke-opacity="0.02"/><path d="M120 420.5h1044" stroke="#000" stroke-opacity="0.04"/><path d="M120 421.5h1044" stroke="#000" stroke-opacity="0.02"/><path d="M120 425.5h1044" stroke="#000" stroke-opacity="0.06"/><path d="M120 426.5h1044" stroke="#000" stroke-opacity="0.04"/><path d="M120 427.5h1044" stroke="#000" stroke-opacity="0.02"/><path d="M120 429.5h1044" stroke="#fff" stroke-opacity="0.03"/><path d="M120 431.5h1044" stroke="#000" stroke-opacity="0.05"/><path d="M120 433.5h1044" stroke="#000" stroke-opacity="0.02"/><path d="M120 436.5h1044" stroke="#fff" stroke-opacity="0.02"/><path d="M120 437.5h1044" stroke="#fff" stroke-opacity="0.04"/><path d="M120 438.5h1044" stroke="#fff" stroke-opacity="0.04"/><path d="M120 441.5h1044" stroke="#fff" stroke-opacity="0.03"/><path d="M120 443.5h1044" stroke="#fff" stroke-opacity="0.02"/><path d="M120 446.5h1044" stroke="#fff" stroke-opacity="0.03"/><path d="M120 447.5h1044" stroke="#fff" stroke-opacity="0.03"/><path d="M120 449.5h1044" stroke="#fff" stroke-opacity="0.02"/><path d="M120 451.5h1044" stroke="#000" stroke-opacity="0.02"/><path d="M120 454.5h1044" stroke="#000" stroke-opacity="0.02"/><path d="M120 457.5h1044" stroke="#fff" stroke-opacity="0.03"/><path d="M120 458.5h1044" stroke="#fff" stroke-opacity="0.03"/><path d="M120 463.5h1044" stroke="#fff" stroke-opacity="0.02"/><path d="M120 464.5h1044" stroke="#fff" stroke-opacity="0.04"/><path d="M120 465.5h1044" stroke="#fff" stroke-opacity="0.04"/><path d="M120 466.5h1044" stroke="#fff" stroke-opacity="0.03"/><path d="M120 468.5h1044" stroke="#fff" stroke-opacity="0.02"/><path d="M120 471.5h1044" stroke="#000" stroke-opacity="0.03"/><path d="M120 472.5h1044" stroke="#000" stroke-opacity="0.02"/><path d="M120 475.5h1044" stroke="#000" stroke-opacity="0.03"/><path d="M120 476.5h1044" stroke="#000" stroke-opacity="0.02"/><path d="M120 477.5h1044" stroke="#fff" stroke-opacity="0.02"/><path d="M120 478.5h1044" stroke="#fff" stroke-opacity="0.03"/><path d="M120 482.5h1044" stroke="#000" stroke-opacity="0.02"/><path d="M120 485.5h1044" stroke="#000" stroke-opacity="0.03"/><path d="M120 486.5h1044" stroke="#000" stroke-opacity="0.02"/><path d="M120 487.5h1044" stroke="#000" stroke-opacity="0.02"/><path d="M120 488.5h1044" stroke="#000" stroke-opacity="0.02"/><path d="M120 489.5h1044" stroke="#000" stroke-opacity="0.03"/><path d="M120 491.5h1044" stroke="#fff" stroke-opacity="0.03"/><path d="M120 497.5h1044" stroke="#fff" stroke-opacity="0.02"/><path d="M120 499.5h1044" stroke="#000" stroke-opacity="0.02"/><path d="M120 500.5h1044" stroke="#000" stroke-opacity="0.02"/><path d="M120 501.5h1044" stroke="#000" stroke-opacity="0.02"/><path d="M120 504.5h1044" stroke="#fff" stroke-opacity="0.02"/><path d="M120 505.5h1044" stroke="#fff" stroke-opacity="0.02"/><path d="M120 509.5h1044" stroke="#000" stroke-opacity="0.02"/></g><g filter="url(#vw)"><rect x="182" y="52.5" width="36" height="5" fill="url(#w0)"/><rect x="182" y="77.5" width="36" height="5" fill="url(#w1)"/><rect x="182" y="106.5" width="36" height="5" fill="url(#w2)"/><rect x="182" y="134.5" width="36" height="5" fill="url(#w3)"/><rect x="182" y="154.5" width="36" height="5" fill="url(#w4)"/><rect x="182" y="183.5" width="36" height="5" fill="url(#w5)"/><rect x="182" y="214.5" width="36" height="5" fill="url(#w6)"/><rect x="182" y="276.5" width="36" height="5" fill="url(#w7)"/><rect x="182" y="311.5" width="36" height="5" fill="url(#w8)"/><rect x="182" y="341.5" width="36" height="5" fill="url(#w9)"/><rect x="182" y="410.5" width="36" height="5" fill="url(#w10)"/><rect x="182" y="433.5" width="36" height="5" fill="url(#w11)"/><rect x="182" y="463.5" width="36" height="5" fill="url(#w12)"/><rect x="148" y="54.5" width="42" height="5" fill="url(#w13)"/><rect x="148" y="79.5" width="42" height="5" fill="url(#w14)"/><rect x="148" y="105.5" width="42" height="5" fill="url(#w15)"/><rect x="148" y="133.5" width="42" height="5" fill="url(#w16)"/><rect x="148" y="157.5" width="42" height="5" fill="url(#w17)"/><rect x="148" y="185.5" width="42" height="5" fill="url(#w18)"/><rect x="148" y="213.5" width="42" height="5" fill="url(#w19)"/><rect x="148" y="223.5" width="42" height="5" fill="url(#w20)"/><rect x="148" y="276.5" width="42" height="5" fill="url(#w21)"/><rect x="148" y="311.5" width="42" height="5" fill="url(#w22)"/><rect x="148" y="427.5" width="42" height="5" fill="url(#w23)"/><rect x="148" y="457.5" width="42" height="5" fill="url(#w24)"/><rect x="255" y="53" width="66" height="5" fill="url(#w25)"/><rect x="255" y="79.5" width="66" height="5" fill="url(#w26)"/><rect x="255" y="107.5" width="66" height="5" fill="url(#w27)"/><rect x="255" y="135.5" width="66" height="5" fill="url(#w28)"/><rect x="255" y="157.5" width="66" height="5" fill="url(#w29)"/><rect x="255" y="184.5" width="66" height="5" fill="url(#w30)"/><rect x="255" y="218" width="66" height="8" fill="url(#w31)"/><rect x="255" y="344.5" width="66" height="5" fill="url(#w32)"/><rect x="255" y="384.5" width="66" height="5" fill="url(#w33)"/><rect x="255" y="409.5" width="66" height="5" fill="url(#w34)"/><rect x="255" y="427.5" width="66" height="5" fill="url(#w35)"/><rect x="255" y="457.5" width="66" height="5" fill="url(#w36)"/><rect x="255" y="485" width="66" height="5" fill="url(#w37)"/><rect x="358" y="49.5" width="31" height="5" fill="url(#w38)"/><rect x="358" y="76.5" width="31" height="5" fill="url(#w39)"/><rect x="358" y="104.5" width="31" height="5" fill="url(#w40)"/><rect x="358" y="131.5" width="31" height="5" fill="url(#w41)"/><rect x="358" y="157.5" width="31" height="5" fill="url(#w42)"/><rect x="358" y="186.5" width="31" height="5" fill="url(#w43)"/><rect x="358" y="217.5" width="31" height="5" fill="url(#w44)"/><rect x="358" y="274.5" width="31" height="5" fill="url(#w45)"/><rect x="358" y="311.5" width="31" height="5" fill="url(#w46)"/><rect x="358" y="411.5" width="31" height="5" fill="url(#w47)"/><rect x="358" y="435.5" width="31" height="5" fill="url(#w48)"/><rect x="358" y="461.5" width="31" height="5" fill="url(#w49)"/><rect x="357" y="353.5" width="37" height="5" fill="url(#w50)"/><rect x="420" y="353.5" width="39" height="5" fill="url(#w51)"/><rect x="425" y="51.5" width="32" height="5" fill="url(#w52)"/><rect x="425" y="77.5" width="32" height="5" fill="url(#w53)"/><rect x="425" y="105.5" width="32" height="5" fill="url(#w54)"/><rect x="425" y="133.5" width="32" height="5" fill="url(#w55)"/><rect x="425" y="157.5" width="32" height="5" fill="url(#w56)"/><rect x="425" y="186.5" width="32" height="5" fill="url(#w57)"/><rect x="425" y="217.5" width="32" height="5" fill="url(#w58)"/><rect x="425" y="274.5" width="32" height="5" fill="url(#w59)"/><rect x="425" y="311.5" width="32" height="5" fill="url(#w60)"/><rect x="425" y="411.5" width="32" height="5" fill="url(#w61)"/><rect x="425" y="435.5" width="32" height="5" fill="url(#w62)"/><rect x="425" y="461.5" width="32" height="5" fill="url(#w63)"/><rect x="490" y="49.5" width="34" height="5" fill="url(#w64)"/><rect x="490" y="104" width="34" height="5" fill="url(#w65)"/><rect x="490" y="133" width="34" height="5" fill="url(#w66)"/><rect x="490" y="156.5" width="34" height="5" fill="url(#w67)"/><rect x="490" y="184.5" width="34" height="5" fill="url(#w68)"/><rect x="490" y="217.5" width="34" height="5" fill="url(#w69)"/><rect x="490" y="274.5" width="34" height="5" fill="url(#w70)"/><rect x="490" y="311.5" width="34" height="5" fill="url(#w71)"/><rect x="490" y="413" width="34" height="5" fill="url(#w72)"/><rect x="490" y="435" width="34" height="5" fill="url(#w73)"/><rect x="490" y="461.5" width="34" height="5" fill="url(#w74)"/><rect x="482" y="76.5" width="50" height="5" fill="url(#w75)"/><rect x="485" y="355.2" width="44" height="5" fill="url(#w76)"/><rect x="558" y="51.5" width="101" height="5" fill="url(#w77)"/><rect x="558" y="104" width="101" height="5" fill="url(#w78)"/><rect x="558" y="156.5" width="101" height="5" fill="url(#w79)"/><rect x="558" y="185.5" width="101" height="5" fill="url(#w80)"/><rect x="558" y="215.6" width="101" height="8" fill="url(#w81)"/><rect x="558" y="274.5" width="101" height="5" fill="url(#w82)"/><rect x="558" y="311.5" width="101" height="5" fill="url(#w83)"/><rect x="558" y="432" width="101" height="8" fill="url(#w84)"/><rect x="558" y="483" width="101" height="8" fill="url(#w85)"/><rect x="585" y="76.5" width="74" height="5" fill="url(#w86)"/><rect x="557" y="136.5" width="38" height="5" fill="url(#w87)"/><rect x="587" y="136.5" width="72" height="5" fill="url(#w88)"/><rect x="559" y="339.5" width="36" height="5" fill="url(#w89)"/><rect x="587" y="354.5" width="73" height="5" fill="url(#w90)"/><rect x="559" y="408.5" width="34" height="5" fill="url(#w91)"/><rect x="585" y="416.5" width="73" height="5" fill="url(#w92)"/><rect x="585" y="461.5" width="74" height="5" fill="url(#w93)"/><rect x="692" y="47.5" width="34" height="5" fill="url(#w94)"/><rect x="692" y="76.5" width="34" height="5" fill="url(#w95)"/><rect x="692" y="104" width="34" height="5" fill="url(#w96)"/><rect x="692" y="131.5" width="34" height="5" fill="url(#w97)"/><rect x="692" y="154.5" width="34" height="5" fill="url(#w98)"/><rect x="692" y="184.5" width="34" height="5" fill="url(#w99)"/><rect x="692" y="214.5" width="34" height="5" fill="url(#w100)"/><rect x="692" y="311.5" width="34" height="5" fill="url(#w101)"/><rect x="692" y="340.5" width="34" height="5" fill="url(#w102)"/><rect x="692" y="357.5" width="34" height="5" fill="url(#w103)"/><rect x="692" y="407.5" width="34" height="5" fill="url(#w104)"/><rect x="829" y="50.5" width="34" height="5" fill="url(#w105)"/><rect x="829" y="78.5" width="34" height="5" fill="url(#w106)"/><rect x="829" y="106.5" width="34" height="5" fill="url(#w107)"/><rect x="829" y="136.5" width="34" height="5" fill="url(#w108)"/><rect x="829" y="157.5" width="34" height="5" fill="url(#w109)"/><rect x="829" y="182.5" width="34" height="5" fill="url(#w110)"/><rect x="829" y="214.5" width="34" height="5" fill="url(#w111)"/><rect x="829" y="274.5" width="34" height="5" fill="url(#w112)"/><rect x="829" y="310.5" width="34" height="5" fill="url(#w113)"/><rect x="829" y="338.5" width="34" height="5" fill="url(#w114)"/><rect x="829" y="436.5" width="34" height="5" fill="url(#w115)"/><rect x="829" y="463.5" width="34" height="5" fill="url(#w116)"/><rect x="888" y="56" width="80" height="8" fill="url(#w117)"/><rect x="888" y="82" width="80" height="8" fill="url(#w118)"/><rect x="888" y="107" width="80" height="8" fill="url(#w119)"/><rect x="888" y="133" width="80" height="8" fill="url(#w120)"/><rect x="888" y="153.5" width="80" height="5" fill="url(#w121)"/><rect x="888" y="185.5" width="80" height="5" fill="url(#w122)"/><rect x="888" y="222.5" width="80" height="5" fill="url(#w123)"/><rect x="888" y="274.5" width="80" height="5" fill="url(#w124)"/><rect x="888" y="309.5" width="80" height="5" fill="url(#w125)"/><rect x="888" y="338.5" width="80" height="5" fill="url(#w126)"/><rect x="888" y="360.5" width="80" height="5" fill="url(#w127)"/><rect x="888" y="407.5" width="80" height="5" fill="url(#w128)"/><rect x="888" y="436.5" width="80" height="5" fill="url(#w129)"/><rect x="888" y="464" width="80" height="5" fill="url(#w130)"/><rect x="888" y="483" width="80" height="8" fill="url(#w131)"/><rect x="986" y="53" width="89" height="5" fill="url(#w132)"/><rect x="986" y="79.5" width="87" height="5" fill="url(#w133)"/><rect x="983" y="107.5" width="76" height="5" fill="url(#w134)"/><rect x="1041" y="107.5" width="58" height="5" fill="url(#w135)"/><rect x="992" y="134.5" width="107" height="5" fill="url(#w136)"/><rect x="988" y="184.5" width="58" height="5" fill="url(#w137)"/><rect x="1020" y="209" width="49" height="5" fill="url(#w138)"/><rect x="992" y="221.5" width="42" height="5" fill="url(#w139)"/><rect x="1020" y="234" width="60" height="8" fill="url(#w140)"/><rect x="1057" y="255.5" width="46" height="5" fill="url(#w141)"/><rect x="1020" y="309.5" width="53" height="5" fill="url(#w142)"/><rect x="1025" y="333" width="55" height="8" fill="url(#w143)"/><rect x="1051" y="361.5" width="52" height="5" fill="url(#w144)"/><rect x="992" y="384.5" width="46" height="5" fill="url(#w145)"/><rect x="1053" y="414.5" width="50" height="5" fill="url(#w146)"/><rect x="1020" y="432.5" width="51" height="5" fill="url(#w147)"/><rect x="992" y="457.5" width="77" height="5" fill="url(#w148)"/><rect x="1051" y="461.5" width="52" height="5" fill="url(#w149)"/><rect x="988" y="482.5" width="69" height="5" fill="url(#w150)"/><rect x="1130" y="54.2" width="44" height="5" fill="url(#w151)"/><rect x="1130" y="79.5" width="44" height="5" fill="url(#w152)"/><rect x="1130" y="104.1" width="44" height="5" fill="url(#w153)"/><rect x="1130" y="131.9" width="44" height="5" fill="url(#w154)"/><rect x="1130" y="159.1" width="44" height="5" fill="url(#w155)"/><rect x="1130" y="189.5" width="44" height="5" fill="url(#w156)"/><rect x="1130" y="226.5" width="44" height="5" fill="url(#w157)"/><rect x="1130" y="255.5" width="44" height="5" fill="url(#w158)"/><rect x="1130" y="280.5" width="44" height="5" fill="url(#w159)"/><rect x="1130" y="309.5" width="44" height="5" fill="url(#w160)"/><rect x="1130" y="338.5" width="44" height="5" fill="url(#w161)"/><rect x="1130" y="367.5" width="44" height="5" fill="url(#w162)"/><rect x="1130" y="406" width="44" height="5" fill="url(#w163)"/><rect x="1130" y="436.5" width="44" height="5" fill="url(#w164)"/><rect x="1130" y="462.9" width="44" height="5" fill="url(#w165)"/></g><g filter="url(#vb)"><rect x="182" y="54" width="36" height="2" fill="url(#l0)"/><rect x="182" y="79" width="36" height="2" fill="url(#l1)"/><rect x="182" y="108" width="36" height="2" fill="url(#l2)"/><rect x="182" y="156" width="36" height="2" fill="url(#l3)"/><rect x="182" y="185" width="36" height="2" fill="url(#l4)"/><rect x="182" y="216" width="36" height="2" fill="url(#l5)"/><rect x="182" y="278.2" width="36" height="1.6" fill="url(#l6)"/><rect x="182" y="313" width="36" height="2" fill="url(#l7)"/><rect x="182" y="343" width="36" height="2" fill="url(#l8)"/><rect x="182" y="412" width="36" height="2" fill="url(#l9)"/><rect x="182" y="435" width="36" height="2" fill="url(#l10)"/><rect x="182" y="465" width="36" height="2" fill="url(#l11)"/><rect x="148" y="81" width="42" height="2" fill="url(#l12)"/><rect x="148" y="107" width="42" height="2" fill="url(#l13)"/><rect x="148" y="159" width="42" height="2" fill="url(#l14)"/><rect x="148" y="187" width="42" height="2" fill="url(#l15)"/><rect x="148" y="215" width="42" height="2" fill="url(#l16)"/><rect x="148" y="225" width="42" height="2" fill="url(#l17)"/><rect x="148" y="278" width="42" height="2" fill="url(#l18)"/><rect x="148" y="313" width="42" height="2" fill="url(#l19)"/><rect x="148" y="429" width="42" height="2" fill="url(#l20)"/><rect x="148" y="459" width="42" height="2" fill="url(#l21)"/><rect x="255" y="54.5" width="66" height="2" fill="url(#l22)"/><rect x="255" y="81" width="66" height="2" fill="url(#l23)"/><rect x="255" y="109.2" width="66" height="1.6" fill="url(#l24)"/><rect x="255" y="137" width="66" height="2" fill="url(#l25)"/><rect x="255" y="159" width="66" height="2" fill="url(#l26)"/><rect x="255" y="186" width="66" height="2" fill="url(#l27)"/><rect x="255" y="220" width="66" height="4" fill="url(#l28)"/><rect x="255" y="386.2" width="66" height="1.6" fill="url(#l29)"/><rect x="255" y="429" width="66" height="2" fill="url(#l30)"/><rect x="255" y="459" width="66" height="2" fill="url(#l31)"/><rect x="255" y="486.5" width="66" height="2" fill="url(#l32)"/><rect x="358" y="51" width="31" height="2" fill="url(#l33)"/><rect x="358" y="78" width="31" height="2" fill="url(#l34)"/><rect x="358" y="106" width="31" height="2" fill="url(#l35)"/><rect x="358" y="133" width="31" height="2" fill="url(#l36)"/><rect x="358" y="159" width="31" height="2" fill="url(#l37)"/><rect x="358" y="188" width="31" height="2" fill="url(#l38)"/><rect x="358" y="219" width="31" height="2" fill="url(#l39)"/><rect x="358" y="276" width="31" height="2" fill="url(#l40)"/><rect x="358" y="313" width="31" height="2" fill="url(#l41)"/><rect x="358" y="413" width="31" height="2" fill="url(#l42)"/><rect x="358" y="437.2" width="31" height="1.6" fill="url(#l43)"/><rect x="358" y="463" width="31" height="2" fill="url(#l44)"/><rect x="357" y="355.2" width="37" height="1.6" fill="url(#l45)"/><rect x="420" y="355.2" width="39" height="1.6" fill="url(#l46)"/><rect x="425" y="53" width="32" height="2" fill="url(#l47)"/><rect x="425" y="79" width="32" height="2" fill="url(#l48)"/><rect x="425" y="107" width="32" height="2" fill="url(#l49)"/><rect x="425" y="135" width="32" height="2" fill="url(#l50)"/><rect x="425" y="159" width="32" height="2" fill="url(#l51)"/><rect x="425" y="188" width="32" height="2" fill="url(#l52)"/><rect x="425" y="219" width="32" height="2" fill="url(#l53)"/><rect x="425" y="276" width="32" height="2" fill="url(#l54)"/><rect x="425" y="313" width="32" height="2" fill="url(#l55)"/><rect x="425" y="413" width="32" height="2" fill="url(#l56)"/><rect x="425" y="437" width="32" height="2" fill="url(#l57)"/><rect x="425" y="463" width="32" height="2" fill="url(#l58)"/><rect x="490" y="51" width="34" height="2" fill="url(#l59)"/><rect x="490" y="105.5" width="34" height="2" fill="url(#l60)"/><rect x="490" y="134.5" width="34" height="2" fill="url(#l61)"/><rect x="490" y="158" width="34" height="2" fill="url(#l62)"/><rect x="490" y="186" width="34" height="2" fill="url(#l63)"/><rect x="490" y="219" width="34" height="2" fill="url(#l64)"/><rect x="490" y="276" width="34" height="2" fill="url(#l65)"/><rect x="490" y="313" width="34" height="2" fill="url(#l66)"/><rect x="490" y="414.5" width="34" height="2" fill="url(#l67)"/><rect x="490" y="436.5" width="34" height="2" fill="url(#l68)"/><rect x="490" y="463" width="34" height="2" fill="url(#l69)"/><rect x="482" y="78" width="50" height="2" fill="url(#l70)"/><rect x="485" y="356.9" width="44" height="1.6" fill="url(#l71)"/><rect x="558" y="53" width="101" height="2" fill="url(#l72)"/><rect x="558" y="105.5" width="101" height="2" fill="url(#l73)"/><rect x="558" y="158" width="101" height="2" fill="url(#l74)"/><rect x="558" y="187" width="101" height="2" fill="url(#l75)"/><rect x="558" y="217.6" width="101" height="4" fill="url(#l76)"/><rect x="558" y="276" width="101" height="2" fill="url(#l77)"/><rect x="558" y="313" width="101" height="2" fill="url(#l78)"/><rect x="558" y="434" width="101" height="4" fill="url(#l79)"/><rect x="558" y="485" width="101" height="4" fill="url(#l80)"/><rect x="585" y="78" width="74" height="2" fill="url(#l81)"/><rect x="557" y="138" width="38" height="2" fill="url(#l82)"/><rect x="587" y="138" width="72" height="2" fill="url(#l83)"/><rect x="559" y="341" width="36" height="2" fill="url(#l84)"/><rect x="587" y="356.2" width="73" height="1.6" fill="url(#l85)"/><rect x="559" y="410" width="34" height="2" fill="url(#l86)"/><rect x="585" y="418.2" width="73" height="1.6" fill="url(#l87)"/><rect x="585" y="463" width="74" height="2" fill="url(#l88)"/><rect x="692" y="49" width="34" height="2" fill="url(#l89)"/><rect x="692" y="78" width="34" height="2" fill="url(#l90)"/><rect x="692" y="105.5" width="34" height="2" fill="url(#l91)"/><rect x="692" y="133" width="34" height="2" fill="url(#l92)"/><rect x="692" y="156" width="34" height="2" fill="url(#l93)"/><rect x="692" y="186" width="34" height="2" fill="url(#l94)"/><rect x="692" y="216" width="34" height="2" fill="url(#l95)"/><rect x="692" y="313" width="34" height="2" fill="url(#l96)"/><rect x="692" y="342" width="34" height="2" fill="url(#l97)"/><rect x="692" y="359" width="34" height="2" fill="url(#l98)"/><rect x="692" y="409" width="34" height="2" fill="url(#l99)"/><rect x="829" y="52" width="34" height="2" fill="url(#l100)"/><rect x="829" y="80" width="34" height="2" fill="url(#l101)"/><rect x="829" y="108" width="34" height="2" fill="url(#l102)"/><rect x="829" y="138" width="34" height="2" fill="url(#l103)"/><rect x="829" y="159" width="34" height="2" fill="url(#l104)"/><rect x="829" y="184" width="34" height="2" fill="url(#l105)"/><rect x="829" y="216" width="34" height="2" fill="url(#l106)"/><rect x="829" y="276" width="34" height="2" fill="url(#l107)"/><rect x="829" y="312" width="34" height="2" fill="url(#l108)"/><rect x="829" y="340" width="34" height="2" fill="url(#l109)"/><rect x="829" y="438" width="34" height="2" fill="url(#l110)"/><rect x="829" y="465" width="34" height="2" fill="url(#l111)"/><rect x="888" y="187.2" width="80" height="1.6" fill="url(#l112)"/><rect x="888" y="224.2" width="80" height="1.6" fill="url(#l113)"/><rect x="888" y="276" width="80" height="2" fill="url(#l114)"/><rect x="888" y="311.2" width="80" height="1.6" fill="url(#l115)"/><rect x="888" y="340.2" width="80" height="1.6" fill="url(#l116)"/><rect x="888" y="362" width="80" height="2" fill="url(#l117)"/><rect x="888" y="409" width="80" height="2" fill="url(#l118)"/><rect x="888" y="438.2" width="80" height="1.6" fill="url(#l119)"/><rect x="888" y="465.5" width="80" height="2" fill="url(#l120)"/><rect x="888" y="485" width="80" height="4" fill="url(#l121)"/><rect x="986" y="54.8" width="89" height="1.4" fill="url(#l122)"/><rect x="986" y="81.3" width="87" height="1.4" fill="url(#l123)"/><rect x="983" y="109.3" width="76" height="1.4" fill="url(#l124)"/><rect x="1041" y="109" width="58" height="2" fill="url(#l125)"/><rect x="992" y="136" width="107" height="2" fill="url(#l126)"/><rect x="988" y="186" width="58" height="2" fill="url(#l127)"/><rect x="1020" y="210.5" width="49" height="2" fill="url(#l128)"/><rect x="992" y="223" width="42" height="2" fill="url(#l129)"/><rect x="1020" y="236.4" width="60" height="3.2" fill="url(#l130)"/><rect x="1057" y="257" width="46" height="2" fill="url(#l131)"/><rect x="1020" y="311" width="53" height="2" fill="url(#l132)"/><rect x="1025" y="335" width="55" height="4" fill="url(#l133)"/><rect x="1051" y="363" width="52" height="2" fill="url(#l134)"/><rect x="992" y="386" width="46" height="2" fill="url(#l135)"/><rect x="1053" y="416" width="50" height="2" fill="url(#l136)"/><rect x="1020" y="434" width="51" height="2" fill="url(#l137)"/><rect x="992" y="459" width="77" height="2" fill="url(#l138)"/><rect x="1051" y="463" width="52" height="2" fill="url(#l139)"/><rect x="988" y="484" width="69" height="2" fill="url(#l140)"/><rect x="1130" y="55.9" width="44" height="1.6" fill="url(#l141)"/><rect x="1130" y="81" width="44" height="2" fill="url(#l142)"/><rect x="1130" y="105.8" width="44" height="1.6" fill="url(#l143)"/><rect x="1130" y="133.4" width="44" height="2" fill="url(#l144)"/><rect x="1130" y="160.8" width="44" height="1.6" fill="url(#l145)"/><rect x="1130" y="191.2" width="44" height="1.6" fill="url(#l146)"/><rect x="1130" y="228.2" width="44" height="1.6" fill="url(#l147)"/><rect x="1130" y="257" width="44" height="2" fill="url(#l148)"/><rect x="1130" y="282" width="44" height="2" fill="url(#l149)"/><rect x="1130" y="311" width="44" height="2" fill="url(#l150)"/><rect x="1130" y="340.2" width="44" height="1.6" fill="url(#l151)"/><rect x="1130" y="369" width="44" height="2" fill="url(#l152)"/><rect x="1130" y="407.7" width="44" height="1.6" fill="url(#l153)"/><rect x="1130" y="438.2" width="44" height="1.6" fill="url(#l154)"/><rect x="1130" y="464.6" width="44" height="1.6" fill="url(#l155)"/></g></g></g>
<rect x="1230" y="30" width="23" height="480" fill="url(#cb)"/>
<rect x="120" y="30" width="1044" height="480" fill="none" stroke="#000" stroke-width="1.111" stroke-linecap="square"/>
<rect x="1230" y="30" width="23" height="480" fill="none" stroke="#000" stroke-width="1.111" stroke-linecap="square"/>
<path d="M137.2 510v4.861M238.24 510v4.861M339.28 510v4.861M440.32 510v4.861M541.36 510v4.861M642.4 510v4.861M743.44 510v4.861M844.48 510v4.861M945.52 510v4.861M1046.56 510v4.861M1147.6 510v4.861M120 410h-4.861M120 310h-4.861M120 210h-4.861M120 110h-4.861M1253 468.15h4.861M1253 392.73h4.861M1253 317.32h4.861M1253 241.91h4.861M1253 166.5h4.861M1253 91.08h4.861" stroke="#000" stroke-width="1.111" fill="none"/>
<g><text transform="translate(91.05 571.29) rotate(-45)">04:15:00</text>
<text transform="translate(192.09 571.29) rotate(-45)">04:15:00</text>
<text transform="translate(293.13 571.29) rotate(-45)">04:15:00</text>
<text transform="translate(394.17 571.29) rotate(-45)">04:15:00</text>
<text transform="translate(495.21 571.29) rotate(-45)">04:15:01</text>
<text transform="translate(596.25 571.29) rotate(-45)">04:15:01</text>
<text transform="translate(697.29 571.29) rotate(-45)">04:15:01</text>
<text transform="translate(798.33 571.29) rotate(-45)">04:15:01</text>
<text transform="translate(899.37 571.29) rotate(-45)">04:15:01</text>
<text transform="translate(1000.41 571.29) rotate(-45)">04:15:01</text>
<text transform="translate(1101.45 571.29) rotate(-45)">04:15:01</text>
<text x="642" y="589.44" text-anchor="middle">Time</text>
<text x="110.28" y="415.28" text-anchor="end">10000</text>
<text x="110.28" y="315.28" text-anchor="end">20000</text>
<text x="110.28" y="215.28" text-anchor="end">30000</text>
<text x="110.28" y="115.28" text-anchor="end">40000</text>
<text transform="translate(57.65 270) rotate(-90)" text-anchor="middle">Frequency [Hz]</text>
<text x="642" y="21.67" text-anchor="middle" style="font-size:16.667px">NAXYS-SN0010 hydrophone spectrogram at 2025-10-06 04:15:00Z</text>
<text x="1262.72" y="473.42">0</text>
<text x="1262.72" y="398.01">20</text>
<text x="1262.72" y="322.6">40</text>
<text x="1262.72" y="247.19">60</text>
<text x="1262.72" y="171.77">80</text>
<text x="1262.72" y="96.36">100</text>
<text transform="translate(1285.5 270) rotate(90)" text-anchor="middle">Pressure [dB re 1 uPa]</text></g>
</svg></body></html>
